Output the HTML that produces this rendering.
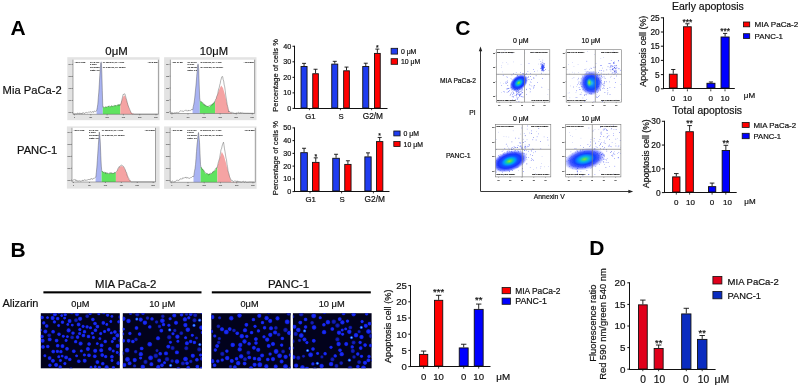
<!DOCTYPE html>
<html><head><meta charset="utf-8"><style>
html,body{margin:0;padding:0;background:#fff;width:799px;height:386px;overflow:hidden;}
svg{display:block;filter:blur(0.25px);}
text{font-family:"Liberation Sans",sans-serif;}
</style></head><body>
<svg width="799" height="386" viewBox="0 0 799 386" font-family="Liberation Sans, sans-serif">
<rect x="0.00" y="0.00" width="799.00" height="386.00" fill="#fff" stroke="none" stroke-width="0"/>
<text x="10.60" y="35.00" font-size="21" text-anchor="start" font-weight="bold" fill="#000" stroke="#000" stroke-width="0" >A</text>
<text x="2.60" y="94.00" font-size="11.2" text-anchor="start" font-weight="normal" fill="#111" stroke="#111" stroke-width="0.2" >Mia PaCa-2</text>
<text x="17.00" y="153.60" font-size="11.2" text-anchor="start" font-weight="normal" fill="#111" stroke="#111" stroke-width="0.2" >PANC-1</text>
<text x="105.30" y="55.00" font-size="11.4" text-anchor="start" font-weight="normal" fill="#111" stroke="#111" stroke-width="0.2" >0μM</text>
<text x="199.80" y="55.00" font-size="11.2" text-anchor="start" font-weight="normal" fill="#111" stroke="#111" stroke-width="0.2" >10μM</text>
<rect x="67.30" y="57.20" width="92.30" height="63.00" fill="#e3e3e3" stroke="none" stroke-width="0"/>
<rect x="73.00" y="59.70" width="85.40" height="54.60" fill="#ffffff" stroke="none" stroke-width="0"/>
<path d="M96.60,114.30 L96.60,110.25 L96.80,110.00 L97.80,104.00 L98.80,92.00 L99.80,75.00 L100.60,64.00 L101.00,61.10 L101.50,64.00 L102.00,78.00 L102.50,98.00 L102.80,107.30 L102.80,114.30 Z" fill="#a9b3f2" stroke="none"/>
<path d="M102.80,114.30 L102.80,107.30 L103.40,106.73 L104.00,107.67 L104.60,107.50 L105.20,106.73 L105.80,107.01 L106.40,106.87 L107.00,107.06 L107.60,107.16 L108.20,106.10 L108.80,105.92 L109.40,106.96 L110.00,106.31 L110.60,106.68 L111.20,105.52 L111.80,106.05 L112.40,106.35 L113.00,105.57 L113.60,106.48 L114.20,106.33 L114.80,105.02 L115.40,104.93 L116.00,105.56 L116.60,106.02 L117.20,105.15 L117.80,104.83 L118.40,105.01 L119.00,104.33 L119.60,104.48 L120.20,104.65 L120.40,104.70 L120.40,114.30 Z" fill="#5fe35f" stroke="none"/>
<path d="M120.40,114.30 L120.40,104.70 L121.50,101.50 L122.80,97.50 L124.10,95.30 L125.20,96.50 L126.50,100.00 L128.00,105.00 L129.50,109.50 L131.00,112.50 L132.50,113.60 L134.00,114.10 L134.00,114.30 Z" fill="#f5a3a3" stroke="none"/>
<path d="M73.30,113.28 L73.80,114.10 L74.30,114.10 L74.80,113.38 L75.30,113.70 L75.80,113.61 L76.30,113.87 L76.80,114.04 L77.30,113.05 L77.80,112.93 L78.30,114.04 L78.80,113.46 L79.30,113.90 L79.80,112.81 L80.30,113.40 L80.80,113.74 L81.30,113.01 L81.80,113.97 L82.30,113.87 L82.80,112.61 L83.30,112.56 L83.80,113.24 L84.30,113.76 L84.80,112.93 L85.30,112.66 L85.80,112.91 L86.30,112.29 L86.80,112.47 L87.30,112.69 L87.80,112.68 L88.30,112.22 L88.80,112.13 L89.30,112.03 L89.80,112.28 L90.30,111.95 L90.80,111.49 L91.30,112.55 L91.80,112.06 L92.30,112.10 L92.80,111.37 L93.30,112.41 L93.80,112.14 L94.30,110.98 L94.80,111.13 L95.30,111.52 L95.80,111.36 L96.30,111.24 L96.80,109.89 L97.30,107.46 L97.80,104.24 L98.30,97.72 L98.80,92.12 L99.30,84.04 L99.80,75.48 L100.30,68.13 L100.80,62.67 L101.30,62.19 L101.80,72.04 L102.30,90.42 L102.80,107.18 L103.30,106.80 L103.80,107.27 L104.30,107.44 L104.80,107.36 L105.30,106.89 L105.80,106.93 L106.30,106.97 L106.80,107.27 L107.30,106.83 L107.80,106.58 L108.30,106.64 L108.80,105.92 L109.30,105.87 L109.80,106.71 L110.30,107.03 L110.80,106.41 L111.30,106.06 L111.80,105.67 L112.30,106.06 L112.80,106.65 L113.30,106.28 L113.80,105.89 L114.30,106.26 L114.80,105.31 L115.30,105.62 L115.80,106.16 L116.30,105.56 L116.80,105.32 L117.30,104.98 L117.80,105.30 L118.30,105.78 L118.80,104.34 L119.30,105.33 L119.80,105.27 L120.30,105.26 L120.80,103.87 L121.30,102.51 L121.80,100.19 L122.30,98.02 L122.80,95.60 L123.30,94.23 L123.80,94.53 L124.30,93.82 L124.80,93.84 L125.30,95.11 L125.80,97.13 L126.30,98.98 L126.80,100.78 L127.30,102.72 L127.80,104.51 L128.30,106.06 L128.80,107.34 L129.30,108.24 L129.80,109.72 L130.30,110.65 L130.80,112.22 L131.30,113.23 L131.80,113.50 L132.30,113.87 L132.80,114.10 L133.30,113.87 L133.80,114.03 L134.30,114.10 L134.80,114.10 L135.30,114.10 L135.80,114.10 L136.30,114.10 L136.80,114.10 L137.30,114.10 L137.80,114.10 L138.30,114.10 L138.80,114.10 L139.30,114.10 L139.80,114.10 L140.30,114.10 L140.80,114.10 L141.30,114.10 L141.80,114.10 L142.30,114.10 L142.80,114.10 L143.30,114.10 L143.80,114.10 L144.30,114.10 L144.80,114.10 L145.30,114.10 L145.80,114.10 L146.30,114.10 L146.80,114.10 L147.30,114.10 L147.80,114.10 L148.30,114.10 L148.80,114.10 L149.30,114.10 L149.80,114.10 L150.30,114.10 L150.80,114.10 L151.30,114.10 L151.80,114.10 L152.30,114.10 L152.80,114.10 L153.30,114.10 L153.80,114.10 L154.30,114.10 L154.80,114.10 L155.30,114.10 L155.80,114.10 L156.30,114.10 L156.80,114.10 L157.30,114.10 L157.80,114.10" fill="none" stroke="#444" stroke-width="0.4"/>
<line x1="73.00" y1="59.70" x2="73.00" y2="114.30" stroke="#555" stroke-width="0.5"/>
<line x1="73.00" y1="114.30" x2="158.40" y2="114.30" stroke="#555" stroke-width="0.5"/>
<line x1="158.40" y1="59.70" x2="158.40" y2="114.30" stroke="#666" stroke-width="0.6"/>
<line x1="72.00" y1="112.50" x2="73.00" y2="112.50" stroke="#444" stroke-width="0.5"/>
<text x="68.60" y="113.30" font-size="2.2" textLength="3.0" lengthAdjust="spacingAndGlyphs" fill="#666" stroke="#666" stroke-width="0.12">100</text>
<line x1="72.00" y1="100.48" x2="73.00" y2="100.48" stroke="#444" stroke-width="0.5"/>
<text x="68.60" y="101.28" font-size="2.2" textLength="3.0" lengthAdjust="spacingAndGlyphs" fill="#666" stroke="#666" stroke-width="0.12">101</text>
<line x1="72.00" y1="88.46" x2="73.00" y2="88.46" stroke="#444" stroke-width="0.5"/>
<text x="68.60" y="89.26" font-size="2.2" textLength="3.0" lengthAdjust="spacingAndGlyphs" fill="#666" stroke="#666" stroke-width="0.12">102</text>
<line x1="72.00" y1="76.43" x2="73.00" y2="76.43" stroke="#444" stroke-width="0.5"/>
<text x="68.60" y="77.23" font-size="2.2" textLength="3.0" lengthAdjust="spacingAndGlyphs" fill="#666" stroke="#666" stroke-width="0.12">103</text>
<line x1="72.00" y1="64.41" x2="73.00" y2="64.41" stroke="#444" stroke-width="0.5"/>
<text x="68.60" y="65.21" font-size="2.2" textLength="3.0" lengthAdjust="spacingAndGlyphs" fill="#666" stroke="#666" stroke-width="0.12">104</text>
<line x1="74.50" y1="114.30" x2="74.50" y2="115.30" stroke="#444" stroke-width="0.5"/>
<text x="74.00" y="118.30" font-size="2.2" textLength="1.0" lengthAdjust="spacingAndGlyphs" fill="#666" stroke="#666" stroke-width="0.12">0</text>
<line x1="90.81" y1="114.30" x2="90.81" y2="115.30" stroke="#444" stroke-width="0.5"/>
<text x="89.51" y="118.30" font-size="2.2" textLength="2.6" lengthAdjust="spacingAndGlyphs" fill="#666" stroke="#666" stroke-width="0.12">500</text>
<line x1="107.11" y1="114.30" x2="107.11" y2="115.30" stroke="#444" stroke-width="0.5"/>
<text x="105.41" y="118.30" font-size="2.2" textLength="3.4" lengthAdjust="spacingAndGlyphs" fill="#666" stroke="#666" stroke-width="0.12">1000</text>
<line x1="123.42" y1="114.30" x2="123.42" y2="115.30" stroke="#444" stroke-width="0.5"/>
<text x="121.72" y="118.30" font-size="2.2" textLength="3.4" lengthAdjust="spacingAndGlyphs" fill="#666" stroke="#666" stroke-width="0.12">1500</text>
<line x1="139.72" y1="114.30" x2="139.72" y2="115.30" stroke="#444" stroke-width="0.5"/>
<text x="138.02" y="118.30" font-size="2.2" textLength="3.4" lengthAdjust="spacingAndGlyphs" fill="#666" stroke="#666" stroke-width="0.12">2000</text>
<line x1="156.03" y1="114.30" x2="156.03" y2="115.30" stroke="#444" stroke-width="0.5"/>
<text x="154.33" y="118.30" font-size="2.2" textLength="3.4" lengthAdjust="spacingAndGlyphs" fill="#666" stroke="#666" stroke-width="0.12">2500</text>
<text x="74.40" y="62.80" font-size="2.3" textLength="10.8" lengthAdjust="spacingAndGlyphs" fill="#2a2a2a" stroke="#2a2a2a" stroke-width="0.12">=Dn 14.85</text>
<text x="90.10" y="62.80" font-size="2.3" textLength="9.2" lengthAdjust="spacingAndGlyphs" fill="#2a2a2a" stroke="#2a2a2a" stroke-width="0.12">G1: 31.40%</text>
<text x="102.80" y="62.80" font-size="2.3" textLength="21.5" lengthAdjust="spacingAndGlyphs" fill="#2a2a2a" stroke="#2a2a2a" stroke-width="0.12">(p: 100.046, cv: 4.400)</text>
<text x="90.10" y="65.00" font-size="2.3" textLength="6.6" lengthAdjust="spacingAndGlyphs" fill="#2a2a2a" stroke="#2a2a2a" stroke-width="0.12">S: 37.2%</text>
<text x="90.10" y="67.80" font-size="2.3" textLength="9.5" lengthAdjust="spacingAndGlyphs" fill="#2a2a2a" stroke="#2a2a2a" stroke-width="0.12">G2: 28.13%</text>
<text x="102.80" y="67.80" font-size="2.3" textLength="23" lengthAdjust="spacingAndGlyphs" fill="#2a2a2a" stroke="#2a2a2a" stroke-width="0.12">(p: 1.97/.96, cv: 10.8%)</text>
<text x="90.10" y="70.50" font-size="2.3" textLength="9.5" lengthAdjust="spacingAndGlyphs" fill="#2a2a2a" stroke="#2a2a2a" stroke-width="0.12">Ratio: 1.9</text>
<text x="147.40" y="62.80" font-size="2.3" textLength="10.2" lengthAdjust="spacingAndGlyphs" fill="#2a2a2a" stroke="#2a2a2a" stroke-width="0.12">=Rn 2.300</text>
<rect x="164.10" y="57.20" width="92.40" height="63.00" fill="#e3e3e3" stroke="none" stroke-width="0"/>
<rect x="170.40" y="59.70" width="84.20" height="53.80" fill="#ffffff" stroke="none" stroke-width="0"/>
<path d="M192.60,113.50 L192.60,109.12 L192.90,109.00 L194.50,100.00 L196.00,85.00 L197.20,70.00 L198.00,62.00 L198.70,68.00 L199.20,85.00 L199.80,100.40 L199.80,113.50 Z" fill="#a9b3f2" stroke="none"/>
<path d="M199.80,113.50 L199.80,100.40 L200.40,101.61 L201.00,102.17 L201.60,101.50 L202.20,102.09 L202.80,103.64 L203.40,104.00 L204.00,104.40 L204.60,104.40 L205.20,105.26 L205.80,105.62 L206.40,105.93 L207.00,105.69 L207.60,106.26 L208.20,106.07 L208.80,106.39 L209.40,106.63 L210.00,106.43 L210.60,105.50 L211.20,105.00 L211.80,104.40 L212.40,103.71 L213.00,103.34 L213.60,103.27 L214.20,102.37 L214.80,101.77 L215.10,101.60 L215.10,113.50 Z" fill="#5fe35f" stroke="none"/>
<path d="M215.10,113.50 L215.10,101.60 L217.00,96.00 L219.00,90.00 L221.20,85.40 L223.00,88.00 L225.00,95.00 L227.00,104.00 L228.70,111.60 L230.50,112.80 L232.00,113.30 L232.00,113.50 Z" fill="#f5a3a3" stroke="none"/>
<path d="M170.70,113.30 L171.20,113.30 L171.70,112.33 L172.20,112.35 L172.70,113.30 L173.20,113.23 L173.70,113.12 L174.20,112.59 L174.70,112.99 L175.20,112.98 L175.70,112.92 L176.20,112.26 L176.70,112.48 L177.20,112.26 L177.70,112.56 L178.20,112.78 L178.70,112.55 L179.20,111.82 L179.70,111.52 L180.20,111.15 L180.70,110.76 L181.20,110.68 L181.70,111.22 L182.20,110.95 L182.70,110.97 L183.20,111.62 L183.70,111.04 L184.20,111.02 L184.70,110.50 L185.20,110.14 L185.70,110.50 L186.20,110.17 L186.70,110.63 L187.20,111.25 L187.70,110.73 L188.20,109.98 L188.70,110.91 L189.20,110.72 L189.70,110.57 L190.20,110.69 L190.70,110.28 L191.20,110.11 L191.70,109.29 L192.20,109.96 L192.70,109.73 L193.20,106.84 L193.70,104.86 L194.20,101.99 L194.70,97.95 L195.20,93.04 L195.70,87.99 L196.20,83.09 L196.70,76.25 L197.20,70.46 L197.70,64.80 L198.20,64.25 L198.70,68.56 L199.20,84.95 L199.70,97.93 L200.20,101.37 L200.70,101.57 L201.20,101.72 L201.70,101.82 L202.20,102.42 L202.70,103.36 L203.20,103.03 L203.70,104.49 L204.20,104.01 L204.70,105.33 L205.20,104.85 L205.70,106.05 L206.20,105.99 L206.70,106.00 L207.20,106.31 L207.70,106.54 L208.20,106.34 L208.70,105.84 L209.20,105.58 L209.70,105.89 L210.20,106.29 L210.70,105.55 L211.20,104.49 L211.70,105.23 L212.20,104.80 L212.70,104.75 L213.20,103.31 L213.70,103.44 L214.20,101.84 L214.70,102.03 L215.20,100.70 L215.70,99.24 L216.20,98.75 L216.70,96.28 L217.20,95.47 L217.70,94.22 L218.20,91.16 L218.70,88.91 L219.20,87.75 L219.70,85.14 L220.20,83.58 L220.70,80.63 L221.20,79.04 L221.70,77.00 L222.20,76.34 L222.70,76.70 L223.20,79.69 L223.70,81.04 L224.20,84.91 L224.70,86.80 L225.20,90.41 L225.70,95.06 L226.20,98.02 L226.70,101.18 L227.20,104.69 L227.70,106.55 L228.20,108.37 L228.70,111.99 L229.20,111.17 L229.70,111.37 L230.20,112.17 L230.70,112.78 L231.20,113.00 L231.70,112.17 L232.20,112.52 L232.70,112.14 L233.20,112.77 L233.70,113.26 L234.20,113.26 L234.70,113.30 L235.20,113.30 L235.70,113.30 L236.20,113.24 L236.70,112.89 L237.20,112.53 L237.70,113.12 L238.20,112.61 L238.70,112.29 L239.20,112.76 L239.70,113.30 L240.20,112.29 L240.70,112.97 L241.20,112.75 L241.70,112.96 L242.20,112.48 L242.70,113.02 L243.20,113.06 L243.70,113.10 L244.20,113.14 L244.70,113.18 L245.20,113.20 L245.70,113.21 L246.20,113.21 L246.70,113.22 L247.20,113.22 L247.70,113.23 L248.20,113.24 L248.70,113.24 L249.20,113.25 L249.70,113.25 L250.20,113.26 L250.70,113.26 L251.20,113.27 L251.70,113.27 L252.20,113.28 L252.70,113.29 L253.20,113.29 L253.70,113.30" fill="none" stroke="#444" stroke-width="0.4"/>
<line x1="170.40" y1="59.70" x2="170.40" y2="113.50" stroke="#555" stroke-width="0.5"/>
<line x1="170.40" y1="113.50" x2="254.60" y2="113.50" stroke="#555" stroke-width="0.5"/>
<line x1="254.60" y1="59.70" x2="254.60" y2="113.50" stroke="#666" stroke-width="0.6"/>
<line x1="169.40" y1="111.70" x2="170.40" y2="111.70" stroke="#444" stroke-width="0.5"/>
<text x="166.00" y="112.50" font-size="2.2" textLength="3.0" lengthAdjust="spacingAndGlyphs" fill="#666" stroke="#666" stroke-width="0.12">100</text>
<line x1="169.40" y1="99.85" x2="170.40" y2="99.85" stroke="#444" stroke-width="0.5"/>
<text x="166.00" y="100.65" font-size="2.2" textLength="3.0" lengthAdjust="spacingAndGlyphs" fill="#666" stroke="#666" stroke-width="0.12">101</text>
<line x1="169.40" y1="88.01" x2="170.40" y2="88.01" stroke="#444" stroke-width="0.5"/>
<text x="166.00" y="88.81" font-size="2.2" textLength="3.0" lengthAdjust="spacingAndGlyphs" fill="#666" stroke="#666" stroke-width="0.12">102</text>
<line x1="169.40" y1="76.16" x2="170.40" y2="76.16" stroke="#444" stroke-width="0.5"/>
<text x="166.00" y="76.96" font-size="2.2" textLength="3.0" lengthAdjust="spacingAndGlyphs" fill="#666" stroke="#666" stroke-width="0.12">103</text>
<line x1="169.40" y1="64.32" x2="170.40" y2="64.32" stroke="#444" stroke-width="0.5"/>
<text x="166.00" y="65.12" font-size="2.2" textLength="3.0" lengthAdjust="spacingAndGlyphs" fill="#666" stroke="#666" stroke-width="0.12">104</text>
<line x1="171.90" y1="113.50" x2="171.90" y2="114.50" stroke="#444" stroke-width="0.5"/>
<text x="171.40" y="117.50" font-size="2.2" textLength="1.0" lengthAdjust="spacingAndGlyphs" fill="#666" stroke="#666" stroke-width="0.12">0</text>
<line x1="187.98" y1="113.50" x2="187.98" y2="114.50" stroke="#444" stroke-width="0.5"/>
<text x="186.68" y="117.50" font-size="2.2" textLength="2.6" lengthAdjust="spacingAndGlyphs" fill="#666" stroke="#666" stroke-width="0.12">500</text>
<line x1="204.05" y1="113.50" x2="204.05" y2="114.50" stroke="#444" stroke-width="0.5"/>
<text x="202.35" y="117.50" font-size="2.2" textLength="3.4" lengthAdjust="spacingAndGlyphs" fill="#666" stroke="#666" stroke-width="0.12">1000</text>
<line x1="220.13" y1="113.50" x2="220.13" y2="114.50" stroke="#444" stroke-width="0.5"/>
<text x="218.43" y="117.50" font-size="2.2" textLength="3.4" lengthAdjust="spacingAndGlyphs" fill="#666" stroke="#666" stroke-width="0.12">1500</text>
<line x1="236.21" y1="113.50" x2="236.21" y2="114.50" stroke="#444" stroke-width="0.5"/>
<text x="234.51" y="117.50" font-size="2.2" textLength="3.4" lengthAdjust="spacingAndGlyphs" fill="#666" stroke="#666" stroke-width="0.12">2000</text>
<line x1="252.28" y1="113.50" x2="252.28" y2="114.50" stroke="#444" stroke-width="0.5"/>
<text x="250.58" y="117.50" font-size="2.2" textLength="3.4" lengthAdjust="spacingAndGlyphs" fill="#666" stroke="#666" stroke-width="0.12">2500</text>
<text x="171.80" y="62.80" font-size="2.3" textLength="10.8" lengthAdjust="spacingAndGlyphs" fill="#2a2a2a" stroke="#2a2a2a" stroke-width="0.12">=Dn 14.85</text>
<text x="187.50" y="62.80" font-size="2.3" textLength="9.2" lengthAdjust="spacingAndGlyphs" fill="#2a2a2a" stroke="#2a2a2a" stroke-width="0.12">G1: 31.40%</text>
<text x="200.20" y="62.80" font-size="2.3" textLength="21.5" lengthAdjust="spacingAndGlyphs" fill="#2a2a2a" stroke="#2a2a2a" stroke-width="0.12">(p: 100.046, cv: 4.400)</text>
<text x="187.50" y="65.00" font-size="2.3" textLength="6.6" lengthAdjust="spacingAndGlyphs" fill="#2a2a2a" stroke="#2a2a2a" stroke-width="0.12">S: 37.2%</text>
<text x="187.50" y="67.80" font-size="2.3" textLength="9.5" lengthAdjust="spacingAndGlyphs" fill="#2a2a2a" stroke="#2a2a2a" stroke-width="0.12">G2: 28.13%</text>
<text x="200.20" y="67.80" font-size="2.3" textLength="23" lengthAdjust="spacingAndGlyphs" fill="#2a2a2a" stroke="#2a2a2a" stroke-width="0.12">(p: 1.97/.96, cv: 10.8%)</text>
<text x="187.50" y="70.50" font-size="2.3" textLength="9.5" lengthAdjust="spacingAndGlyphs" fill="#2a2a2a" stroke="#2a2a2a" stroke-width="0.12">Ratio: 1.9</text>
<text x="243.60" y="62.80" font-size="2.3" textLength="10.2" lengthAdjust="spacingAndGlyphs" fill="#2a2a2a" stroke="#2a2a2a" stroke-width="0.12">=Rn 2.300</text>
<rect x="66.90" y="126.40" width="92.70" height="62.20" fill="#e3e3e3" stroke="none" stroke-width="0"/>
<rect x="72.00" y="127.80" width="83.50" height="54.20" fill="#ffffff" stroke="none" stroke-width="0"/>
<path d="M95.60,182.00 L95.60,177.33 L95.90,177.00 L97.00,165.00 L98.30,145.00 L99.30,131.70 L100.20,140.00 L101.00,160.00 L101.60,171.00 L101.60,182.00 Z" fill="#a9b3f2" stroke="none"/>
<path d="M101.60,182.00 L101.60,171.00 L102.20,171.01 L102.80,171.81 L103.40,171.94 L104.00,172.65 L104.60,172.83 L105.20,172.19 L105.80,172.27 L106.40,173.57 L107.00,172.91 L107.60,173.03 L108.20,174.17 L108.80,173.36 L109.40,173.80 L110.00,173.22 L110.60,173.37 L111.20,172.61 L111.80,173.21 L112.40,173.48 L113.00,172.96 L113.60,173.21 L114.20,173.07 L114.80,172.17 L115.40,173.10 L115.90,172.70 L115.90,182.00 Z" fill="#5fe35f" stroke="none"/>
<path d="M115.90,182.00 L115.90,172.70 L117.50,170.00 L119.50,167.00 L121.60,165.90 L123.00,166.50 L124.50,168.50 L126.50,173.00 L128.00,177.00 L129.20,180.00 L131.00,181.80 L131.00,182.00 Z" fill="#f5a3a3" stroke="none"/>
<path d="M72.30,180.80 L72.80,180.67 L73.30,179.86 L73.80,179.78 L74.30,180.01 L74.80,179.42 L75.30,179.54 L75.80,180.89 L76.30,180.20 L76.80,180.23 L77.30,181.36 L77.80,180.68 L78.30,181.26 L78.80,180.82 L79.30,181.11 L79.80,180.49 L80.30,181.14 L80.80,181.38 L81.30,180.82 L81.80,181.04 L82.30,180.86 L82.80,179.92 L83.30,180.80 L83.80,180.47 L84.30,179.96 L84.80,179.48 L85.30,180.55 L85.80,179.90 L86.30,180.15 L86.80,180.27 L87.30,179.94 L87.80,180.13 L88.30,179.32 L88.80,179.82 L89.30,179.26 L89.80,179.88 L90.30,179.74 L90.80,178.59 L91.30,178.58 L91.80,178.63 L92.30,179.55 L92.80,178.64 L93.30,178.74 L93.80,178.12 L94.30,178.24 L94.80,177.91 L95.30,177.46 L95.80,177.23 L96.30,172.75 L96.80,167.75 L97.30,160.64 L97.80,153.29 L98.30,145.50 L98.80,139.04 L99.30,131.94 L99.80,135.84 L100.30,143.00 L100.80,155.65 L101.30,166.07 L101.80,171.22 L102.30,171.74 L102.80,171.35 L103.30,172.53 L103.80,172.48 L104.30,172.27 L104.80,172.09 L105.30,173.32 L105.80,173.64 L106.30,172.50 L106.80,173.62 L107.30,173.20 L107.80,172.96 L108.30,173.17 L108.80,173.78 L109.30,173.86 L109.80,172.64 L110.30,173.37 L110.80,172.51 L111.30,173.39 L111.80,172.79 L112.30,173.51 L112.80,173.61 L113.30,172.91 L113.80,173.56 L114.30,172.56 L114.80,172.19 L115.30,172.89 L115.80,172.05 L116.30,171.60 L116.80,171.05 L117.30,170.49 L117.80,168.95 L118.30,167.84 L118.80,168.04 L119.30,166.32 L119.80,166.68 L120.30,166.34 L120.80,165.35 L121.30,165.20 L121.80,165.21 L122.30,165.60 L122.80,165.75 L123.30,166.18 L123.80,166.93 L124.30,168.05 L124.80,168.50 L125.30,169.72 L125.80,171.45 L126.30,172.10 L126.80,173.52 L127.30,175.80 L127.80,176.50 L128.30,177.82 L128.80,178.32 L129.30,179.98 L129.80,180.71 L130.30,180.43 L130.80,181.60 L131.30,181.80 L131.80,181.80 L132.30,181.80 L132.80,181.80 L133.30,181.80 L133.80,181.80 L134.30,181.80 L134.80,181.80 L135.30,181.80 L135.80,181.80 L136.30,181.80 L136.80,181.80 L137.30,181.80 L137.80,181.80 L138.30,181.80 L138.80,181.80 L139.30,181.80 L139.80,181.80 L140.30,181.80 L140.80,181.80 L141.30,181.80 L141.80,181.80 L142.30,181.80 L142.80,181.80 L143.30,181.80 L143.80,181.80 L144.30,181.80 L144.80,181.80 L145.30,181.80 L145.80,181.80 L146.30,181.80 L146.80,181.80 L147.30,181.80 L147.80,181.80 L148.30,181.80 L148.80,181.80 L149.30,181.80 L149.80,181.80 L150.30,181.80 L150.80,181.80 L151.30,181.80 L151.80,181.80 L152.30,181.80 L152.80,181.80 L153.30,181.80 L153.80,181.80 L154.30,181.80 L154.80,181.80" fill="none" stroke="#444" stroke-width="0.4"/>
<line x1="72.00" y1="127.80" x2="72.00" y2="182.00" stroke="#555" stroke-width="0.5"/>
<line x1="72.00" y1="182.00" x2="155.50" y2="182.00" stroke="#555" stroke-width="0.5"/>
<line x1="155.50" y1="127.80" x2="155.50" y2="182.00" stroke="#666" stroke-width="0.6"/>
<line x1="71.00" y1="180.20" x2="72.00" y2="180.20" stroke="#444" stroke-width="0.5"/>
<text x="67.60" y="181.00" font-size="2.2" textLength="3.0" lengthAdjust="spacingAndGlyphs" fill="#666" stroke="#666" stroke-width="0.12">100</text>
<line x1="71.00" y1="168.27" x2="72.00" y2="168.27" stroke="#444" stroke-width="0.5"/>
<text x="67.60" y="169.07" font-size="2.2" textLength="3.0" lengthAdjust="spacingAndGlyphs" fill="#666" stroke="#666" stroke-width="0.12">101</text>
<line x1="71.00" y1="156.33" x2="72.00" y2="156.33" stroke="#444" stroke-width="0.5"/>
<text x="67.60" y="157.13" font-size="2.2" textLength="3.0" lengthAdjust="spacingAndGlyphs" fill="#666" stroke="#666" stroke-width="0.12">102</text>
<line x1="71.00" y1="144.40" x2="72.00" y2="144.40" stroke="#444" stroke-width="0.5"/>
<text x="67.60" y="145.20" font-size="2.2" textLength="3.0" lengthAdjust="spacingAndGlyphs" fill="#666" stroke="#666" stroke-width="0.12">103</text>
<line x1="71.00" y1="132.46" x2="72.00" y2="132.46" stroke="#444" stroke-width="0.5"/>
<text x="67.60" y="133.26" font-size="2.2" textLength="3.0" lengthAdjust="spacingAndGlyphs" fill="#666" stroke="#666" stroke-width="0.12">104</text>
<line x1="73.50" y1="182.00" x2="73.50" y2="183.00" stroke="#444" stroke-width="0.5"/>
<text x="73.00" y="186.00" font-size="2.2" textLength="1.0" lengthAdjust="spacingAndGlyphs" fill="#666" stroke="#666" stroke-width="0.12">0</text>
<line x1="89.44" y1="182.00" x2="89.44" y2="183.00" stroke="#444" stroke-width="0.5"/>
<text x="88.14" y="186.00" font-size="2.2" textLength="2.6" lengthAdjust="spacingAndGlyphs" fill="#666" stroke="#666" stroke-width="0.12">500</text>
<line x1="105.39" y1="182.00" x2="105.39" y2="183.00" stroke="#444" stroke-width="0.5"/>
<text x="103.69" y="186.00" font-size="2.2" textLength="3.4" lengthAdjust="spacingAndGlyphs" fill="#666" stroke="#666" stroke-width="0.12">1000</text>
<line x1="121.33" y1="182.00" x2="121.33" y2="183.00" stroke="#444" stroke-width="0.5"/>
<text x="119.63" y="186.00" font-size="2.2" textLength="3.4" lengthAdjust="spacingAndGlyphs" fill="#666" stroke="#666" stroke-width="0.12">1500</text>
<line x1="137.27" y1="182.00" x2="137.27" y2="183.00" stroke="#444" stroke-width="0.5"/>
<text x="135.57" y="186.00" font-size="2.2" textLength="3.4" lengthAdjust="spacingAndGlyphs" fill="#666" stroke="#666" stroke-width="0.12">2000</text>
<line x1="153.21" y1="182.00" x2="153.21" y2="183.00" stroke="#444" stroke-width="0.5"/>
<text x="151.51" y="186.00" font-size="2.2" textLength="3.4" lengthAdjust="spacingAndGlyphs" fill="#666" stroke="#666" stroke-width="0.12">2500</text>
<text x="73.40" y="130.90" font-size="2.3" textLength="10.8" lengthAdjust="spacingAndGlyphs" fill="#2a2a2a" stroke="#2a2a2a" stroke-width="0.12">=Dn 14.85</text>
<text x="89.10" y="130.90" font-size="2.3" textLength="9.2" lengthAdjust="spacingAndGlyphs" fill="#2a2a2a" stroke="#2a2a2a" stroke-width="0.12">G1: 31.40%</text>
<text x="101.80" y="130.90" font-size="2.3" textLength="21.5" lengthAdjust="spacingAndGlyphs" fill="#2a2a2a" stroke="#2a2a2a" stroke-width="0.12">(p: 100.046, cv: 4.400)</text>
<text x="89.10" y="133.10" font-size="2.3" textLength="6.6" lengthAdjust="spacingAndGlyphs" fill="#2a2a2a" stroke="#2a2a2a" stroke-width="0.12">S: 37.2%</text>
<text x="89.10" y="135.90" font-size="2.3" textLength="9.5" lengthAdjust="spacingAndGlyphs" fill="#2a2a2a" stroke="#2a2a2a" stroke-width="0.12">G2: 28.13%</text>
<text x="101.80" y="135.90" font-size="2.3" textLength="23" lengthAdjust="spacingAndGlyphs" fill="#2a2a2a" stroke="#2a2a2a" stroke-width="0.12">(p: 1.97/.96, cv: 10.8%)</text>
<text x="89.10" y="138.60" font-size="2.3" textLength="9.5" lengthAdjust="spacingAndGlyphs" fill="#2a2a2a" stroke="#2a2a2a" stroke-width="0.12">Ratio: 1.9</text>
<text x="144.50" y="130.90" font-size="2.3" textLength="10.2" lengthAdjust="spacingAndGlyphs" fill="#2a2a2a" stroke="#2a2a2a" stroke-width="0.12">=Rn 2.300</text>
<rect x="164.10" y="126.40" width="92.50" height="62.40" fill="#e3e3e3" stroke="none" stroke-width="0"/>
<rect x="170.20" y="127.80" width="85.10" height="54.50" fill="#ffffff" stroke="none" stroke-width="0"/>
<path d="M193.50,182.30 L193.50,176.60 L193.80,176.50 L195.50,165.00 L197.00,145.00 L198.40,131.70 L199.50,142.00 L200.20,158.00 L200.60,166.70 L200.60,182.30 Z" fill="#a9b3f2" stroke="none"/>
<path d="M200.60,182.30 L200.60,166.70 L201.20,167.16 L201.80,167.79 L202.40,169.03 L203.00,169.52 L203.60,170.09 L204.20,171.26 L204.80,172.69 L205.40,173.22 L206.00,173.87 L206.60,173.35 L207.20,174.02 L207.80,173.89 L208.40,173.91 L209.00,173.62 L209.60,173.57 L210.20,174.37 L210.80,174.03 L211.40,173.60 L212.00,173.09 L212.60,171.74 L213.20,171.40 L213.80,171.34 L214.40,170.89 L215.00,170.41 L215.60,169.79 L216.20,168.02 L216.80,168.09 L217.40,167.26 L217.40,167.02 L217.40,182.30 Z" fill="#5fe35f" stroke="none"/>
<path d="M217.40,182.30 L217.40,167.02 L219.50,159.00 L221.80,151.80 L224.00,156.00 L226.00,163.00 L228.00,171.00 L230.00,178.00 L230.90,181.00 L232.00,182.10 L237.00,182.10 L237.00,182.30 Z" fill="#f5a3a3" stroke="none"/>
<path d="M170.50,181.38 L171.00,181.17 L171.50,181.55 L172.00,181.18 L172.50,181.03 L173.00,181.47 L173.50,182.10 L174.00,181.98 L174.50,181.90 L175.00,181.11 L175.50,181.33 L176.00,180.75 L176.50,180.38 L177.00,180.07 L177.50,180.00 L178.00,180.77 L178.50,180.42 L179.00,180.16 L179.50,179.94 L180.00,178.86 L180.50,178.81 L181.00,179.03 L181.50,178.96 L182.00,178.95 L182.50,178.87 L183.00,177.64 L183.50,178.24 L184.00,178.22 L184.50,177.87 L185.00,177.29 L185.50,177.58 L186.00,176.93 L186.50,178.15 L187.00,178.09 L187.50,177.68 L188.00,177.37 L188.50,178.26 L189.00,177.83 L189.50,178.30 L190.00,178.29 L190.50,177.64 L191.00,177.34 L191.50,177.43 L192.00,177.02 L192.50,176.47 L193.00,176.50 L193.50,177.04 L194.00,174.51 L194.50,171.13 L195.00,168.56 L195.50,164.69 L196.00,158.38 L196.50,151.63 L197.00,144.78 L197.50,140.95 L198.00,135.07 L198.50,132.51 L199.00,136.90 L199.50,142.19 L200.00,153.12 L200.50,164.32 L201.00,167.60 L201.50,167.69 L202.00,168.71 L202.50,169.88 L203.00,169.44 L203.50,169.97 L204.00,170.79 L204.50,172.12 L205.00,172.49 L205.50,172.55 L206.00,173.26 L206.50,173.24 L207.00,173.83 L207.50,173.45 L208.00,174.56 L208.50,174.89 L209.00,174.80 L209.50,174.33 L210.00,174.48 L210.50,172.99 L211.00,173.20 L211.50,173.74 L212.00,173.05 L212.50,172.12 L213.00,172.45 L213.50,171.59 L214.00,171.45 L214.50,170.10 L215.00,169.36 L215.50,169.10 L216.00,168.07 L216.50,167.80 L217.00,168.01 L217.50,165.99 L218.00,163.61 L218.50,161.73 L219.00,159.97 L219.50,158.90 L220.00,155.57 L220.50,152.74 L221.00,149.73 L221.50,148.91 L222.00,146.51 L222.50,144.59 L223.00,143.28 L223.50,142.18 L224.00,145.23 L224.50,148.94 L225.00,151.66 L225.50,154.97 L226.00,158.11 L226.50,159.65 L227.00,164.23 L227.50,166.54 L228.00,170.64 L228.50,172.73 L229.00,173.97 L229.50,176.53 L230.00,177.57 L230.50,178.74 L231.00,180.47 L231.50,180.10 L232.00,180.79 L232.50,180.70 L233.00,181.75 L233.50,181.81 L234.00,181.50 L234.50,180.84 L235.00,181.16 L235.50,181.14 L236.00,181.09 L236.50,181.12 L237.00,182.02 L237.50,181.00 L238.00,180.87 L238.50,182.10 L239.00,181.59 L239.50,182.10 L240.00,181.36 L240.50,182.08 L241.00,181.75 L241.50,181.96 L242.00,181.91 L242.50,181.58 L243.00,181.03 L243.50,181.21 L244.00,182.10 L244.50,182.10 L245.00,182.10 L245.50,181.45 L246.00,181.92 L246.50,182.10 L247.00,181.93 L247.50,182.10 L248.00,181.81 L248.50,182.00 L249.00,181.80 L249.50,181.82 L250.00,181.83 L250.50,181.85 L251.00,181.87 L251.50,181.88 L252.00,181.90 L252.50,181.92 L253.00,181.93 L253.50,181.95 L254.00,181.97 L254.50,181.98" fill="none" stroke="#444" stroke-width="0.4"/>
<line x1="170.20" y1="127.80" x2="170.20" y2="182.30" stroke="#555" stroke-width="0.5"/>
<line x1="170.20" y1="182.30" x2="255.30" y2="182.30" stroke="#555" stroke-width="0.5"/>
<line x1="255.30" y1="127.80" x2="255.30" y2="182.30" stroke="#666" stroke-width="0.6"/>
<line x1="169.20" y1="180.50" x2="170.20" y2="180.50" stroke="#444" stroke-width="0.5"/>
<text x="165.80" y="181.30" font-size="2.2" textLength="3.0" lengthAdjust="spacingAndGlyphs" fill="#666" stroke="#666" stroke-width="0.12">100</text>
<line x1="169.20" y1="168.50" x2="170.20" y2="168.50" stroke="#444" stroke-width="0.5"/>
<text x="165.80" y="169.30" font-size="2.2" textLength="3.0" lengthAdjust="spacingAndGlyphs" fill="#666" stroke="#666" stroke-width="0.12">101</text>
<line x1="169.20" y1="156.50" x2="170.20" y2="156.50" stroke="#444" stroke-width="0.5"/>
<text x="165.80" y="157.30" font-size="2.2" textLength="3.0" lengthAdjust="spacingAndGlyphs" fill="#666" stroke="#666" stroke-width="0.12">102</text>
<line x1="169.20" y1="144.50" x2="170.20" y2="144.50" stroke="#444" stroke-width="0.5"/>
<text x="165.80" y="145.30" font-size="2.2" textLength="3.0" lengthAdjust="spacingAndGlyphs" fill="#666" stroke="#666" stroke-width="0.12">103</text>
<line x1="169.20" y1="132.50" x2="170.20" y2="132.50" stroke="#444" stroke-width="0.5"/>
<text x="165.80" y="133.30" font-size="2.2" textLength="3.0" lengthAdjust="spacingAndGlyphs" fill="#666" stroke="#666" stroke-width="0.12">104</text>
<line x1="171.70" y1="182.30" x2="171.70" y2="183.30" stroke="#444" stroke-width="0.5"/>
<text x="171.20" y="186.30" font-size="2.2" textLength="1.0" lengthAdjust="spacingAndGlyphs" fill="#666" stroke="#666" stroke-width="0.12">0</text>
<line x1="187.95" y1="182.30" x2="187.95" y2="183.30" stroke="#444" stroke-width="0.5"/>
<text x="186.65" y="186.30" font-size="2.2" textLength="2.6" lengthAdjust="spacingAndGlyphs" fill="#666" stroke="#666" stroke-width="0.12">500</text>
<line x1="204.20" y1="182.30" x2="204.20" y2="183.30" stroke="#444" stroke-width="0.5"/>
<text x="202.50" y="186.30" font-size="2.2" textLength="3.4" lengthAdjust="spacingAndGlyphs" fill="#666" stroke="#666" stroke-width="0.12">1000</text>
<line x1="220.44" y1="182.30" x2="220.44" y2="183.30" stroke="#444" stroke-width="0.5"/>
<text x="218.74" y="186.30" font-size="2.2" textLength="3.4" lengthAdjust="spacingAndGlyphs" fill="#666" stroke="#666" stroke-width="0.12">1500</text>
<line x1="236.69" y1="182.30" x2="236.69" y2="183.30" stroke="#444" stroke-width="0.5"/>
<text x="234.99" y="186.30" font-size="2.2" textLength="3.4" lengthAdjust="spacingAndGlyphs" fill="#666" stroke="#666" stroke-width="0.12">2000</text>
<line x1="252.94" y1="182.30" x2="252.94" y2="183.30" stroke="#444" stroke-width="0.5"/>
<text x="251.24" y="186.30" font-size="2.2" textLength="3.4" lengthAdjust="spacingAndGlyphs" fill="#666" stroke="#666" stroke-width="0.12">2500</text>
<text x="171.60" y="130.90" font-size="2.3" textLength="10.8" lengthAdjust="spacingAndGlyphs" fill="#2a2a2a" stroke="#2a2a2a" stroke-width="0.12">=Dn 14.85</text>
<text x="187.30" y="130.90" font-size="2.3" textLength="9.2" lengthAdjust="spacingAndGlyphs" fill="#2a2a2a" stroke="#2a2a2a" stroke-width="0.12">G1: 31.40%</text>
<text x="200.00" y="130.90" font-size="2.3" textLength="21.5" lengthAdjust="spacingAndGlyphs" fill="#2a2a2a" stroke="#2a2a2a" stroke-width="0.12">(p: 100.046, cv: 4.400)</text>
<text x="187.30" y="133.10" font-size="2.3" textLength="6.6" lengthAdjust="spacingAndGlyphs" fill="#2a2a2a" stroke="#2a2a2a" stroke-width="0.12">S: 37.2%</text>
<text x="187.30" y="135.90" font-size="2.3" textLength="9.5" lengthAdjust="spacingAndGlyphs" fill="#2a2a2a" stroke="#2a2a2a" stroke-width="0.12">G2: 28.13%</text>
<text x="200.00" y="135.90" font-size="2.3" textLength="23" lengthAdjust="spacingAndGlyphs" fill="#2a2a2a" stroke="#2a2a2a" stroke-width="0.12">(p: 1.97/.96, cv: 10.8%)</text>
<text x="187.30" y="138.60" font-size="2.3" textLength="9.5" lengthAdjust="spacingAndGlyphs" fill="#2a2a2a" stroke="#2a2a2a" stroke-width="0.12">Ratio: 1.9</text>
<text x="244.30" y="130.90" font-size="2.3" textLength="10.2" lengthAdjust="spacingAndGlyphs" fill="#2a2a2a" stroke="#2a2a2a" stroke-width="0.12">=Rn 2.300</text>
<line x1="294.00" y1="108.50" x2="387.50" y2="108.50" stroke="#111" stroke-width="1.0"/>
<line x1="294.50" y1="109.00" x2="294.50" y2="45.78" stroke="#111" stroke-width="1.0"/>
<line x1="292.50" y1="108.40" x2="294.50" y2="108.40" stroke="#111" stroke-width="1.0"/>
<text x="291.30" y="110.92" font-size="7.2" text-anchor="end" font-weight="normal" fill="#111" stroke="#111" stroke-width="0.2" >0</text>
<line x1="292.50" y1="92.87" x2="294.50" y2="92.87" stroke="#111" stroke-width="1.0"/>
<text x="291.30" y="95.39" font-size="7.2" text-anchor="end" font-weight="normal" fill="#111" stroke="#111" stroke-width="0.2" >10</text>
<line x1="292.50" y1="77.34" x2="294.50" y2="77.34" stroke="#111" stroke-width="1.0"/>
<text x="291.30" y="79.86" font-size="7.2" text-anchor="end" font-weight="normal" fill="#111" stroke="#111" stroke-width="0.2" >20</text>
<line x1="292.50" y1="61.81" x2="294.50" y2="61.81" stroke="#111" stroke-width="1.0"/>
<text x="291.30" y="64.33" font-size="7.2" text-anchor="end" font-weight="normal" fill="#111" stroke="#111" stroke-width="0.2" >30</text>
<line x1="292.50" y1="46.28" x2="294.50" y2="46.28" stroke="#111" stroke-width="1.0"/>
<text x="291.30" y="48.80" font-size="7.2" text-anchor="end" font-weight="normal" fill="#111" stroke="#111" stroke-width="0.2" >40</text>
<line x1="304.05" y1="66.00" x2="304.05" y2="63.36" stroke="#111" stroke-width="0.9"/>
<line x1="302.05" y1="63.36" x2="306.05" y2="63.36" stroke="#111" stroke-width="0.9"/>
<rect x="301.05" y="66.45" width="6.00" height="41.55" fill="#1f3cf0" stroke="#111" stroke-width="0.9"/>
<line x1="315.55" y1="73.30" x2="315.55" y2="69.26" stroke="#111" stroke-width="0.9"/>
<line x1="313.55" y1="69.26" x2="317.55" y2="69.26" stroke="#111" stroke-width="0.9"/>
<rect x="312.75" y="73.75" width="5.60" height="34.25" fill="#ff0000" stroke="#111" stroke-width="0.9"/>
<line x1="334.75" y1="63.67" x2="334.75" y2="61.34" stroke="#111" stroke-width="0.9"/>
<line x1="332.75" y1="61.34" x2="336.75" y2="61.34" stroke="#111" stroke-width="0.9"/>
<rect x="331.75" y="64.12" width="6.00" height="43.88" fill="#1f3cf0" stroke="#111" stroke-width="0.9"/>
<line x1="346.50" y1="70.35" x2="346.50" y2="67.09" stroke="#111" stroke-width="0.9"/>
<line x1="344.50" y1="67.09" x2="348.50" y2="67.09" stroke="#111" stroke-width="0.9"/>
<rect x="343.65" y="70.80" width="5.70" height="37.20" fill="#ff0000" stroke="#111" stroke-width="0.9"/>
<line x1="365.75" y1="66.00" x2="365.75" y2="63.21" stroke="#111" stroke-width="0.9"/>
<line x1="363.75" y1="63.21" x2="367.75" y2="63.21" stroke="#111" stroke-width="0.9"/>
<rect x="362.75" y="66.45" width="6.00" height="41.55" fill="#1f3cf0" stroke="#111" stroke-width="0.9"/>
<line x1="377.35" y1="52.96" x2="377.35" y2="49.08" stroke="#111" stroke-width="0.9"/>
<line x1="375.35" y1="49.08" x2="379.35" y2="49.08" stroke="#111" stroke-width="0.9"/>
<rect x="374.45" y="53.41" width="5.80" height="54.59" fill="#ff0000" stroke="#111" stroke-width="0.9"/>
<text x="377.35" y="50.09" font-size="6.8" text-anchor="middle" font-weight="normal" fill="#111" stroke="#111" stroke-width="0.2" >*</text>
<line x1="309.40" y1="108.40" x2="309.40" y2="110.20" stroke="#111" stroke-width="0.8"/>
<line x1="340.40" y1="108.40" x2="340.40" y2="110.20" stroke="#111" stroke-width="0.8"/>
<line x1="371.60" y1="108.40" x2="371.60" y2="110.20" stroke="#111" stroke-width="0.8"/>
<text x="310.40" y="118.70" font-size="7.7" text-anchor="middle" font-weight="normal" fill="#111" stroke="#111" stroke-width="0.2" >G1</text>
<text x="341.00" y="118.70" font-size="7.7" text-anchor="middle" font-weight="normal" fill="#111" stroke="#111" stroke-width="0.2" >S</text>
<text x="372.90" y="118.70" font-size="8.3" text-anchor="middle" font-weight="normal" fill="#111" stroke="#111" stroke-width="0.2" >G2/M</text>
<text transform="translate(278.30,75.40) rotate(-90)" x="0" y="0" font-size="7.5" text-anchor="middle" fill="#111" stroke="#111" stroke-width="0.2">Percentage of cells %</text>
<rect x="391.10" y="48.30" width="6.50" height="5.80" fill="#1f3cf0" stroke="#111" stroke-width="0.8"/>
<rect x="391.10" y="58.70" width="6.50" height="5.60" fill="#ff0000" stroke="#111" stroke-width="0.8"/>
<text x="400.90" y="53.90" font-size="6.9" text-anchor="start" font-weight="normal" fill="#111" stroke="#111" stroke-width="0.2" >0 μM</text>
<text x="400.90" y="64.20" font-size="6.9" text-anchor="start" font-weight="normal" fill="#111" stroke="#111" stroke-width="0.2" >10 μM</text>
<line x1="294.00" y1="191.50" x2="389.50" y2="191.50" stroke="#111" stroke-width="1.0"/>
<line x1="294.50" y1="192.00" x2="294.50" y2="127.40" stroke="#111" stroke-width="1.0"/>
<line x1="292.50" y1="191.60" x2="294.50" y2="191.60" stroke="#111" stroke-width="1.0"/>
<text x="291.30" y="194.12" font-size="7.2" text-anchor="end" font-weight="normal" fill="#111" stroke="#111" stroke-width="0.2" >0</text>
<line x1="292.50" y1="178.86" x2="294.50" y2="178.86" stroke="#111" stroke-width="1.0"/>
<text x="291.30" y="181.38" font-size="7.2" text-anchor="end" font-weight="normal" fill="#111" stroke="#111" stroke-width="0.2" >10</text>
<line x1="292.50" y1="166.12" x2="294.50" y2="166.12" stroke="#111" stroke-width="1.0"/>
<text x="291.30" y="168.64" font-size="7.2" text-anchor="end" font-weight="normal" fill="#111" stroke="#111" stroke-width="0.2" >20</text>
<line x1="292.50" y1="153.38" x2="294.50" y2="153.38" stroke="#111" stroke-width="1.0"/>
<text x="291.30" y="155.90" font-size="7.2" text-anchor="end" font-weight="normal" fill="#111" stroke="#111" stroke-width="0.2" >30</text>
<line x1="292.50" y1="140.64" x2="294.50" y2="140.64" stroke="#111" stroke-width="1.0"/>
<text x="291.30" y="143.16" font-size="7.2" text-anchor="end" font-weight="normal" fill="#111" stroke="#111" stroke-width="0.2" >40</text>
<line x1="292.50" y1="127.90" x2="294.50" y2="127.90" stroke="#111" stroke-width="1.0"/>
<text x="291.30" y="130.42" font-size="7.2" text-anchor="end" font-weight="normal" fill="#111" stroke="#111" stroke-width="0.2" >50</text>
<line x1="304.05" y1="152.23" x2="304.05" y2="148.28" stroke="#111" stroke-width="0.9"/>
<line x1="302.05" y1="148.28" x2="306.05" y2="148.28" stroke="#111" stroke-width="0.9"/>
<rect x="300.75" y="152.68" width="6.60" height="38.32" fill="#1f3cf0" stroke="#111" stroke-width="0.9"/>
<line x1="315.75" y1="161.92" x2="315.75" y2="157.84" stroke="#111" stroke-width="0.9"/>
<line x1="313.75" y1="157.84" x2="317.75" y2="157.84" stroke="#111" stroke-width="0.9"/>
<rect x="312.45" y="162.37" width="6.60" height="28.63" fill="#ff0000" stroke="#111" stroke-width="0.9"/>
<text x="315.75" y="158.85" font-size="6.8" text-anchor="middle" font-weight="normal" fill="#111" stroke="#111" stroke-width="0.2" >*</text>
<line x1="336.05" y1="157.84" x2="336.05" y2="154.27" stroke="#111" stroke-width="0.9"/>
<line x1="334.05" y1="154.27" x2="338.05" y2="154.27" stroke="#111" stroke-width="0.9"/>
<rect x="332.75" y="158.29" width="6.60" height="32.71" fill="#1f3cf0" stroke="#111" stroke-width="0.9"/>
<line x1="347.90" y1="163.95" x2="347.90" y2="160.77" stroke="#111" stroke-width="0.9"/>
<line x1="345.90" y1="160.77" x2="349.90" y2="160.77" stroke="#111" stroke-width="0.9"/>
<rect x="344.75" y="164.40" width="6.30" height="26.60" fill="#ff0000" stroke="#111" stroke-width="0.9"/>
<line x1="368.00" y1="156.44" x2="368.00" y2="152.87" stroke="#111" stroke-width="0.9"/>
<line x1="366.00" y1="152.87" x2="370.00" y2="152.87" stroke="#111" stroke-width="0.9"/>
<rect x="364.85" y="156.89" width="6.30" height="34.11" fill="#1f3cf0" stroke="#111" stroke-width="0.9"/>
<line x1="379.70" y1="141.15" x2="379.70" y2="137.45" stroke="#111" stroke-width="0.9"/>
<line x1="377.70" y1="137.45" x2="381.70" y2="137.45" stroke="#111" stroke-width="0.9"/>
<rect x="376.55" y="141.60" width="6.30" height="49.40" fill="#ff0000" stroke="#111" stroke-width="0.9"/>
<text x="379.70" y="138.47" font-size="6.8" text-anchor="middle" font-weight="normal" fill="#111" stroke="#111" stroke-width="0.2" >*</text>
<line x1="310.00" y1="191.60" x2="310.00" y2="193.40" stroke="#111" stroke-width="0.8"/>
<line x1="341.60" y1="191.60" x2="341.60" y2="193.40" stroke="#111" stroke-width="0.8"/>
<line x1="373.40" y1="191.60" x2="373.40" y2="193.40" stroke="#111" stroke-width="0.8"/>
<text x="310.60" y="202.00" font-size="7.8" text-anchor="middle" font-weight="normal" fill="#111" stroke="#111" stroke-width="0.2" >G1</text>
<text x="342.00" y="202.00" font-size="7.8" text-anchor="middle" font-weight="normal" fill="#111" stroke="#111" stroke-width="0.2" >S</text>
<text x="374.75" y="202.00" font-size="8.3" text-anchor="middle" font-weight="normal" fill="#111" stroke="#111" stroke-width="0.2" >G2/M</text>
<text transform="translate(278.40,158.00) rotate(-90)" x="0" y="0" font-size="7.7" text-anchor="middle" fill="#111" stroke="#111" stroke-width="0.2">Percentage of cells %</text>
<rect x="393.80" y="131.00" width="6.30" height="4.90" fill="#1f3cf0" stroke="#111" stroke-width="0.8"/>
<rect x="393.80" y="141.50" width="6.30" height="5.00" fill="#ff0000" stroke="#111" stroke-width="0.8"/>
<text x="403.60" y="136.00" font-size="6.9" text-anchor="start" font-weight="normal" fill="#111" stroke="#111" stroke-width="0.2" >0 μM</text>
<text x="403.60" y="146.60" font-size="6.9" text-anchor="start" font-weight="normal" fill="#111" stroke="#111" stroke-width="0.2" >10 μM</text>
<text x="455.20" y="35.00" font-size="21" text-anchor="start" font-weight="bold" fill="#000" stroke="#000" stroke-width="0" >C</text>
<line x1="480.50" y1="191.30" x2="480.50" y2="50.00" stroke="#222" stroke-width="0.9"/>
<path d="M478.8,51.2 L480.5,46.4 L482.2,51.2 Z" fill="#222"/>
<line x1="480.50" y1="191.50" x2="629.00" y2="191.50" stroke="#222" stroke-width="0.9"/>
<path d="M628.4,189.8 L633.2,191.5 L628.4,193.2 Z" fill="#222"/>
<text x="549.30" y="198.90" font-size="6.8" text-anchor="middle" font-weight="normal" fill="#111" stroke="#111" stroke-width="0.2" >Annexin V</text>
<text x="469.30" y="115.00" font-size="6.7" text-anchor="start" font-weight="normal" fill="#111" stroke="#111" stroke-width="0.2" >PI</text>
<text x="440.00" y="83.00" font-size="6.7" text-anchor="start" font-weight="normal" fill="#111" stroke="#111" stroke-width="0.2" >MIA PaCa-2</text>
<text x="445.90" y="158.30" font-size="6.9" text-anchor="start" font-weight="normal" fill="#111" stroke="#111" stroke-width="0.2" >PANC-1</text>
<text x="513.00" y="43.00" font-size="7.0" text-anchor="start" font-weight="normal" fill="#111" stroke="#111" stroke-width="0.2" >0 μM</text>
<text x="581.60" y="43.00" font-size="6.7" text-anchor="start" font-weight="normal" fill="#111" stroke="#111" stroke-width="0.2" >10 μM</text>
<text x="513.00" y="120.50" font-size="7.0" text-anchor="start" font-weight="normal" fill="#111" stroke="#111" stroke-width="0.2" >0 μM</text>
<text x="581.60" y="120.50" font-size="6.7" text-anchor="start" font-weight="normal" fill="#111" stroke="#111" stroke-width="0.2" >10 μM</text>
<clipPath id="clip11"><rect x="496.3" y="49.7" width="53.49999999999994" height="52.39999999999999"/></clipPath>
<rect x="496.30" y="49.70" width="53.50" height="52.40" fill="#fff" stroke="none" stroke-width="0"/>
<g clip-path="url(#clip11)">
<rect x="520.5" y="79.0" width="0.5" height="0.5" fill="#7080e8"/>
<rect x="545.7" y="74.1" width="0.5" height="0.5" fill="#7080e8"/>
<rect x="523.5" y="80.5" width="0.5" height="0.5" fill="#7080e8"/>
<rect x="506.2" y="76.5" width="0.5" height="0.5" fill="#7080e8"/>
<rect x="530.0" y="91.3" width="0.5" height="0.5" fill="#7080e8"/>
<rect x="501.3" y="65.6" width="0.5" height="0.5" fill="#7080e8"/>
<rect x="501.2" y="92.1" width="0.5" height="0.5" fill="#7080e8"/>
<rect x="533.4" y="51.9" width="0.5" height="0.5" fill="#7080e8"/>
<rect x="548.8" y="100.3" width="0.5" height="0.5" fill="#7080e8"/>
<rect x="531.3" y="82.0" width="0.5" height="0.5" fill="#7080e8"/>
<rect x="504.7" y="50.5" width="0.5" height="0.5" fill="#7080e8"/>
<rect x="524.6" y="52.8" width="0.5" height="0.5" fill="#7080e8"/>
<rect x="506.5" y="62.4" width="0.5" height="0.5" fill="#7080e8"/>
<rect x="497.9" y="74.0" width="0.5" height="0.5" fill="#7080e8"/>
<rect x="519.9" y="93.8" width="0.5" height="0.5" fill="#7080e8"/>
<rect x="524.1" y="83.3" width="0.5" height="0.5" fill="#7080e8"/>
<rect x="523.0" y="84.4" width="0.5" height="0.5" fill="#7080e8"/>
<rect x="520.8" y="64.3" width="0.5" height="0.5" fill="#7080e8"/>
<rect x="549.7" y="101.9" width="0.5" height="0.5" fill="#7080e8"/>
<rect x="541.3" y="86.8" width="0.5" height="0.5" fill="#7080e8"/>
<rect x="513.2" y="61.7" width="0.5" height="0.5" fill="#7080e8"/>
<rect x="511.8" y="53.4" width="0.5" height="0.5" fill="#7080e8"/>
<rect x="537.3" y="70.7" width="0.5" height="0.5" fill="#7080e8"/>
<rect x="541.6" y="70.0" width="0.5" height="0.5" fill="#7080e8"/>
<rect x="547.6" y="94.1" width="0.5" height="0.5" fill="#7080e8"/>
<rect x="496.3" y="60.7" width="0.5" height="0.5" fill="#7080e8"/>
<rect x="545.0" y="74.3" width="0.5" height="0.5" fill="#7080e8"/>
<rect x="548.7" y="70.5" width="0.5" height="0.5" fill="#7080e8"/>
<rect x="500.2" y="82.7" width="0.5" height="0.5" fill="#7080e8"/>
<rect x="538.0" y="63.8" width="0.5" height="0.5" fill="#7080e8"/>
<rect x="501.0" y="67.1" width="0.5" height="0.5" fill="#7080e8"/>
<rect x="547.9" y="89.4" width="0.5" height="0.5" fill="#7080e8"/>
<rect x="502.6" y="62.6" width="0.5" height="0.5" fill="#7080e8"/>
<rect x="501.7" y="52.8" width="0.5" height="0.5" fill="#7080e8"/>
<rect x="538.9" y="59.0" width="0.5" height="0.5" fill="#7080e8"/>
<rect x="526.2" y="73.1" width="0.5" height="0.5" fill="#7080e8"/>
<rect x="506.5" y="88.1" width="0.5" height="0.5" fill="#7080e8"/>
<rect x="503.3" y="83.4" width="0.5" height="0.5" fill="#7080e8"/>
<rect x="502.5" y="71.7" width="0.5" height="0.5" fill="#7080e8"/>
<rect x="507.7" y="63.8" width="0.5" height="0.5" fill="#7080e8"/>
<rect x="522.2" y="89.1" width="0.6" height="0.6" fill="#6070f0"/>
<rect x="517.8" y="90.7" width="0.6" height="0.6" fill="#3a48f0"/>
<rect x="512.9" y="96.8" width="0.6" height="0.6" fill="#2030ff"/>
<rect x="518.7" y="91.4" width="0.6" height="0.6" fill="#1020d0"/>
<rect x="516.9" y="99.3" width="0.6" height="0.6" fill="#6070f0"/>
<rect x="518.5" y="86.4" width="0.6" height="0.6" fill="#2030ff"/>
<rect x="520.3" y="94.2" width="0.6" height="0.6" fill="#3a48f0"/>
<rect x="519.9" y="91.2" width="0.6" height="0.6" fill="#1020d0"/>
<rect x="519.8" y="95.5" width="0.6" height="0.6" fill="#3a48f0"/>
<rect x="518.4" y="88.3" width="0.6" height="0.6" fill="#3a48f0"/>
<rect x="516.4" y="94.0" width="0.6" height="0.6" fill="#3a48f0"/>
<rect x="516.9" y="87.8" width="0.6" height="0.6" fill="#3a48f0"/>
<rect x="516.1" y="86.1" width="0.6" height="0.6" fill="#1020d0"/>
<rect x="514.9" y="87.5" width="0.6" height="0.6" fill="#2030ff"/>
<rect x="519.8" y="94.5" width="0.6" height="0.6" fill="#6070f0"/>
<rect x="517.5" y="98.5" width="0.6" height="0.6" fill="#6070f0"/>
<rect x="511.9" y="95.9" width="0.6" height="0.6" fill="#1020d0"/>
<rect x="516.7" y="93.7" width="0.6" height="0.6" fill="#2030ff"/>
<rect x="519.4" y="94.8" width="0.6" height="0.6" fill="#2030ff"/>
<rect x="516.0" y="101.7" width="0.6" height="0.6" fill="#3a48f0"/>
<rect x="517.2" y="88.8" width="0.6" height="0.6" fill="#1020d0"/>
<rect x="516.3" y="91.3" width="0.6" height="0.6" fill="#3a48f0"/>
<rect x="516.5" y="96.7" width="0.6" height="0.6" fill="#3a48f0"/>
<rect x="518.5" y="92.2" width="0.6" height="0.6" fill="#1020d0"/>
<rect x="521.3" y="89.8" width="0.6" height="0.6" fill="#3a48f0"/>
<rect x="511.8" y="84.6" width="0.6" height="0.6" fill="#1020d0"/>
<rect x="520.9" y="86.5" width="0.6" height="0.6" fill="#2030ff"/>
<rect x="521.1" y="91.6" width="0.6" height="0.6" fill="#1020d0"/>
<rect x="519.4" y="92.5" width="0.6" height="0.6" fill="#3a48f0"/>
<rect x="518.3" y="90.7" width="0.6" height="0.6" fill="#6070f0"/>
<rect x="516.7" y="80.0" width="0.6" height="0.6" fill="#3a48f0"/>
<rect x="518.9" y="80.0" width="0.6" height="0.6" fill="#6070f0"/>
<rect x="519.9" y="93.6" width="0.6" height="0.6" fill="#2030ff"/>
<rect x="519.2" y="86.9" width="0.6" height="0.6" fill="#2030ff"/>
<rect x="519.6" y="85.8" width="0.6" height="0.6" fill="#1020d0"/>
<rect x="516.9" y="91.2" width="0.6" height="0.6" fill="#2030ff"/>
<rect x="520.7" y="94.1" width="0.6" height="0.6" fill="#6070f0"/>
<rect x="520.5" y="85.2" width="0.6" height="0.6" fill="#1020d0"/>
<rect x="521.1" y="87.6" width="0.6" height="0.6" fill="#1020d0"/>
<rect x="512.2" y="94.2" width="0.6" height="0.6" fill="#2030ff"/>
<rect x="513.9" y="90.0" width="0.6" height="0.6" fill="#6070f0"/>
<rect x="514.6" y="87.3" width="0.6" height="0.6" fill="#3a48f0"/>
<rect x="518.5" y="90.1" width="0.6" height="0.6" fill="#1020d0"/>
<rect x="517.2" y="91.5" width="0.6" height="0.6" fill="#6070f0"/>
<rect x="519.6" y="96.1" width="0.6" height="0.6" fill="#3a48f0"/>
<rect x="517.3" y="86.1" width="0.6" height="0.6" fill="#1020d0"/>
<rect x="515.1" y="90.7" width="0.6" height="0.6" fill="#1020d0"/>
<rect x="516.3" y="87.8" width="0.6" height="0.6" fill="#1020d0"/>
<rect x="518.8" y="82.8" width="0.6" height="0.6" fill="#3a48f0"/>
<rect x="519.2" y="87.3" width="0.6" height="0.6" fill="#6070f0"/>
<rect x="517.6" y="93.3" width="0.6" height="0.6" fill="#6070f0"/>
<rect x="520.0" y="82.4" width="0.6" height="0.6" fill="#2030ff"/>
<rect x="519.3" y="89.5" width="0.6" height="0.6" fill="#3a48f0"/>
<rect x="519.6" y="94.4" width="0.6" height="0.6" fill="#3a48f0"/>
<rect x="518.5" y="86.4" width="0.6" height="0.6" fill="#1020d0"/>
<rect x="515.1" y="83.7" width="0.6" height="0.6" fill="#1020d0"/>
<rect x="515.0" y="99.2" width="0.6" height="0.6" fill="#6070f0"/>
<rect x="517.8" y="89.7" width="0.6" height="0.6" fill="#6070f0"/>
<rect x="515.0" y="88.9" width="0.6" height="0.6" fill="#2030ff"/>
<rect x="515.4" y="86.8" width="0.6" height="0.6" fill="#3a48f0"/>
<rect x="522.4" y="92.2" width="0.6" height="0.6" fill="#3a48f0"/>
<rect x="518.1" y="81.9" width="0.6" height="0.6" fill="#2030ff"/>
<rect x="513.5" y="93.0" width="0.6" height="0.6" fill="#6070f0"/>
<rect x="521.3" y="88.7" width="0.6" height="0.6" fill="#3a48f0"/>
<rect x="518.2" y="87.3" width="0.6" height="0.6" fill="#2030ff"/>
<rect x="517.3" y="84.5" width="0.6" height="0.6" fill="#2030ff"/>
<rect x="518.2" y="94.3" width="0.6" height="0.6" fill="#6070f0"/>
<rect x="510.6" y="87.7" width="0.6" height="0.6" fill="#3a48f0"/>
<rect x="513.3" y="96.2" width="0.6" height="0.6" fill="#3a48f0"/>
<rect x="522.8" y="96.7" width="0.6" height="0.6" fill="#1020d0"/>
<rect x="519.3" y="94.7" width="0.6" height="0.6" fill="#2030ff"/>
<rect x="514.6" y="95.2" width="0.6" height="0.6" fill="#6070f0"/>
<rect x="513.2" y="92.3" width="0.6" height="0.6" fill="#3a48f0"/>
<rect x="521.8" y="96.5" width="0.6" height="0.6" fill="#2030ff"/>
<rect x="518.6" y="101.1" width="0.6" height="0.6" fill="#2030ff"/>
<rect x="520.6" y="89.8" width="0.6" height="0.6" fill="#6070f0"/>
<rect x="516.9" y="98.6" width="0.6" height="0.6" fill="#2030ff"/>
<rect x="516.5" y="92.4" width="0.6" height="0.6" fill="#1020d0"/>
<rect x="515.6" y="95.1" width="0.6" height="0.6" fill="#6070f0"/>
<rect x="516.5" y="90.8" width="0.6" height="0.6" fill="#2030ff"/>
<rect x="516.5" y="91.3" width="0.6" height="0.6" fill="#6070f0"/>
<rect x="514.8" y="80.4" width="0.6" height="0.6" fill="#1020d0"/>
<rect x="519.2" y="95.5" width="0.6" height="0.6" fill="#1020d0"/>
<rect x="520.3" y="88.8" width="0.6" height="0.6" fill="#2030ff"/>
<rect x="517.3" y="85.3" width="0.6" height="0.6" fill="#6070f0"/>
<rect x="519.0" y="85.1" width="0.6" height="0.6" fill="#3a48f0"/>
<rect x="511.9" y="89.3" width="0.6" height="0.6" fill="#6070f0"/>
<rect x="516.2" y="95.2" width="0.6" height="0.6" fill="#3a48f0"/>
<rect x="516.7" y="93.3" width="0.6" height="0.6" fill="#6070f0"/>
<rect x="515.5" y="89.2" width="0.6" height="0.6" fill="#2030ff"/>
<rect x="509.2" y="90.1" width="0.6" height="0.6" fill="#2030ff"/>
<rect x="516.4" y="83.7" width="0.6" height="0.6" fill="#1020d0"/>
<rect x="495.5" y="95.3" width="0.6" height="0.6" fill="#2030ff"/>
<rect x="508.5" y="91.5" width="0.6" height="0.6" fill="#2030ff"/>
<rect x="523.8" y="74.3" width="0.6" height="0.6" fill="#1020d0"/>
<rect x="522.1" y="88.3" width="0.6" height="0.6" fill="#3a48f0"/>
<rect x="517.8" y="97.3" width="0.6" height="0.6" fill="#1020d0"/>
<rect x="515.1" y="84.7" width="0.6" height="0.6" fill="#1020d0"/>
<rect x="501.2" y="85.0" width="0.6" height="0.6" fill="#3a48f0"/>
<rect x="502.9" y="74.9" width="0.6" height="0.6" fill="#2030ff"/>
<rect x="523.0" y="84.0" width="0.6" height="0.6" fill="#6070f0"/>
<rect x="519.1" y="88.5" width="0.6" height="0.6" fill="#1020d0"/>
<rect x="531.4" y="79.4" width="0.6" height="0.6" fill="#2030ff"/>
<rect x="520.1" y="72.3" width="0.6" height="0.6" fill="#3a48f0"/>
<rect x="506.9" y="76.9" width="0.6" height="0.6" fill="#2030ff"/>
<rect x="516.4" y="89.9" width="0.6" height="0.6" fill="#3a48f0"/>
<rect x="503.5" y="91.3" width="0.6" height="0.6" fill="#3a48f0"/>
<rect x="504.1" y="91.7" width="0.6" height="0.6" fill="#3a48f0"/>
<rect x="526.2" y="88.8" width="0.6" height="0.6" fill="#6070f0"/>
<rect x="521.7" y="75.9" width="0.6" height="0.6" fill="#6070f0"/>
<rect x="520.6" y="77.4" width="0.6" height="0.6" fill="#3a48f0"/>
<rect x="520.2" y="78.3" width="0.6" height="0.6" fill="#3a48f0"/>
<rect x="521.9" y="82.1" width="0.6" height="0.6" fill="#1020d0"/>
<rect x="533.6" y="78.3" width="0.6" height="0.6" fill="#1020d0"/>
<rect x="506.7" y="89.1" width="0.6" height="0.6" fill="#3a48f0"/>
<rect x="513.5" y="93.5" width="0.6" height="0.6" fill="#2030ff"/>
<rect x="528.9" y="79.5" width="0.6" height="0.6" fill="#6070f0"/>
<rect x="528.7" y="63.0" width="0.6" height="0.6" fill="#2030ff"/>
<rect x="510.7" y="78.3" width="0.6" height="0.6" fill="#6070f0"/>
<rect x="508.1" y="91.0" width="0.6" height="0.6" fill="#3a48f0"/>
<rect x="517.1" y="75.2" width="0.6" height="0.6" fill="#2030ff"/>
<rect x="528.3" y="76.5" width="0.6" height="0.6" fill="#1020d0"/>
<rect x="523.3" y="82.4" width="0.6" height="0.6" fill="#3a48f0"/>
<rect x="522.6" y="83.1" width="0.6" height="0.6" fill="#6070f0"/>
<rect x="520.7" y="79.1" width="0.6" height="0.6" fill="#2030ff"/>
<rect x="530.0" y="81.7" width="0.6" height="0.6" fill="#2030ff"/>
<rect x="515.8" y="77.8" width="0.6" height="0.6" fill="#1020d0"/>
<rect x="514.5" y="89.1" width="0.6" height="0.6" fill="#3a48f0"/>
<rect x="517.4" y="82.6" width="0.6" height="0.6" fill="#2030ff"/>
<rect x="519.1" y="77.8" width="0.6" height="0.6" fill="#1020d0"/>
<rect x="517.4" y="89.2" width="0.6" height="0.6" fill="#3a48f0"/>
<rect x="515.2" y="83.1" width="0.6" height="0.6" fill="#2030ff"/>
<rect x="518.9" y="85.1" width="0.6" height="0.6" fill="#1020d0"/>
<rect x="513.6" y="84.4" width="0.6" height="0.6" fill="#6070f0"/>
<rect x="517.7" y="77.4" width="0.6" height="0.6" fill="#2030ff"/>
<rect x="511.6" y="74.7" width="0.6" height="0.6" fill="#1020d0"/>
<rect x="525.4" y="81.9" width="0.6" height="0.6" fill="#6070f0"/>
<rect x="513.4" y="73.5" width="0.6" height="0.6" fill="#1020d0"/>
<rect x="522.3" y="84.1" width="0.6" height="0.6" fill="#6070f0"/>
<rect x="519.4" y="85.2" width="0.6" height="0.6" fill="#6070f0"/>
<rect x="533.1" y="69.2" width="0.6" height="0.6" fill="#2030ff"/>
<rect x="529.8" y="91.7" width="0.6" height="0.6" fill="#6070f0"/>
<rect x="518.2" y="92.5" width="0.6" height="0.6" fill="#3a48f0"/>
<rect x="511.2" y="87.0" width="0.6" height="0.6" fill="#1020d0"/>
<rect x="507.3" y="82.4" width="0.6" height="0.6" fill="#1020d0"/>
<rect x="520.1" y="80.9" width="0.6" height="0.6" fill="#2030ff"/>
<rect x="515.4" y="79.1" width="0.6" height="0.6" fill="#1020d0"/>
<rect x="506.8" y="91.9" width="0.6" height="0.6" fill="#1020d0"/>
<rect x="524.2" y="78.1" width="0.6" height="0.6" fill="#6070f0"/>
<rect x="523.2" y="73.0" width="0.6" height="0.6" fill="#1020d0"/>
<rect x="526.4" y="73.7" width="0.6" height="0.6" fill="#2030ff"/>
<rect x="505.2" y="82.7" width="0.6" height="0.6" fill="#2030ff"/>
<rect x="507.2" y="88.4" width="0.6" height="0.6" fill="#2030ff"/>
<rect x="512.4" y="99.7" width="0.6" height="0.6" fill="#1020d0"/>
<rect x="515.0" y="86.3" width="0.6" height="0.6" fill="#1020d0"/>
<rect x="508.4" y="88.2" width="0.6" height="0.6" fill="#1020d0"/>
<rect x="524.1" y="75.0" width="0.6" height="0.6" fill="#1020d0"/>
<rect x="511.2" y="84.3" width="0.6" height="0.6" fill="#6070f0"/>
<rect x="513.6" y="87.2" width="0.6" height="0.6" fill="#6070f0"/>
<rect x="507.3" y="80.7" width="0.6" height="0.6" fill="#2030ff"/>
<rect x="524.1" y="78.3" width="0.6" height="0.6" fill="#2030ff"/>
<rect x="511.0" y="82.8" width="0.6" height="0.6" fill="#1020d0"/>
<rect x="525.5" y="78.8" width="0.6" height="0.6" fill="#1020d0"/>
<rect x="541.9" y="70.1" width="0.6" height="0.6" fill="#6070f0"/>
<rect x="535.8" y="75.5" width="0.6" height="0.6" fill="#1020d0"/>
<rect x="514.8" y="79.7" width="0.6" height="0.6" fill="#3a48f0"/>
<rect x="522.2" y="80.4" width="0.6" height="0.6" fill="#1020d0"/>
<rect x="537.2" y="82.4" width="0.6" height="0.6" fill="#3a48f0"/>
<rect x="514.8" y="83.2" width="0.6" height="0.6" fill="#1020d0"/>
<rect x="514.9" y="86.9" width="0.6" height="0.6" fill="#2030ff"/>
<rect x="518.0" y="86.5" width="0.6" height="0.6" fill="#6070f0"/>
<rect x="511.1" y="92.7" width="0.6" height="0.6" fill="#1020d0"/>
<rect x="507.5" y="85.1" width="0.6" height="0.6" fill="#1020d0"/>
<rect x="516.0" y="94.3" width="0.6" height="0.6" fill="#3a48f0"/>
<rect x="527.6" y="71.1" width="0.6" height="0.6" fill="#3a48f0"/>
<rect x="511.1" y="89.7" width="0.6" height="0.6" fill="#6070f0"/>
<rect x="515.5" y="74.3" width="0.6" height="0.6" fill="#6070f0"/>
<rect x="522.5" y="89.8" width="0.6" height="0.6" fill="#3a48f0"/>
<rect x="506.2" y="83.1" width="0.6" height="0.6" fill="#3a48f0"/>
<rect x="525.1" y="74.2" width="0.6" height="0.6" fill="#3a48f0"/>
<rect x="519.4" y="80.2" width="0.6" height="0.6" fill="#2030ff"/>
<rect x="524.2" y="78.0" width="0.6" height="0.6" fill="#2030ff"/>
<rect x="515.2" y="82.7" width="0.6" height="0.6" fill="#6070f0"/>
<rect x="522.1" y="81.0" width="0.6" height="0.6" fill="#3a48f0"/>
<rect x="507.7" y="88.0" width="0.6" height="0.6" fill="#6070f0"/>
<rect x="512.6" y="88.1" width="0.6" height="0.6" fill="#6070f0"/>
<rect x="517.7" y="93.9" width="0.6" height="0.6" fill="#2030ff"/>
<rect x="517.1" y="75.5" width="0.6" height="0.6" fill="#3a48f0"/>
<rect x="510.1" y="93.9" width="0.6" height="0.6" fill="#1020d0"/>
<rect x="517.7" y="76.2" width="0.6" height="0.6" fill="#6070f0"/>
<rect x="522.0" y="92.3" width="0.6" height="0.6" fill="#3a48f0"/>
<rect x="514.4" y="89.2" width="0.6" height="0.6" fill="#2030ff"/>
<rect x="513.6" y="88.2" width="0.6" height="0.6" fill="#2030ff"/>
<rect x="512.6" y="91.6" width="0.6" height="0.6" fill="#1020d0"/>
<rect x="521.5" y="92.9" width="0.6" height="0.6" fill="#2030ff"/>
<rect x="521.0" y="96.4" width="0.6" height="0.6" fill="#2030ff"/>
<rect x="511.7" y="79.5" width="0.6" height="0.6" fill="#6070f0"/>
<rect x="520.0" y="85.5" width="0.6" height="0.6" fill="#6070f0"/>
<rect x="512.5" y="81.7" width="0.6" height="0.6" fill="#2030ff"/>
<rect x="519.2" y="89.5" width="0.6" height="0.6" fill="#6070f0"/>
<rect x="509.8" y="95.1" width="0.6" height="0.6" fill="#6070f0"/>
<rect x="514.7" y="87.1" width="0.6" height="0.6" fill="#3a48f0"/>
<rect x="533.5" y="77.3" width="0.6" height="0.6" fill="#2030ff"/>
<rect x="517.1" y="89.6" width="0.6" height="0.6" fill="#1020d0"/>
<rect x="515.9" y="72.4" width="0.6" height="0.6" fill="#6070f0"/>
<rect x="516.6" y="74.7" width="0.6" height="0.6" fill="#3a48f0"/>
<rect x="529.7" y="84.9" width="0.6" height="0.6" fill="#6070f0"/>
<rect x="518.0" y="77.7" width="0.6" height="0.6" fill="#2030ff"/>
<rect x="508.7" y="87.9" width="0.6" height="0.6" fill="#2030ff"/>
<rect x="505.8" y="81.6" width="0.6" height="0.6" fill="#2030ff"/>
<rect x="541.7" y="66.3" width="0.6" height="0.6" fill="#2030ff"/>
<rect x="542.0" y="69.2" width="0.6" height="0.6" fill="#2030ff"/>
<rect x="542.7" y="66.8" width="0.6" height="0.6" fill="#3a48f0"/>
<rect x="543.9" y="70.2" width="0.6" height="0.6" fill="#1020d0"/>
<rect x="542.4" y="69.2" width="0.6" height="0.6" fill="#6070f0"/>
<rect x="542.5" y="64.8" width="0.6" height="0.6" fill="#6070f0"/>
<rect x="542.7" y="65.2" width="0.6" height="0.6" fill="#3a48f0"/>
<rect x="541.2" y="67.5" width="0.6" height="0.6" fill="#2030ff"/>
<rect x="541.8" y="61.8" width="0.6" height="0.6" fill="#1020d0"/>
<rect x="542.5" y="59.8" width="0.6" height="0.6" fill="#6070f0"/>
<rect x="543.5" y="63.7" width="0.6" height="0.6" fill="#2030ff"/>
<rect x="544.3" y="63.2" width="0.6" height="0.6" fill="#2030ff"/>
<rect x="540.8" y="66.8" width="0.6" height="0.6" fill="#2030ff"/>
<rect x="541.5" y="68.7" width="0.6" height="0.6" fill="#3a48f0"/>
<rect x="542.4" y="68.9" width="0.6" height="0.6" fill="#1020d0"/>
<rect x="542.0" y="65.3" width="0.6" height="0.6" fill="#1020d0"/>
<rect x="541.7" y="68.4" width="0.6" height="0.6" fill="#2030ff"/>
<rect x="540.8" y="68.2" width="0.6" height="0.6" fill="#6070f0"/>
<rect x="541.4" y="63.8" width="0.6" height="0.6" fill="#3a48f0"/>
<rect x="543.8" y="65.1" width="0.6" height="0.6" fill="#2030ff"/>
<rect x="540.5" y="64.5" width="0.6" height="0.6" fill="#2030ff"/>
<rect x="542.1" y="69.0" width="0.6" height="0.6" fill="#6070f0"/>
<rect x="542.5" y="69.3" width="0.6" height="0.6" fill="#1020d0"/>
<rect x="541.8" y="66.4" width="0.6" height="0.6" fill="#3a48f0"/>
<rect x="543.2" y="65.8" width="0.6" height="0.6" fill="#6070f0"/>
<rect x="540.7" y="63.0" width="0.6" height="0.6" fill="#1020d0"/>
<rect x="543.1" y="65.0" width="0.6" height="0.6" fill="#1020d0"/>
<rect x="543.2" y="66.2" width="0.6" height="0.6" fill="#2030ff"/>
<rect x="541.7" y="67.6" width="0.6" height="0.6" fill="#2030ff"/>
<rect x="542.5" y="68.8" width="0.6" height="0.6" fill="#1020d0"/>
<rect x="544.2" y="66.7" width="0.6" height="0.6" fill="#6070f0"/>
<rect x="542.5" y="66.5" width="0.6" height="0.6" fill="#3a48f0"/>
<rect x="544.0" y="64.1" width="0.6" height="0.6" fill="#6070f0"/>
<rect x="541.7" y="68.0" width="0.6" height="0.6" fill="#1020d0"/>
<rect x="541.9" y="66.5" width="0.6" height="0.6" fill="#3a48f0"/>
<rect x="542.5" y="66.0" width="0.6" height="0.6" fill="#3a48f0"/>
<rect x="540.3" y="61.2" width="0.6" height="0.6" fill="#6070f0"/>
<rect x="542.1" y="67.3" width="0.6" height="0.6" fill="#3a48f0"/>
<rect x="544.3" y="67.4" width="0.6" height="0.6" fill="#3a48f0"/>
<rect x="542.6" y="66.4" width="0.6" height="0.6" fill="#6070f0"/>
<rect x="541.5" y="65.3" width="0.6" height="0.6" fill="#1020d0"/>
<rect x="542.3" y="66.4" width="0.6" height="0.6" fill="#6070f0"/>
<rect x="543.0" y="67.6" width="0.6" height="0.6" fill="#3a48f0"/>
<rect x="542.8" y="66.8" width="0.6" height="0.6" fill="#1020d0"/>
<rect x="542.7" y="70.5" width="0.6" height="0.6" fill="#1020d0"/>
<rect x="543.4" y="71.5" width="0.6" height="0.6" fill="#6070f0"/>
<rect x="542.0" y="69.8" width="0.6" height="0.6" fill="#6070f0"/>
<rect x="543.9" y="67.3" width="0.6" height="0.6" fill="#2030ff"/>
<rect x="541.4" y="70.5" width="0.6" height="0.6" fill="#2030ff"/>
<rect x="541.7" y="64.0" width="0.6" height="0.6" fill="#2030ff"/>
<rect x="542.3" y="67.1" width="0.6" height="0.6" fill="#1020d0"/>
<rect x="542.1" y="64.5" width="0.6" height="0.6" fill="#6070f0"/>
<rect x="541.4" y="66.3" width="0.6" height="0.6" fill="#2030ff"/>
<rect x="543.6" y="63.5" width="0.6" height="0.6" fill="#3a48f0"/>
<rect x="542.9" y="66.5" width="0.6" height="0.6" fill="#1020d0"/>
<rect x="543.9" y="65.7" width="0.6" height="0.6" fill="#6070f0"/>
<rect x="542.4" y="64.1" width="0.6" height="0.6" fill="#2030ff"/>
<rect x="542.4" y="69.1" width="0.6" height="0.6" fill="#2030ff"/>
<rect x="541.2" y="72.9" width="0.6" height="0.6" fill="#1020d0"/>
<rect x="542.3" y="65.1" width="0.6" height="0.6" fill="#1020d0"/>
<rect x="542.9" y="68.2" width="0.6" height="0.6" fill="#2030ff"/>
<rect x="543.4" y="70.1" width="0.6" height="0.6" fill="#3a48f0"/>
<rect x="542.8" y="69.8" width="0.6" height="0.6" fill="#1020d0"/>
<rect x="542.0" y="66.8" width="0.6" height="0.6" fill="#3a48f0"/>
<rect x="545.3" y="69.0" width="0.6" height="0.6" fill="#1020d0"/>
<rect x="542.1" y="68.0" width="0.6" height="0.6" fill="#1020d0"/>
<rect x="542.9" y="66.8" width="0.6" height="0.6" fill="#3a48f0"/>
<rect x="542.6" y="62.6" width="0.6" height="0.6" fill="#1020d0"/>
<rect x="540.2" y="68.0" width="0.6" height="0.6" fill="#2030ff"/>
<rect x="542.2" y="63.9" width="0.6" height="0.6" fill="#6070f0"/>
<rect x="542.0" y="78.3" width="0.6" height="0.6" fill="#2030ff"/>
<rect x="529.4" y="84.2" width="0.6" height="0.6" fill="#6070f0"/>
<rect x="527.8" y="77.0" width="0.6" height="0.6" fill="#1020d0"/>
<rect x="531.5" y="85.7" width="0.6" height="0.6" fill="#6070f0"/>
<rect x="534.1" y="71.1" width="0.6" height="0.6" fill="#3a48f0"/>
<rect x="529.5" y="88.4" width="0.6" height="0.6" fill="#6070f0"/>
<rect x="523.5" y="77.8" width="0.6" height="0.6" fill="#3a48f0"/>
<rect x="525.5" y="77.6" width="0.6" height="0.6" fill="#3a48f0"/>
<rect x="528.2" y="79.0" width="0.6" height="0.6" fill="#3a48f0"/>
<rect x="530.3" y="76.0" width="0.6" height="0.6" fill="#1020d0"/>
<rect x="520.1" y="74.7" width="0.6" height="0.6" fill="#6070f0"/>
<rect x="541.6" y="87.4" width="0.6" height="0.6" fill="#6070f0"/>
<rect x="526.2" y="80.5" width="0.6" height="0.6" fill="#3a48f0"/>
<rect x="530.3" y="88.8" width="0.6" height="0.6" fill="#2030ff"/>
<rect x="524.6" y="77.7" width="0.6" height="0.6" fill="#6070f0"/>
<rect x="526.8" y="77.6" width="0.6" height="0.6" fill="#2030ff"/>
<rect x="526.1" y="94.2" width="0.6" height="0.6" fill="#3a48f0"/>
<rect x="530.0" y="73.1" width="0.6" height="0.6" fill="#3a48f0"/>
<rect x="533.2" y="87.8" width="0.6" height="0.6" fill="#2030ff"/>
<rect x="522.9" y="81.7" width="0.6" height="0.6" fill="#3a48f0"/>
<rect x="526.0" y="89.5" width="0.6" height="0.6" fill="#1020d0"/>
<rect x="522.2" y="73.1" width="0.6" height="0.6" fill="#2030ff"/>
<rect x="533.6" y="85.8" width="0.6" height="0.6" fill="#2030ff"/>
<rect x="534.0" y="85.1" width="0.6" height="0.6" fill="#1020d0"/>
<rect x="533.6" y="87.2" width="0.6" height="0.6" fill="#6070f0"/>
<radialGradient id="sg1"><stop offset="0" stop-color="#a8e820" stop-opacity="1"/><stop offset="0.08" stop-color="#60dc50" stop-opacity="1"/><stop offset="0.2" stop-color="#10c8b0" stop-opacity="1"/><stop offset="0.32" stop-color="#0098ff" stop-opacity="1"/><stop offset="0.46" stop-color="#1050ff" stop-opacity="1"/><stop offset="0.64" stop-color="#1a32ff" stop-opacity="1"/><stop offset="0.8" stop-color="#2a40ff" stop-opacity="0.7"/><stop offset="0.92" stop-color="#4a5aff" stop-opacity="0.3"/><stop offset="1" stop-color="#6070ff" stop-opacity="0"/></radialGradient>
<ellipse cx="518.8" cy="82.8" rx="10.5" ry="7.2" transform="rotate(-40 518.8 82.8)" fill="url(#sg1)"/>
<radialGradient id="sg2"><stop offset="0" stop-color="#2038ff" stop-opacity="0.9"/><stop offset="0.5" stop-color="#3048ff" stop-opacity="0.6"/><stop offset="1" stop-color="#6070ff" stop-opacity="0"/></radialGradient>
<ellipse cx="542.7" cy="67.7" rx="2.0" ry="4.2" transform="rotate(0 542.7 67.7)" fill="url(#sg2)"/>
</g>
<line x1="524.50" y1="49.70" x2="524.50" y2="102.10" stroke="#808080" stroke-width="0.7"/>
<line x1="496.30" y1="74.30" x2="549.80" y2="74.30" stroke="#808080" stroke-width="0.7"/>
<rect x="496.30" y="49.70" width="53.50" height="52.40" fill="none" stroke="#777" stroke-width="0.6"/>
<text x="497.00" y="52.60" font-size="2.3" textLength="17.4" lengthAdjust="spacingAndGlyphs" fill="#222" stroke="#222" stroke-width="0.2">Q1-UL(0.30%)</text>
<text x="530.30" y="52.60" font-size="2.3" textLength="17.4" lengthAdjust="spacingAndGlyphs" fill="#222" stroke="#222" stroke-width="0.2">Q1-UR(5.60%)</text>
<text x="497.00" y="100.50" font-size="2.3" textLength="18.849999999999998" lengthAdjust="spacingAndGlyphs" fill="#222" stroke="#222" stroke-width="0.2">Q1-LL(88.10%)</text>
<text x="531.60" y="100.50" font-size="2.3" textLength="17.4" lengthAdjust="spacingAndGlyphs" fill="#222" stroke="#222" stroke-width="0.2">Q1-LR(5.95%)</text>
<line x1="495.30" y1="52.70" x2="496.30" y2="52.70" stroke="#555" stroke-width="0.4"/>
<text x="492.90" y="53.50" font-size="2.2" textLength="2.0" lengthAdjust="spacingAndGlyphs" fill="#333" stroke="#333" stroke-width="0.18">10</text>
<line x1="495.30" y1="67.20" x2="496.30" y2="67.20" stroke="#555" stroke-width="0.4"/>
<text x="492.90" y="68.00" font-size="2.2" textLength="2.0" lengthAdjust="spacingAndGlyphs" fill="#333" stroke="#333" stroke-width="0.18">10</text>
<line x1="495.30" y1="81.70" x2="496.30" y2="81.70" stroke="#555" stroke-width="0.4"/>
<text x="492.90" y="82.50" font-size="2.2" textLength="2.0" lengthAdjust="spacingAndGlyphs" fill="#333" stroke="#333" stroke-width="0.18">10</text>
<line x1="495.30" y1="96.20" x2="496.30" y2="96.20" stroke="#555" stroke-width="0.4"/>
<text x="492.90" y="97.00" font-size="2.2" textLength="2.0" lengthAdjust="spacingAndGlyphs" fill="#333" stroke="#333" stroke-width="0.18">10</text>
<line x1="499.30" y1="102.10" x2="499.30" y2="103.10" stroke="#555" stroke-width="0.4"/>
<text x="498.30" y="105.70" font-size="2.2" textLength="2.0" lengthAdjust="spacingAndGlyphs" fill="#333" stroke="#333" stroke-width="0.18">10</text>
<line x1="510.61" y1="102.10" x2="510.61" y2="103.10" stroke="#555" stroke-width="0.4"/>
<text x="509.61" y="105.70" font-size="2.2" textLength="2.0" lengthAdjust="spacingAndGlyphs" fill="#333" stroke="#333" stroke-width="0.18">10</text>
<line x1="521.92" y1="102.10" x2="521.92" y2="103.10" stroke="#555" stroke-width="0.4"/>
<text x="520.92" y="105.70" font-size="2.2" textLength="2.0" lengthAdjust="spacingAndGlyphs" fill="#333" stroke="#333" stroke-width="0.18">10</text>
<line x1="533.23" y1="102.10" x2="533.23" y2="103.10" stroke="#555" stroke-width="0.4"/>
<text x="532.23" y="105.70" font-size="2.2" textLength="2.0" lengthAdjust="spacingAndGlyphs" fill="#333" stroke="#333" stroke-width="0.18">10</text>
<line x1="544.54" y1="102.10" x2="544.54" y2="103.10" stroke="#555" stroke-width="0.4"/>
<text x="543.54" y="105.70" font-size="2.2" textLength="2.0" lengthAdjust="spacingAndGlyphs" fill="#333" stroke="#333" stroke-width="0.18">10</text>
<clipPath id="clip12"><rect x="566.2" y="49.7" width="55.39999999999998" height="52.39999999999999"/></clipPath>
<rect x="566.20" y="49.70" width="55.40" height="52.40" fill="#fff" stroke="none" stroke-width="0"/>
<g clip-path="url(#clip12)">
<rect x="592.5" y="84.2" width="0.5" height="0.5" fill="#7080e8"/>
<rect x="603.1" y="57.2" width="0.5" height="0.5" fill="#7080e8"/>
<rect x="566.8" y="69.3" width="0.5" height="0.5" fill="#7080e8"/>
<rect x="581.4" y="92.2" width="0.5" height="0.5" fill="#7080e8"/>
<rect x="604.5" y="81.2" width="0.5" height="0.5" fill="#7080e8"/>
<rect x="597.1" y="84.4" width="0.5" height="0.5" fill="#7080e8"/>
<rect x="574.2" y="72.8" width="0.5" height="0.5" fill="#7080e8"/>
<rect x="575.2" y="97.2" width="0.5" height="0.5" fill="#7080e8"/>
<rect x="569.5" y="92.6" width="0.5" height="0.5" fill="#7080e8"/>
<rect x="570.3" y="85.7" width="0.5" height="0.5" fill="#7080e8"/>
<rect x="584.9" y="70.9" width="0.5" height="0.5" fill="#7080e8"/>
<rect x="612.9" y="50.7" width="0.5" height="0.5" fill="#7080e8"/>
<rect x="569.6" y="97.6" width="0.5" height="0.5" fill="#7080e8"/>
<rect x="594.4" y="54.5" width="0.5" height="0.5" fill="#7080e8"/>
<rect x="620.9" y="99.3" width="0.5" height="0.5" fill="#7080e8"/>
<rect x="572.4" y="71.9" width="0.5" height="0.5" fill="#7080e8"/>
<rect x="573.7" y="66.1" width="0.5" height="0.5" fill="#7080e8"/>
<rect x="600.6" y="58.3" width="0.5" height="0.5" fill="#7080e8"/>
<rect x="604.8" y="52.4" width="0.5" height="0.5" fill="#7080e8"/>
<rect x="575.7" y="92.4" width="0.5" height="0.5" fill="#7080e8"/>
<rect x="588.4" y="71.6" width="0.5" height="0.5" fill="#7080e8"/>
<rect x="599.2" y="74.7" width="0.5" height="0.5" fill="#7080e8"/>
<rect x="587.5" y="51.3" width="0.5" height="0.5" fill="#7080e8"/>
<rect x="606.4" y="100.4" width="0.5" height="0.5" fill="#7080e8"/>
<rect x="620.3" y="84.5" width="0.5" height="0.5" fill="#7080e8"/>
<rect x="585.9" y="68.7" width="0.5" height="0.5" fill="#7080e8"/>
<rect x="604.4" y="85.0" width="0.5" height="0.5" fill="#7080e8"/>
<rect x="572.5" y="62.0" width="0.5" height="0.5" fill="#7080e8"/>
<rect x="586.3" y="76.5" width="0.5" height="0.5" fill="#7080e8"/>
<rect x="611.1" y="75.9" width="0.5" height="0.5" fill="#7080e8"/>
<rect x="567.8" y="92.8" width="0.5" height="0.5" fill="#7080e8"/>
<rect x="590.0" y="76.9" width="0.5" height="0.5" fill="#7080e8"/>
<rect x="578.5" y="72.1" width="0.5" height="0.5" fill="#7080e8"/>
<rect x="587.7" y="90.1" width="0.5" height="0.5" fill="#7080e8"/>
<rect x="571.9" y="78.5" width="0.5" height="0.5" fill="#7080e8"/>
<rect x="576.1" y="86.2" width="0.5" height="0.5" fill="#7080e8"/>
<rect x="568.2" y="64.2" width="0.5" height="0.5" fill="#7080e8"/>
<rect x="585.3" y="83.1" width="0.5" height="0.5" fill="#7080e8"/>
<rect x="569.1" y="73.8" width="0.5" height="0.5" fill="#7080e8"/>
<rect x="577.8" y="64.5" width="0.5" height="0.5" fill="#7080e8"/>
<rect x="573.2" y="86.7" width="0.6" height="0.6" fill="#1020d0"/>
<rect x="592.0" y="107.6" width="0.6" height="0.6" fill="#1020d0"/>
<rect x="596.6" y="80.2" width="0.6" height="0.6" fill="#3a48f0"/>
<rect x="591.2" y="78.1" width="0.6" height="0.6" fill="#2030ff"/>
<rect x="605.4" y="78.0" width="0.6" height="0.6" fill="#6070f0"/>
<rect x="596.0" y="96.6" width="0.6" height="0.6" fill="#2030ff"/>
<rect x="590.8" y="87.7" width="0.6" height="0.6" fill="#6070f0"/>
<rect x="599.0" y="83.6" width="0.6" height="0.6" fill="#2030ff"/>
<rect x="603.7" y="76.4" width="0.6" height="0.6" fill="#6070f0"/>
<rect x="587.5" y="79.3" width="0.6" height="0.6" fill="#1020d0"/>
<rect x="584.2" y="84.2" width="0.6" height="0.6" fill="#1020d0"/>
<rect x="594.0" y="80.8" width="0.6" height="0.6" fill="#6070f0"/>
<rect x="589.1" y="82.1" width="0.6" height="0.6" fill="#6070f0"/>
<rect x="598.6" y="80.4" width="0.6" height="0.6" fill="#1020d0"/>
<rect x="589.3" y="78.4" width="0.6" height="0.6" fill="#6070f0"/>
<rect x="589.0" y="83.4" width="0.6" height="0.6" fill="#2030ff"/>
<rect x="589.4" y="79.7" width="0.6" height="0.6" fill="#6070f0"/>
<rect x="586.1" y="86.6" width="0.6" height="0.6" fill="#1020d0"/>
<rect x="588.3" y="84.2" width="0.6" height="0.6" fill="#6070f0"/>
<rect x="591.2" y="75.4" width="0.6" height="0.6" fill="#2030ff"/>
<rect x="600.7" y="75.5" width="0.6" height="0.6" fill="#6070f0"/>
<rect x="600.6" y="82.3" width="0.6" height="0.6" fill="#1020d0"/>
<rect x="589.5" y="83.1" width="0.6" height="0.6" fill="#3a48f0"/>
<rect x="601.0" y="75.6" width="0.6" height="0.6" fill="#2030ff"/>
<rect x="598.0" y="78.4" width="0.6" height="0.6" fill="#1020d0"/>
<rect x="593.6" y="71.6" width="0.6" height="0.6" fill="#3a48f0"/>
<rect x="584.5" y="101.0" width="0.6" height="0.6" fill="#1020d0"/>
<rect x="588.1" y="80.8" width="0.6" height="0.6" fill="#1020d0"/>
<rect x="588.3" y="82.2" width="0.6" height="0.6" fill="#6070f0"/>
<rect x="586.0" y="94.6" width="0.6" height="0.6" fill="#3a48f0"/>
<rect x="586.4" y="71.9" width="0.6" height="0.6" fill="#6070f0"/>
<rect x="586.8" y="71.0" width="0.6" height="0.6" fill="#1020d0"/>
<rect x="589.6" y="85.2" width="0.6" height="0.6" fill="#1020d0"/>
<rect x="584.9" y="77.3" width="0.6" height="0.6" fill="#2030ff"/>
<rect x="587.5" y="77.4" width="0.6" height="0.6" fill="#3a48f0"/>
<rect x="593.1" y="81.3" width="0.6" height="0.6" fill="#3a48f0"/>
<rect x="597.3" y="84.1" width="0.6" height="0.6" fill="#6070f0"/>
<rect x="596.9" y="73.8" width="0.6" height="0.6" fill="#6070f0"/>
<rect x="593.6" y="101.3" width="0.6" height="0.6" fill="#6070f0"/>
<rect x="594.8" y="91.3" width="0.6" height="0.6" fill="#3a48f0"/>
<rect x="578.8" y="87.2" width="0.6" height="0.6" fill="#2030ff"/>
<rect x="593.2" y="78.7" width="0.6" height="0.6" fill="#1020d0"/>
<rect x="583.2" y="82.5" width="0.6" height="0.6" fill="#2030ff"/>
<rect x="599.5" y="81.9" width="0.6" height="0.6" fill="#6070f0"/>
<rect x="584.0" y="94.2" width="0.6" height="0.6" fill="#6070f0"/>
<rect x="593.0" y="66.9" width="0.6" height="0.6" fill="#6070f0"/>
<rect x="594.5" y="91.7" width="0.6" height="0.6" fill="#3a48f0"/>
<rect x="590.7" y="86.2" width="0.6" height="0.6" fill="#6070f0"/>
<rect x="587.1" y="102.0" width="0.6" height="0.6" fill="#6070f0"/>
<rect x="579.8" y="94.1" width="0.6" height="0.6" fill="#6070f0"/>
<rect x="593.9" y="88.7" width="0.6" height="0.6" fill="#2030ff"/>
<rect x="596.0" y="74.5" width="0.6" height="0.6" fill="#1020d0"/>
<rect x="582.4" y="89.5" width="0.6" height="0.6" fill="#6070f0"/>
<rect x="584.3" y="95.3" width="0.6" height="0.6" fill="#1020d0"/>
<rect x="585.4" y="89.1" width="0.6" height="0.6" fill="#3a48f0"/>
<rect x="593.0" y="88.4" width="0.6" height="0.6" fill="#6070f0"/>
<rect x="595.0" y="87.7" width="0.6" height="0.6" fill="#2030ff"/>
<rect x="597.6" y="75.1" width="0.6" height="0.6" fill="#6070f0"/>
<rect x="606.1" y="81.5" width="0.6" height="0.6" fill="#3a48f0"/>
<rect x="594.5" y="78.4" width="0.6" height="0.6" fill="#3a48f0"/>
<rect x="590.6" y="67.8" width="0.6" height="0.6" fill="#6070f0"/>
<rect x="603.0" y="87.6" width="0.6" height="0.6" fill="#3a48f0"/>
<rect x="596.5" y="94.6" width="0.6" height="0.6" fill="#6070f0"/>
<rect x="608.4" y="73.7" width="0.6" height="0.6" fill="#6070f0"/>
<rect x="589.3" y="83.2" width="0.6" height="0.6" fill="#2030ff"/>
<rect x="585.3" y="90.8" width="0.6" height="0.6" fill="#3a48f0"/>
<rect x="582.6" y="86.8" width="0.6" height="0.6" fill="#3a48f0"/>
<rect x="593.3" y="74.7" width="0.6" height="0.6" fill="#6070f0"/>
<rect x="581.0" y="86.0" width="0.6" height="0.6" fill="#1020d0"/>
<rect x="599.6" y="70.2" width="0.6" height="0.6" fill="#2030ff"/>
<rect x="589.5" y="77.4" width="0.6" height="0.6" fill="#3a48f0"/>
<rect x="577.0" y="84.5" width="0.6" height="0.6" fill="#2030ff"/>
<rect x="600.9" y="80.4" width="0.6" height="0.6" fill="#1020d0"/>
<rect x="573.6" y="77.5" width="0.6" height="0.6" fill="#6070f0"/>
<rect x="591.0" y="68.4" width="0.6" height="0.6" fill="#3a48f0"/>
<rect x="587.8" y="88.4" width="0.6" height="0.6" fill="#1020d0"/>
<rect x="592.8" y="85.1" width="0.6" height="0.6" fill="#2030ff"/>
<rect x="592.3" y="82.9" width="0.6" height="0.6" fill="#2030ff"/>
<rect x="582.9" y="77.8" width="0.6" height="0.6" fill="#1020d0"/>
<rect x="585.3" y="77.2" width="0.6" height="0.6" fill="#6070f0"/>
<rect x="582.9" y="88.3" width="0.6" height="0.6" fill="#6070f0"/>
<rect x="592.9" y="76.1" width="0.6" height="0.6" fill="#6070f0"/>
<rect x="610.4" y="76.8" width="0.6" height="0.6" fill="#6070f0"/>
<rect x="592.9" y="86.9" width="0.6" height="0.6" fill="#1020d0"/>
<rect x="582.3" y="76.7" width="0.6" height="0.6" fill="#2030ff"/>
<rect x="591.9" y="87.6" width="0.6" height="0.6" fill="#1020d0"/>
<rect x="589.1" y="68.9" width="0.6" height="0.6" fill="#6070f0"/>
<rect x="587.0" y="90.3" width="0.6" height="0.6" fill="#1020d0"/>
<rect x="582.6" y="97.7" width="0.6" height="0.6" fill="#6070f0"/>
<rect x="596.6" y="86.6" width="0.6" height="0.6" fill="#6070f0"/>
<rect x="587.9" y="81.0" width="0.6" height="0.6" fill="#1020d0"/>
<rect x="590.5" y="77.6" width="0.6" height="0.6" fill="#1020d0"/>
<rect x="594.2" y="83.5" width="0.6" height="0.6" fill="#1020d0"/>
<rect x="594.8" y="92.6" width="0.6" height="0.6" fill="#6070f0"/>
<rect x="586.3" y="88.5" width="0.6" height="0.6" fill="#6070f0"/>
<rect x="603.7" y="73.9" width="0.6" height="0.6" fill="#1020d0"/>
<rect x="599.5" y="88.5" width="0.6" height="0.6" fill="#3a48f0"/>
<rect x="599.8" y="79.6" width="0.6" height="0.6" fill="#6070f0"/>
<rect x="593.1" y="80.3" width="0.6" height="0.6" fill="#6070f0"/>
<rect x="585.6" y="93.9" width="0.6" height="0.6" fill="#1020d0"/>
<rect x="596.7" y="85.6" width="0.6" height="0.6" fill="#2030ff"/>
<rect x="595.0" y="75.3" width="0.6" height="0.6" fill="#6070f0"/>
<rect x="594.9" y="91.6" width="0.6" height="0.6" fill="#2030ff"/>
<rect x="588.7" y="79.3" width="0.6" height="0.6" fill="#1020d0"/>
<rect x="591.1" y="86.7" width="0.6" height="0.6" fill="#3a48f0"/>
<rect x="592.8" y="89.6" width="0.6" height="0.6" fill="#2030ff"/>
<rect x="584.6" y="75.6" width="0.6" height="0.6" fill="#1020d0"/>
<rect x="590.5" y="76.8" width="0.6" height="0.6" fill="#3a48f0"/>
<rect x="597.1" y="80.6" width="0.6" height="0.6" fill="#1020d0"/>
<rect x="586.4" y="87.8" width="0.6" height="0.6" fill="#3a48f0"/>
<rect x="591.3" y="93.5" width="0.6" height="0.6" fill="#1020d0"/>
<rect x="580.4" y="83.6" width="0.6" height="0.6" fill="#6070f0"/>
<rect x="587.0" y="89.1" width="0.6" height="0.6" fill="#2030ff"/>
<rect x="600.0" y="89.1" width="0.6" height="0.6" fill="#6070f0"/>
<rect x="576.6" y="97.0" width="0.6" height="0.6" fill="#1020d0"/>
<rect x="598.4" y="96.1" width="0.6" height="0.6" fill="#1020d0"/>
<rect x="586.8" y="81.4" width="0.6" height="0.6" fill="#1020d0"/>
<rect x="588.7" y="85.0" width="0.6" height="0.6" fill="#2030ff"/>
<rect x="582.5" y="86.6" width="0.6" height="0.6" fill="#3a48f0"/>
<rect x="592.6" y="87.1" width="0.6" height="0.6" fill="#1020d0"/>
<rect x="584.7" y="83.2" width="0.6" height="0.6" fill="#2030ff"/>
<rect x="594.3" y="81.9" width="0.6" height="0.6" fill="#3a48f0"/>
<rect x="584.4" y="90.4" width="0.6" height="0.6" fill="#6070f0"/>
<rect x="598.5" y="79.6" width="0.6" height="0.6" fill="#6070f0"/>
<rect x="591.5" y="79.7" width="0.6" height="0.6" fill="#3a48f0"/>
<rect x="591.6" y="73.6" width="0.6" height="0.6" fill="#3a48f0"/>
<rect x="590.1" y="93.6" width="0.6" height="0.6" fill="#1020d0"/>
<rect x="598.2" y="90.7" width="0.6" height="0.6" fill="#3a48f0"/>
<rect x="599.5" y="81.4" width="0.6" height="0.6" fill="#2030ff"/>
<rect x="589.4" y="84.4" width="0.6" height="0.6" fill="#1020d0"/>
<rect x="580.7" y="93.9" width="0.6" height="0.6" fill="#2030ff"/>
<rect x="604.6" y="92.1" width="0.6" height="0.6" fill="#1020d0"/>
<rect x="578.2" y="77.9" width="0.6" height="0.6" fill="#1020d0"/>
<rect x="577.6" y="79.5" width="0.6" height="0.6" fill="#6070f0"/>
<rect x="587.4" y="85.9" width="0.6" height="0.6" fill="#6070f0"/>
<rect x="593.2" y="74.3" width="0.6" height="0.6" fill="#6070f0"/>
<rect x="595.6" y="83.4" width="0.6" height="0.6" fill="#1020d0"/>
<rect x="589.1" y="93.2" width="0.6" height="0.6" fill="#1020d0"/>
<rect x="578.7" y="81.6" width="0.6" height="0.6" fill="#2030ff"/>
<rect x="597.6" y="75.2" width="0.6" height="0.6" fill="#6070f0"/>
<rect x="588.4" y="76.8" width="0.6" height="0.6" fill="#2030ff"/>
<rect x="592.3" y="80.2" width="0.6" height="0.6" fill="#3a48f0"/>
<rect x="594.4" y="85.5" width="0.6" height="0.6" fill="#3a48f0"/>
<rect x="596.5" y="97.1" width="0.6" height="0.6" fill="#6070f0"/>
<rect x="595.6" y="82.9" width="0.6" height="0.6" fill="#1020d0"/>
<rect x="594.6" y="84.2" width="0.6" height="0.6" fill="#1020d0"/>
<rect x="580.8" y="78.5" width="0.6" height="0.6" fill="#3a48f0"/>
<rect x="595.9" y="71.8" width="0.6" height="0.6" fill="#6070f0"/>
<rect x="579.9" y="89.3" width="0.6" height="0.6" fill="#3a48f0"/>
<rect x="591.4" y="85.1" width="0.6" height="0.6" fill="#6070f0"/>
<rect x="588.7" y="86.5" width="0.6" height="0.6" fill="#1020d0"/>
<rect x="586.2" y="89.1" width="0.6" height="0.6" fill="#2030ff"/>
<rect x="582.7" y="79.7" width="0.6" height="0.6" fill="#2030ff"/>
<rect x="586.4" y="99.2" width="0.6" height="0.6" fill="#6070f0"/>
<rect x="599.3" y="95.4" width="0.6" height="0.6" fill="#6070f0"/>
<rect x="591.3" y="93.7" width="0.6" height="0.6" fill="#3a48f0"/>
<rect x="592.9" y="81.4" width="0.6" height="0.6" fill="#2030ff"/>
<rect x="581.8" y="75.3" width="0.6" height="0.6" fill="#6070f0"/>
<rect x="602.9" y="83.6" width="0.6" height="0.6" fill="#1020d0"/>
<rect x="592.0" y="91.3" width="0.6" height="0.6" fill="#6070f0"/>
<rect x="607.5" y="90.1" width="0.6" height="0.6" fill="#6070f0"/>
<rect x="586.4" y="76.0" width="0.6" height="0.6" fill="#3a48f0"/>
<rect x="596.9" y="75.1" width="0.6" height="0.6" fill="#2030ff"/>
<rect x="586.7" y="75.6" width="0.6" height="0.6" fill="#3a48f0"/>
<rect x="580.3" y="82.6" width="0.6" height="0.6" fill="#1020d0"/>
<rect x="583.9" y="82.0" width="0.6" height="0.6" fill="#6070f0"/>
<rect x="604.2" y="82.2" width="0.6" height="0.6" fill="#3a48f0"/>
<rect x="587.1" y="81.1" width="0.6" height="0.6" fill="#1020d0"/>
<rect x="586.5" y="60.9" width="0.6" height="0.6" fill="#2030ff"/>
<rect x="592.9" y="91.6" width="0.6" height="0.6" fill="#3a48f0"/>
<rect x="590.6" y="86.8" width="0.6" height="0.6" fill="#1020d0"/>
<rect x="601.3" y="82.8" width="0.6" height="0.6" fill="#2030ff"/>
<rect x="584.3" y="86.9" width="0.6" height="0.6" fill="#3a48f0"/>
<rect x="597.3" y="97.2" width="0.6" height="0.6" fill="#3a48f0"/>
<rect x="588.4" y="80.1" width="0.6" height="0.6" fill="#3a48f0"/>
<rect x="589.1" y="72.6" width="0.6" height="0.6" fill="#3a48f0"/>
<rect x="598.3" y="86.1" width="0.6" height="0.6" fill="#1020d0"/>
<rect x="590.5" y="79.3" width="0.6" height="0.6" fill="#2030ff"/>
<rect x="595.6" y="76.8" width="0.6" height="0.6" fill="#3a48f0"/>
<rect x="602.2" y="101.4" width="0.6" height="0.6" fill="#1020d0"/>
<rect x="595.7" y="63.2" width="0.6" height="0.6" fill="#6070f0"/>
<rect x="581.3" y="82.6" width="0.6" height="0.6" fill="#6070f0"/>
<rect x="590.7" y="91.7" width="0.6" height="0.6" fill="#6070f0"/>
<rect x="598.3" y="78.6" width="0.6" height="0.6" fill="#2030ff"/>
<rect x="588.9" y="84.7" width="0.6" height="0.6" fill="#3a48f0"/>
<rect x="600.3" y="81.2" width="0.6" height="0.6" fill="#3a48f0"/>
<rect x="585.8" y="73.1" width="0.6" height="0.6" fill="#2030ff"/>
<rect x="602.1" y="84.4" width="0.6" height="0.6" fill="#3a48f0"/>
<rect x="583.4" y="89.5" width="0.6" height="0.6" fill="#2030ff"/>
<rect x="576.1" y="90.5" width="0.6" height="0.6" fill="#2030ff"/>
<rect x="578.3" y="82.8" width="0.6" height="0.6" fill="#2030ff"/>
<rect x="595.0" y="66.6" width="0.6" height="0.6" fill="#2030ff"/>
<rect x="601.3" y="65.2" width="0.6" height="0.6" fill="#2030ff"/>
<rect x="592.4" y="86.4" width="0.6" height="0.6" fill="#6070f0"/>
<rect x="591.1" y="76.0" width="0.6" height="0.6" fill="#6070f0"/>
<rect x="590.1" y="79.7" width="0.6" height="0.6" fill="#3a48f0"/>
<rect x="579.1" y="89.1" width="0.6" height="0.6" fill="#2030ff"/>
<rect x="596.1" y="77.8" width="0.6" height="0.6" fill="#1020d0"/>
<rect x="586.8" y="88.4" width="0.6" height="0.6" fill="#6070f0"/>
<rect x="594.0" y="83.7" width="0.6" height="0.6" fill="#6070f0"/>
<rect x="591.5" y="90.7" width="0.6" height="0.6" fill="#6070f0"/>
<rect x="592.1" y="74.7" width="0.6" height="0.6" fill="#6070f0"/>
<rect x="593.7" y="83.8" width="0.6" height="0.6" fill="#2030ff"/>
<rect x="594.8" y="90.9" width="0.6" height="0.6" fill="#1020d0"/>
<rect x="584.7" y="69.3" width="0.6" height="0.6" fill="#1020d0"/>
<rect x="599.7" y="74.7" width="0.6" height="0.6" fill="#1020d0"/>
<rect x="589.6" y="80.4" width="0.6" height="0.6" fill="#3a48f0"/>
<rect x="587.4" y="80.7" width="0.6" height="0.6" fill="#1020d0"/>
<rect x="588.5" y="89.9" width="0.6" height="0.6" fill="#3a48f0"/>
<rect x="604.3" y="88.4" width="0.6" height="0.6" fill="#6070f0"/>
<rect x="581.7" y="84.1" width="0.6" height="0.6" fill="#3a48f0"/>
<rect x="601.8" y="76.9" width="0.6" height="0.6" fill="#1020d0"/>
<rect x="597.4" y="91.9" width="0.6" height="0.6" fill="#1020d0"/>
<rect x="598.5" y="84.0" width="0.6" height="0.6" fill="#6070f0"/>
<rect x="596.4" y="87.0" width="0.6" height="0.6" fill="#2030ff"/>
<rect x="596.4" y="89.0" width="0.6" height="0.6" fill="#6070f0"/>
<rect x="593.2" y="91.5" width="0.6" height="0.6" fill="#3a48f0"/>
<rect x="600.7" y="78.1" width="0.6" height="0.6" fill="#2030ff"/>
<rect x="590.3" y="78.0" width="0.6" height="0.6" fill="#2030ff"/>
<rect x="602.5" y="88.2" width="0.6" height="0.6" fill="#3a48f0"/>
<rect x="615.6" y="67.9" width="0.6" height="0.6" fill="#2030ff"/>
<rect x="612.2" y="69.0" width="0.6" height="0.6" fill="#1020d0"/>
<rect x="612.4" y="66.3" width="0.6" height="0.6" fill="#2030ff"/>
<rect x="616.0" y="65.3" width="0.6" height="0.6" fill="#1020d0"/>
<rect x="614.6" y="71.9" width="0.6" height="0.6" fill="#1020d0"/>
<rect x="612.6" y="68.8" width="0.6" height="0.6" fill="#3a48f0"/>
<rect x="611.8" y="72.9" width="0.6" height="0.6" fill="#2030ff"/>
<rect x="614.0" y="67.6" width="0.6" height="0.6" fill="#3a48f0"/>
<rect x="613.6" y="62.0" width="0.6" height="0.6" fill="#6070f0"/>
<rect x="614.5" y="70.6" width="0.6" height="0.6" fill="#1020d0"/>
<rect x="614.7" y="65.0" width="0.6" height="0.6" fill="#2030ff"/>
<rect x="620.1" y="69.9" width="0.6" height="0.6" fill="#2030ff"/>
<rect x="614.1" y="67.3" width="0.6" height="0.6" fill="#1020d0"/>
<rect x="613.8" y="62.9" width="0.6" height="0.6" fill="#1020d0"/>
<rect x="610.6" y="67.4" width="0.6" height="0.6" fill="#3a48f0"/>
<rect x="610.8" y="66.4" width="0.6" height="0.6" fill="#3a48f0"/>
<rect x="608.1" y="63.1" width="0.6" height="0.6" fill="#6070f0"/>
<rect x="616.4" y="75.7" width="0.6" height="0.6" fill="#1020d0"/>
<rect x="612.6" y="72.0" width="0.6" height="0.6" fill="#2030ff"/>
<rect x="614.4" y="73.7" width="0.6" height="0.6" fill="#2030ff"/>
<rect x="614.7" y="71.3" width="0.6" height="0.6" fill="#1020d0"/>
<rect x="618.3" y="60.0" width="0.6" height="0.6" fill="#1020d0"/>
<rect x="612.4" y="65.6" width="0.6" height="0.6" fill="#6070f0"/>
<rect x="615.8" y="64.9" width="0.6" height="0.6" fill="#6070f0"/>
<rect x="610.9" y="60.2" width="0.6" height="0.6" fill="#3a48f0"/>
<rect x="618.9" y="68.5" width="0.6" height="0.6" fill="#2030ff"/>
<rect x="614.5" y="65.5" width="0.6" height="0.6" fill="#6070f0"/>
<rect x="615.7" y="66.5" width="0.6" height="0.6" fill="#6070f0"/>
<rect x="609.8" y="68.9" width="0.6" height="0.6" fill="#1020d0"/>
<rect x="612.4" y="67.9" width="0.6" height="0.6" fill="#2030ff"/>
<rect x="615.9" y="71.0" width="0.6" height="0.6" fill="#2030ff"/>
<rect x="610.2" y="66.4" width="0.6" height="0.6" fill="#3a48f0"/>
<rect x="613.5" y="63.1" width="0.6" height="0.6" fill="#2030ff"/>
<rect x="617.9" y="68.5" width="0.6" height="0.6" fill="#1020d0"/>
<rect x="610.6" y="70.7" width="0.6" height="0.6" fill="#2030ff"/>
<rect x="609.5" y="63.0" width="0.6" height="0.6" fill="#1020d0"/>
<rect x="615.4" y="68.3" width="0.6" height="0.6" fill="#3a48f0"/>
<rect x="614.3" y="66.9" width="0.6" height="0.6" fill="#6070f0"/>
<rect x="612.0" y="69.0" width="0.6" height="0.6" fill="#1020d0"/>
<rect x="613.7" y="69.9" width="0.6" height="0.6" fill="#3a48f0"/>
<rect x="614.0" y="71.3" width="0.6" height="0.6" fill="#1020d0"/>
<rect x="618.0" y="60.7" width="0.6" height="0.6" fill="#3a48f0"/>
<rect x="613.5" y="62.5" width="0.6" height="0.6" fill="#2030ff"/>
<rect x="615.9" y="69.9" width="0.6" height="0.6" fill="#1020d0"/>
<rect x="614.3" y="61.6" width="0.6" height="0.6" fill="#6070f0"/>
<rect x="615.0" y="69.8" width="0.6" height="0.6" fill="#1020d0"/>
<rect x="611.1" y="65.0" width="0.6" height="0.6" fill="#3a48f0"/>
<rect x="616.0" y="72.4" width="0.6" height="0.6" fill="#1020d0"/>
<rect x="617.6" y="73.1" width="0.6" height="0.6" fill="#6070f0"/>
<rect x="612.8" y="69.7" width="0.6" height="0.6" fill="#1020d0"/>
<rect x="609.8" y="63.1" width="0.6" height="0.6" fill="#2030ff"/>
<rect x="615.7" y="68.2" width="0.6" height="0.6" fill="#2030ff"/>
<rect x="609.6" y="66.9" width="0.6" height="0.6" fill="#6070f0"/>
<rect x="613.3" y="68.4" width="0.6" height="0.6" fill="#1020d0"/>
<rect x="613.3" y="62.6" width="0.6" height="0.6" fill="#2030ff"/>
<rect x="612.8" y="65.9" width="0.6" height="0.6" fill="#2030ff"/>
<rect x="614.7" y="71.6" width="0.6" height="0.6" fill="#1020d0"/>
<rect x="615.2" y="73.2" width="0.6" height="0.6" fill="#6070f0"/>
<rect x="616.6" y="67.2" width="0.6" height="0.6" fill="#2030ff"/>
<rect x="614.4" y="67.2" width="0.6" height="0.6" fill="#1020d0"/>
<rect x="596.9" y="86.8" width="0.6" height="0.6" fill="#1020d0"/>
<rect x="607.4" y="93.7" width="0.6" height="0.6" fill="#1020d0"/>
<rect x="611.7" y="69.3" width="0.6" height="0.6" fill="#6070f0"/>
<rect x="609.1" y="81.6" width="0.6" height="0.6" fill="#3a48f0"/>
<rect x="615.6" y="72.5" width="0.6" height="0.6" fill="#6070f0"/>
<rect x="594.7" y="67.3" width="0.6" height="0.6" fill="#3a48f0"/>
<rect x="615.4" y="82.3" width="0.6" height="0.6" fill="#2030ff"/>
<rect x="607.7" y="66.5" width="0.6" height="0.6" fill="#1020d0"/>
<rect x="614.5" y="87.2" width="0.6" height="0.6" fill="#2030ff"/>
<rect x="600.2" y="65.2" width="0.6" height="0.6" fill="#2030ff"/>
<rect x="603.8" y="85.7" width="0.6" height="0.6" fill="#3a48f0"/>
<rect x="600.9" y="72.8" width="0.6" height="0.6" fill="#1020d0"/>
<rect x="609.7" y="94.1" width="0.6" height="0.6" fill="#1020d0"/>
<rect x="609.6" y="87.1" width="0.6" height="0.6" fill="#3a48f0"/>
<rect x="604.2" y="83.5" width="0.6" height="0.6" fill="#1020d0"/>
<rect x="604.5" y="81.3" width="0.6" height="0.6" fill="#3a48f0"/>
<rect x="614.5" y="67.7" width="0.6" height="0.6" fill="#3a48f0"/>
<rect x="599.7" y="77.1" width="0.6" height="0.6" fill="#6070f0"/>
<rect x="613.9" y="78.3" width="0.6" height="0.6" fill="#2030ff"/>
<rect x="579.6" y="84.2" width="0.6" height="0.6" fill="#3a48f0"/>
<rect x="596.6" y="86.0" width="0.6" height="0.6" fill="#2030ff"/>
<rect x="600.3" y="89.9" width="0.6" height="0.6" fill="#1020d0"/>
<rect x="603.5" y="70.7" width="0.6" height="0.6" fill="#1020d0"/>
<rect x="599.2" y="74.8" width="0.6" height="0.6" fill="#1020d0"/>
<rect x="602.1" y="67.8" width="0.6" height="0.6" fill="#6070f0"/>
<rect x="598.3" y="72.1" width="0.6" height="0.6" fill="#1020d0"/>
<rect x="613.2" y="74.4" width="0.6" height="0.6" fill="#6070f0"/>
<rect x="598.6" y="79.8" width="0.6" height="0.6" fill="#3a48f0"/>
<rect x="597.1" y="82.0" width="0.6" height="0.6" fill="#6070f0"/>
<rect x="606.0" y="74.0" width="0.6" height="0.6" fill="#6070f0"/>
<rect x="606.5" y="69.6" width="0.6" height="0.6" fill="#1020d0"/>
<rect x="607.6" y="92.4" width="0.6" height="0.6" fill="#6070f0"/>
<rect x="603.9" y="77.7" width="0.6" height="0.6" fill="#3a48f0"/>
<rect x="610.5" y="64.9" width="0.6" height="0.6" fill="#1020d0"/>
<rect x="601.2" y="70.3" width="0.6" height="0.6" fill="#2030ff"/>
<rect x="607.2" y="88.1" width="0.6" height="0.6" fill="#1020d0"/>
<rect x="603.3" y="85.2" width="0.6" height="0.6" fill="#3a48f0"/>
<rect x="595.4" y="76.7" width="0.6" height="0.6" fill="#6070f0"/>
<rect x="600.9" y="76.2" width="0.6" height="0.6" fill="#2030ff"/>
<rect x="596.8" y="81.4" width="0.6" height="0.6" fill="#3a48f0"/>
<radialGradient id="sg3"><stop offset="0" stop-color="#30c0e0" stop-opacity="1"/><stop offset="0.12" stop-color="#20a8f0" stop-opacity="1"/><stop offset="0.24" stop-color="#0880ff" stop-opacity="1"/><stop offset="0.38" stop-color="#0c60ff" stop-opacity="1"/><stop offset="0.52" stop-color="#1444ff" stop-opacity="1"/><stop offset="0.7" stop-color="#2238ff" stop-opacity="0.8"/><stop offset="0.88" stop-color="#4a5aff" stop-opacity="0.35"/><stop offset="1" stop-color="#6070ff" stop-opacity="0"/></radialGradient>
<ellipse cx="591.2" cy="83.0" rx="11.5" ry="12.5" transform="rotate(0 591.2 83.0)" fill="url(#sg3)"/>
<radialGradient id="sg4"><stop offset="0" stop-color="#b0e830" stop-opacity="1"/><stop offset="0.45" stop-color="#50d870" stop-opacity="0.9"/><stop offset="1" stop-color="#20c0d0" stop-opacity="0"/></radialGradient>
<ellipse cx="589.3" cy="82.6" rx="2.6" ry="4.4" transform="rotate(0 589.3 82.6)" fill="url(#sg4)"/>
</g>
<line x1="595.30" y1="49.70" x2="595.30" y2="102.10" stroke="#808080" stroke-width="0.7"/>
<line x1="566.20" y1="74.30" x2="621.60" y2="74.30" stroke="#808080" stroke-width="0.7"/>
<rect x="566.20" y="49.70" width="55.40" height="52.40" fill="none" stroke="#777" stroke-width="0.6"/>
<text x="567.00" y="52.60" font-size="2.3" textLength="17.4" lengthAdjust="spacingAndGlyphs" fill="#222" stroke="#222" stroke-width="0.2">Q1-UL(1.31%)</text>
<text x="601.00" y="52.60" font-size="2.3" textLength="17.4" lengthAdjust="spacingAndGlyphs" fill="#222" stroke="#222" stroke-width="0.2">Q1-UR(4.85%)</text>
<text x="567.00" y="100.50" font-size="2.3" textLength="18.849999999999998" lengthAdjust="spacingAndGlyphs" fill="#222" stroke="#222" stroke-width="0.2">Q1-LL(72.80%)</text>
<text x="601.00" y="100.50" font-size="2.3" textLength="18.849999999999998" lengthAdjust="spacingAndGlyphs" fill="#222" stroke="#222" stroke-width="0.2">Q1-LR(21.04%)</text>
<line x1="565.20" y1="52.70" x2="566.20" y2="52.70" stroke="#555" stroke-width="0.4"/>
<text x="562.80" y="53.50" font-size="2.2" textLength="2.0" lengthAdjust="spacingAndGlyphs" fill="#333" stroke="#333" stroke-width="0.18">10</text>
<line x1="565.20" y1="67.20" x2="566.20" y2="67.20" stroke="#555" stroke-width="0.4"/>
<text x="562.80" y="68.00" font-size="2.2" textLength="2.0" lengthAdjust="spacingAndGlyphs" fill="#333" stroke="#333" stroke-width="0.18">10</text>
<line x1="565.20" y1="81.70" x2="566.20" y2="81.70" stroke="#555" stroke-width="0.4"/>
<text x="562.80" y="82.50" font-size="2.2" textLength="2.0" lengthAdjust="spacingAndGlyphs" fill="#333" stroke="#333" stroke-width="0.18">10</text>
<line x1="565.20" y1="96.20" x2="566.20" y2="96.20" stroke="#555" stroke-width="0.4"/>
<text x="562.80" y="97.00" font-size="2.2" textLength="2.0" lengthAdjust="spacingAndGlyphs" fill="#333" stroke="#333" stroke-width="0.18">10</text>
<line x1="569.20" y1="102.10" x2="569.20" y2="103.10" stroke="#555" stroke-width="0.4"/>
<text x="568.20" y="105.70" font-size="2.2" textLength="2.0" lengthAdjust="spacingAndGlyphs" fill="#333" stroke="#333" stroke-width="0.18">10</text>
<line x1="580.96" y1="102.10" x2="580.96" y2="103.10" stroke="#555" stroke-width="0.4"/>
<text x="579.96" y="105.70" font-size="2.2" textLength="2.0" lengthAdjust="spacingAndGlyphs" fill="#333" stroke="#333" stroke-width="0.18">10</text>
<line x1="592.72" y1="102.10" x2="592.72" y2="103.10" stroke="#555" stroke-width="0.4"/>
<text x="591.72" y="105.70" font-size="2.2" textLength="2.0" lengthAdjust="spacingAndGlyphs" fill="#333" stroke="#333" stroke-width="0.18">10</text>
<line x1="604.49" y1="102.10" x2="604.49" y2="103.10" stroke="#555" stroke-width="0.4"/>
<text x="603.49" y="105.70" font-size="2.2" textLength="2.0" lengthAdjust="spacingAndGlyphs" fill="#333" stroke="#333" stroke-width="0.18">10</text>
<line x1="616.25" y1="102.10" x2="616.25" y2="103.10" stroke="#555" stroke-width="0.4"/>
<text x="615.25" y="105.70" font-size="2.2" textLength="2.0" lengthAdjust="spacingAndGlyphs" fill="#333" stroke="#333" stroke-width="0.18">10</text>
<clipPath id="clip13"><rect x="495.6" y="124.5" width="55.19999999999993" height="52.400000000000006"/></clipPath>
<rect x="495.60" y="124.50" width="55.20" height="52.40" fill="#fff" stroke="none" stroke-width="0"/>
<g clip-path="url(#clip13)">
<rect x="509.9" y="160.4" width="0.5" height="0.5" fill="#7080e8"/>
<rect x="533.4" y="169.0" width="0.5" height="0.5" fill="#7080e8"/>
<rect x="505.9" y="136.6" width="0.5" height="0.5" fill="#7080e8"/>
<rect x="503.7" y="136.3" width="0.5" height="0.5" fill="#7080e8"/>
<rect x="536.1" y="131.3" width="0.5" height="0.5" fill="#7080e8"/>
<rect x="524.9" y="135.7" width="0.5" height="0.5" fill="#7080e8"/>
<rect x="511.9" y="147.1" width="0.5" height="0.5" fill="#7080e8"/>
<rect x="541.8" y="156.4" width="0.5" height="0.5" fill="#7080e8"/>
<rect x="496.4" y="139.0" width="0.5" height="0.5" fill="#7080e8"/>
<rect x="503.7" y="170.2" width="0.5" height="0.5" fill="#7080e8"/>
<rect x="540.3" y="166.7" width="0.5" height="0.5" fill="#7080e8"/>
<rect x="541.2" y="163.5" width="0.5" height="0.5" fill="#7080e8"/>
<rect x="548.0" y="166.1" width="0.5" height="0.5" fill="#7080e8"/>
<rect x="509.8" y="169.0" width="0.5" height="0.5" fill="#7080e8"/>
<rect x="522.5" y="164.1" width="0.5" height="0.5" fill="#7080e8"/>
<rect x="526.7" y="147.0" width="0.5" height="0.5" fill="#7080e8"/>
<rect x="515.7" y="147.0" width="0.5" height="0.5" fill="#7080e8"/>
<rect x="512.9" y="130.6" width="0.5" height="0.5" fill="#7080e8"/>
<rect x="540.8" y="166.3" width="0.5" height="0.5" fill="#7080e8"/>
<rect x="550.0" y="160.7" width="0.5" height="0.5" fill="#7080e8"/>
<rect x="526.2" y="163.7" width="0.5" height="0.5" fill="#7080e8"/>
<rect x="503.0" y="160.0" width="0.5" height="0.5" fill="#7080e8"/>
<rect x="520.1" y="133.8" width="0.5" height="0.5" fill="#7080e8"/>
<rect x="506.8" y="151.9" width="0.5" height="0.5" fill="#7080e8"/>
<rect x="509.6" y="148.6" width="0.5" height="0.5" fill="#7080e8"/>
<rect x="529.0" y="145.2" width="0.5" height="0.5" fill="#7080e8"/>
<rect x="502.8" y="150.2" width="0.5" height="0.5" fill="#7080e8"/>
<rect x="508.6" y="136.8" width="0.5" height="0.5" fill="#7080e8"/>
<rect x="506.3" y="143.7" width="0.5" height="0.5" fill="#7080e8"/>
<rect x="499.6" y="158.6" width="0.5" height="0.5" fill="#7080e8"/>
<rect x="548.2" y="144.9" width="0.5" height="0.5" fill="#7080e8"/>
<rect x="535.3" y="173.4" width="0.5" height="0.5" fill="#7080e8"/>
<rect x="498.0" y="131.9" width="0.5" height="0.5" fill="#7080e8"/>
<rect x="540.1" y="168.4" width="0.5" height="0.5" fill="#7080e8"/>
<rect x="530.9" y="132.9" width="0.5" height="0.5" fill="#7080e8"/>
<rect x="518.4" y="170.0" width="0.5" height="0.5" fill="#7080e8"/>
<rect x="544.5" y="166.6" width="0.5" height="0.5" fill="#7080e8"/>
<rect x="506.8" y="169.2" width="0.5" height="0.5" fill="#7080e8"/>
<rect x="516.3" y="162.0" width="0.5" height="0.5" fill="#7080e8"/>
<rect x="503.2" y="175.4" width="0.5" height="0.5" fill="#7080e8"/>
<rect x="494.5" y="159.0" width="0.6" height="0.6" fill="#3a48f0"/>
<rect x="511.2" y="157.7" width="0.6" height="0.6" fill="#2030ff"/>
<rect x="501.7" y="170.6" width="0.6" height="0.6" fill="#6070f0"/>
<rect x="513.7" y="162.0" width="0.6" height="0.6" fill="#2030ff"/>
<rect x="514.0" y="155.9" width="0.6" height="0.6" fill="#1020d0"/>
<rect x="499.5" y="157.0" width="0.6" height="0.6" fill="#2030ff"/>
<rect x="528.0" y="150.9" width="0.6" height="0.6" fill="#2030ff"/>
<rect x="504.2" y="161.1" width="0.6" height="0.6" fill="#6070f0"/>
<rect x="517.2" y="160.7" width="0.6" height="0.6" fill="#6070f0"/>
<rect x="493.7" y="161.6" width="0.6" height="0.6" fill="#1020d0"/>
<rect x="489.1" y="165.5" width="0.6" height="0.6" fill="#2030ff"/>
<rect x="519.1" y="156.5" width="0.6" height="0.6" fill="#1020d0"/>
<rect x="496.9" y="161.5" width="0.6" height="0.6" fill="#1020d0"/>
<rect x="512.3" y="163.1" width="0.6" height="0.6" fill="#2030ff"/>
<rect x="500.3" y="170.2" width="0.6" height="0.6" fill="#3a48f0"/>
<rect x="507.5" y="155.6" width="0.6" height="0.6" fill="#3a48f0"/>
<rect x="511.7" y="167.5" width="0.6" height="0.6" fill="#6070f0"/>
<rect x="509.0" y="151.5" width="0.6" height="0.6" fill="#1020d0"/>
<rect x="514.3" y="163.7" width="0.6" height="0.6" fill="#2030ff"/>
<rect x="507.1" y="167.1" width="0.6" height="0.6" fill="#2030ff"/>
<rect x="507.6" y="151.8" width="0.6" height="0.6" fill="#2030ff"/>
<rect x="503.2" y="157.6" width="0.6" height="0.6" fill="#1020d0"/>
<rect x="497.0" y="165.3" width="0.6" height="0.6" fill="#6070f0"/>
<rect x="522.4" y="158.0" width="0.6" height="0.6" fill="#3a48f0"/>
<rect x="512.3" y="160.5" width="0.6" height="0.6" fill="#6070f0"/>
<rect x="511.6" y="155.0" width="0.6" height="0.6" fill="#6070f0"/>
<rect x="501.8" y="159.4" width="0.6" height="0.6" fill="#6070f0"/>
<rect x="517.9" y="161.1" width="0.6" height="0.6" fill="#1020d0"/>
<rect x="496.6" y="160.2" width="0.6" height="0.6" fill="#1020d0"/>
<rect x="522.7" y="157.1" width="0.6" height="0.6" fill="#3a48f0"/>
<rect x="512.8" y="158.2" width="0.6" height="0.6" fill="#3a48f0"/>
<rect x="518.2" y="151.6" width="0.6" height="0.6" fill="#3a48f0"/>
<rect x="525.1" y="146.3" width="0.6" height="0.6" fill="#3a48f0"/>
<rect x="532.5" y="159.3" width="0.6" height="0.6" fill="#2030ff"/>
<rect x="502.3" y="171.9" width="0.6" height="0.6" fill="#3a48f0"/>
<rect x="517.4" y="158.3" width="0.6" height="0.6" fill="#3a48f0"/>
<rect x="486.0" y="166.5" width="0.6" height="0.6" fill="#1020d0"/>
<rect x="515.1" y="163.7" width="0.6" height="0.6" fill="#2030ff"/>
<rect x="517.8" y="145.2" width="0.6" height="0.6" fill="#2030ff"/>
<rect x="487.8" y="157.7" width="0.6" height="0.6" fill="#6070f0"/>
<rect x="500.8" y="161.8" width="0.6" height="0.6" fill="#6070f0"/>
<rect x="511.0" y="165.4" width="0.6" height="0.6" fill="#2030ff"/>
<rect x="510.9" y="160.2" width="0.6" height="0.6" fill="#6070f0"/>
<rect x="531.1" y="133.0" width="0.6" height="0.6" fill="#1020d0"/>
<rect x="529.9" y="167.4" width="0.6" height="0.6" fill="#6070f0"/>
<rect x="512.0" y="158.0" width="0.6" height="0.6" fill="#2030ff"/>
<rect x="503.7" y="181.7" width="0.6" height="0.6" fill="#1020d0"/>
<rect x="505.9" y="163.4" width="0.6" height="0.6" fill="#3a48f0"/>
<rect x="508.9" y="160.2" width="0.6" height="0.6" fill="#2030ff"/>
<rect x="501.2" y="161.8" width="0.6" height="0.6" fill="#3a48f0"/>
<rect x="516.3" y="155.4" width="0.6" height="0.6" fill="#6070f0"/>
<rect x="484.7" y="178.9" width="0.6" height="0.6" fill="#1020d0"/>
<rect x="505.3" y="163.3" width="0.6" height="0.6" fill="#1020d0"/>
<rect x="515.0" y="163.6" width="0.6" height="0.6" fill="#1020d0"/>
<rect x="510.5" y="158.1" width="0.6" height="0.6" fill="#2030ff"/>
<rect x="497.9" y="164.9" width="0.6" height="0.6" fill="#3a48f0"/>
<rect x="522.3" y="160.2" width="0.6" height="0.6" fill="#6070f0"/>
<rect x="531.4" y="158.5" width="0.6" height="0.6" fill="#2030ff"/>
<rect x="516.8" y="167.4" width="0.6" height="0.6" fill="#1020d0"/>
<rect x="522.7" y="156.3" width="0.6" height="0.6" fill="#3a48f0"/>
<rect x="508.1" y="168.7" width="0.6" height="0.6" fill="#2030ff"/>
<rect x="506.3" y="154.2" width="0.6" height="0.6" fill="#6070f0"/>
<rect x="510.5" y="160.7" width="0.6" height="0.6" fill="#2030ff"/>
<rect x="512.7" y="166.4" width="0.6" height="0.6" fill="#2030ff"/>
<rect x="488.2" y="161.7" width="0.6" height="0.6" fill="#6070f0"/>
<rect x="499.3" y="156.3" width="0.6" height="0.6" fill="#1020d0"/>
<rect x="513.3" y="166.0" width="0.6" height="0.6" fill="#2030ff"/>
<rect x="530.9" y="160.3" width="0.6" height="0.6" fill="#1020d0"/>
<rect x="514.1" y="147.1" width="0.6" height="0.6" fill="#6070f0"/>
<rect x="503.9" y="152.5" width="0.6" height="0.6" fill="#2030ff"/>
<rect x="510.5" y="162.8" width="0.6" height="0.6" fill="#3a48f0"/>
<rect x="506.4" y="159.7" width="0.6" height="0.6" fill="#3a48f0"/>
<rect x="498.6" y="158.9" width="0.6" height="0.6" fill="#1020d0"/>
<rect x="515.5" y="153.2" width="0.6" height="0.6" fill="#1020d0"/>
<rect x="511.6" y="151.8" width="0.6" height="0.6" fill="#2030ff"/>
<rect x="519.0" y="153.5" width="0.6" height="0.6" fill="#6070f0"/>
<rect x="504.2" y="169.8" width="0.6" height="0.6" fill="#3a48f0"/>
<rect x="503.8" y="156.2" width="0.6" height="0.6" fill="#2030ff"/>
<rect x="507.3" y="145.8" width="0.6" height="0.6" fill="#6070f0"/>
<rect x="513.5" y="148.0" width="0.6" height="0.6" fill="#1020d0"/>
<rect x="502.1" y="167.1" width="0.6" height="0.6" fill="#2030ff"/>
<rect x="516.7" y="159.3" width="0.6" height="0.6" fill="#3a48f0"/>
<rect x="477.6" y="167.4" width="0.6" height="0.6" fill="#3a48f0"/>
<rect x="498.7" y="167.1" width="0.6" height="0.6" fill="#2030ff"/>
<rect x="523.0" y="171.4" width="0.6" height="0.6" fill="#2030ff"/>
<rect x="506.7" y="151.5" width="0.6" height="0.6" fill="#2030ff"/>
<rect x="495.0" y="162.0" width="0.6" height="0.6" fill="#6070f0"/>
<rect x="511.0" y="160.2" width="0.6" height="0.6" fill="#3a48f0"/>
<rect x="517.3" y="158.3" width="0.6" height="0.6" fill="#3a48f0"/>
<rect x="498.2" y="155.4" width="0.6" height="0.6" fill="#2030ff"/>
<rect x="511.8" y="147.0" width="0.6" height="0.6" fill="#3a48f0"/>
<rect x="518.2" y="160.4" width="0.6" height="0.6" fill="#2030ff"/>
<rect x="497.0" y="163.4" width="0.6" height="0.6" fill="#3a48f0"/>
<rect x="526.6" y="159.5" width="0.6" height="0.6" fill="#6070f0"/>
<rect x="503.6" y="164.2" width="0.6" height="0.6" fill="#6070f0"/>
<rect x="512.3" y="149.3" width="0.6" height="0.6" fill="#1020d0"/>
<rect x="515.8" y="154.6" width="0.6" height="0.6" fill="#3a48f0"/>
<rect x="523.7" y="159.9" width="0.6" height="0.6" fill="#3a48f0"/>
<rect x="515.0" y="158.7" width="0.6" height="0.6" fill="#6070f0"/>
<rect x="536.0" y="167.6" width="0.6" height="0.6" fill="#6070f0"/>
<rect x="520.8" y="160.0" width="0.6" height="0.6" fill="#2030ff"/>
<rect x="532.0" y="155.4" width="0.6" height="0.6" fill="#1020d0"/>
<rect x="519.2" y="161.8" width="0.6" height="0.6" fill="#1020d0"/>
<rect x="506.6" y="166.1" width="0.6" height="0.6" fill="#2030ff"/>
<rect x="504.6" y="154.4" width="0.6" height="0.6" fill="#2030ff"/>
<rect x="508.2" y="147.8" width="0.6" height="0.6" fill="#6070f0"/>
<rect x="500.2" y="165.3" width="0.6" height="0.6" fill="#3a48f0"/>
<rect x="502.9" y="153.5" width="0.6" height="0.6" fill="#3a48f0"/>
<rect x="511.1" y="162.8" width="0.6" height="0.6" fill="#1020d0"/>
<rect x="519.7" y="156.8" width="0.6" height="0.6" fill="#6070f0"/>
<rect x="508.6" y="157.1" width="0.6" height="0.6" fill="#3a48f0"/>
<rect x="495.1" y="161.5" width="0.6" height="0.6" fill="#2030ff"/>
<rect x="511.3" y="150.9" width="0.6" height="0.6" fill="#2030ff"/>
<rect x="496.8" y="164.8" width="0.6" height="0.6" fill="#3a48f0"/>
<rect x="501.0" y="158.6" width="0.6" height="0.6" fill="#2030ff"/>
<rect x="502.6" y="166.1" width="0.6" height="0.6" fill="#1020d0"/>
<rect x="506.8" y="162.3" width="0.6" height="0.6" fill="#3a48f0"/>
<rect x="496.1" y="171.7" width="0.6" height="0.6" fill="#2030ff"/>
<rect x="509.8" y="152.9" width="0.6" height="0.6" fill="#1020d0"/>
<rect x="504.5" y="148.2" width="0.6" height="0.6" fill="#2030ff"/>
<rect x="503.0" y="160.7" width="0.6" height="0.6" fill="#3a48f0"/>
<rect x="512.7" y="158.3" width="0.6" height="0.6" fill="#6070f0"/>
<rect x="511.8" y="157.8" width="0.6" height="0.6" fill="#6070f0"/>
<rect x="522.1" y="168.2" width="0.6" height="0.6" fill="#1020d0"/>
<rect x="512.2" y="155.7" width="0.6" height="0.6" fill="#3a48f0"/>
<rect x="498.7" y="167.2" width="0.6" height="0.6" fill="#2030ff"/>
<rect x="505.0" y="164.3" width="0.6" height="0.6" fill="#3a48f0"/>
<rect x="498.9" y="161.0" width="0.6" height="0.6" fill="#2030ff"/>
<rect x="511.6" y="159.3" width="0.6" height="0.6" fill="#1020d0"/>
<rect x="494.9" y="172.6" width="0.6" height="0.6" fill="#3a48f0"/>
<rect x="515.6" y="152.3" width="0.6" height="0.6" fill="#1020d0"/>
<rect x="522.7" y="153.3" width="0.6" height="0.6" fill="#1020d0"/>
<rect x="522.1" y="159.1" width="0.6" height="0.6" fill="#2030ff"/>
<rect x="528.2" y="157.2" width="0.6" height="0.6" fill="#3a48f0"/>
<rect x="511.0" y="162.3" width="0.6" height="0.6" fill="#1020d0"/>
<rect x="503.2" y="154.2" width="0.6" height="0.6" fill="#3a48f0"/>
<rect x="507.1" y="161.0" width="0.6" height="0.6" fill="#2030ff"/>
<rect x="517.8" y="166.6" width="0.6" height="0.6" fill="#1020d0"/>
<rect x="503.7" y="161.3" width="0.6" height="0.6" fill="#3a48f0"/>
<rect x="511.0" y="149.4" width="0.6" height="0.6" fill="#2030ff"/>
<rect x="512.1" y="161.0" width="0.6" height="0.6" fill="#3a48f0"/>
<rect x="495.9" y="149.4" width="0.6" height="0.6" fill="#1020d0"/>
<rect x="526.2" y="153.8" width="0.6" height="0.6" fill="#2030ff"/>
<rect x="504.9" y="162.1" width="0.6" height="0.6" fill="#2030ff"/>
<rect x="499.6" y="169.8" width="0.6" height="0.6" fill="#3a48f0"/>
<rect x="506.2" y="160.1" width="0.6" height="0.6" fill="#2030ff"/>
<rect x="505.5" y="164.2" width="0.6" height="0.6" fill="#1020d0"/>
<rect x="488.6" y="148.5" width="0.6" height="0.6" fill="#3a48f0"/>
<rect x="497.3" y="167.0" width="0.6" height="0.6" fill="#3a48f0"/>
<rect x="521.7" y="147.1" width="0.6" height="0.6" fill="#2030ff"/>
<rect x="498.7" y="163.5" width="0.6" height="0.6" fill="#3a48f0"/>
<rect x="502.3" y="166.3" width="0.6" height="0.6" fill="#6070f0"/>
<rect x="509.1" y="170.6" width="0.6" height="0.6" fill="#2030ff"/>
<rect x="519.8" y="160.3" width="0.6" height="0.6" fill="#3a48f0"/>
<rect x="501.8" y="151.3" width="0.6" height="0.6" fill="#3a48f0"/>
<rect x="511.5" y="169.2" width="0.6" height="0.6" fill="#1020d0"/>
<rect x="521.8" y="153.2" width="0.6" height="0.6" fill="#2030ff"/>
<rect x="493.6" y="153.3" width="0.6" height="0.6" fill="#3a48f0"/>
<rect x="503.6" y="164.1" width="0.6" height="0.6" fill="#1020d0"/>
<rect x="520.3" y="156.6" width="0.6" height="0.6" fill="#2030ff"/>
<rect x="526.6" y="163.6" width="0.6" height="0.6" fill="#1020d0"/>
<rect x="530.1" y="154.5" width="0.6" height="0.6" fill="#2030ff"/>
<rect x="518.6" y="160.3" width="0.6" height="0.6" fill="#3a48f0"/>
<rect x="507.1" y="153.3" width="0.6" height="0.6" fill="#1020d0"/>
<rect x="509.3" y="159.7" width="0.6" height="0.6" fill="#2030ff"/>
<rect x="518.3" y="155.0" width="0.6" height="0.6" fill="#6070f0"/>
<rect x="520.0" y="159.1" width="0.6" height="0.6" fill="#1020d0"/>
<rect x="519.6" y="146.0" width="0.6" height="0.6" fill="#3a48f0"/>
<rect x="515.1" y="156.6" width="0.6" height="0.6" fill="#3a48f0"/>
<rect x="523.1" y="158.6" width="0.6" height="0.6" fill="#1020d0"/>
<rect x="509.2" y="171.3" width="0.6" height="0.6" fill="#1020d0"/>
<rect x="512.4" y="151.9" width="0.6" height="0.6" fill="#2030ff"/>
<rect x="499.8" y="160.4" width="0.6" height="0.6" fill="#2030ff"/>
<rect x="520.8" y="159.0" width="0.6" height="0.6" fill="#3a48f0"/>
<rect x="494.8" y="166.8" width="0.6" height="0.6" fill="#1020d0"/>
<rect x="497.8" y="163.1" width="0.6" height="0.6" fill="#6070f0"/>
<rect x="512.0" y="162.0" width="0.6" height="0.6" fill="#6070f0"/>
<rect x="535.0" y="151.5" width="0.6" height="0.6" fill="#2030ff"/>
<rect x="500.2" y="156.9" width="0.6" height="0.6" fill="#2030ff"/>
<rect x="511.5" y="149.0" width="0.6" height="0.6" fill="#1020d0"/>
<rect x="520.6" y="155.8" width="0.6" height="0.6" fill="#1020d0"/>
<rect x="515.7" y="158.6" width="0.6" height="0.6" fill="#6070f0"/>
<rect x="508.6" y="150.6" width="0.6" height="0.6" fill="#3a48f0"/>
<rect x="507.8" y="170.1" width="0.6" height="0.6" fill="#1020d0"/>
<rect x="511.9" y="161.7" width="0.6" height="0.6" fill="#3a48f0"/>
<rect x="517.0" y="158.6" width="0.6" height="0.6" fill="#6070f0"/>
<rect x="510.8" y="151.0" width="0.6" height="0.6" fill="#1020d0"/>
<rect x="515.2" y="150.1" width="0.6" height="0.6" fill="#2030ff"/>
<rect x="533.0" y="152.5" width="0.6" height="0.6" fill="#6070f0"/>
<rect x="513.3" y="157.9" width="0.6" height="0.6" fill="#3a48f0"/>
<rect x="518.3" y="161.6" width="0.6" height="0.6" fill="#1020d0"/>
<rect x="502.2" y="164.3" width="0.6" height="0.6" fill="#6070f0"/>
<rect x="520.5" y="158.4" width="0.6" height="0.6" fill="#3a48f0"/>
<rect x="512.4" y="156.3" width="0.6" height="0.6" fill="#3a48f0"/>
<rect x="516.1" y="160.0" width="0.6" height="0.6" fill="#6070f0"/>
<rect x="515.8" y="166.9" width="0.6" height="0.6" fill="#6070f0"/>
<rect x="505.1" y="163.8" width="0.6" height="0.6" fill="#6070f0"/>
<rect x="523.0" y="161.6" width="0.6" height="0.6" fill="#1020d0"/>
<rect x="499.6" y="164.8" width="0.6" height="0.6" fill="#1020d0"/>
<rect x="522.8" y="158.7" width="0.6" height="0.6" fill="#3a48f0"/>
<rect x="512.0" y="170.0" width="0.6" height="0.6" fill="#1020d0"/>
<rect x="506.0" y="161.4" width="0.6" height="0.6" fill="#3a48f0"/>
<rect x="512.5" y="157.4" width="0.6" height="0.6" fill="#2030ff"/>
<rect x="501.5" y="158.4" width="0.6" height="0.6" fill="#1020d0"/>
<rect x="507.4" y="154.2" width="0.6" height="0.6" fill="#3a48f0"/>
<rect x="516.2" y="160.1" width="0.6" height="0.6" fill="#1020d0"/>
<rect x="513.8" y="146.5" width="0.6" height="0.6" fill="#2030ff"/>
<rect x="503.3" y="159.3" width="0.6" height="0.6" fill="#1020d0"/>
<rect x="498.3" y="169.0" width="0.6" height="0.6" fill="#3a48f0"/>
<rect x="506.9" y="162.1" width="0.6" height="0.6" fill="#6070f0"/>
<rect x="499.9" y="165.5" width="0.6" height="0.6" fill="#6070f0"/>
<rect x="515.1" y="147.1" width="0.6" height="0.6" fill="#1020d0"/>
<rect x="519.2" y="142.2" width="0.6" height="0.6" fill="#6070f0"/>
<rect x="499.8" y="154.0" width="0.6" height="0.6" fill="#6070f0"/>
<rect x="510.5" y="157.7" width="0.6" height="0.6" fill="#2030ff"/>
<rect x="505.9" y="144.4" width="0.6" height="0.6" fill="#6070f0"/>
<rect x="524.7" y="147.3" width="0.6" height="0.6" fill="#6070f0"/>
<rect x="514.3" y="158.6" width="0.6" height="0.6" fill="#1020d0"/>
<rect x="500.7" y="164.3" width="0.6" height="0.6" fill="#1020d0"/>
<rect x="533.1" y="160.2" width="0.6" height="0.6" fill="#3a48f0"/>
<rect x="528.5" y="146.4" width="0.6" height="0.6" fill="#2030ff"/>
<rect x="524.8" y="148.2" width="0.6" height="0.6" fill="#3a48f0"/>
<rect x="525.2" y="147.6" width="0.6" height="0.6" fill="#3a48f0"/>
<rect x="524.1" y="146.7" width="0.6" height="0.6" fill="#1020d0"/>
<rect x="517.2" y="147.3" width="0.6" height="0.6" fill="#1020d0"/>
<rect x="520.5" y="146.2" width="0.6" height="0.6" fill="#6070f0"/>
<rect x="526.2" y="150.4" width="0.6" height="0.6" fill="#6070f0"/>
<rect x="519.3" y="158.5" width="0.6" height="0.6" fill="#1020d0"/>
<rect x="521.6" y="147.5" width="0.6" height="0.6" fill="#2030ff"/>
<rect x="524.8" y="141.4" width="0.6" height="0.6" fill="#1020d0"/>
<rect x="522.5" y="152.8" width="0.6" height="0.6" fill="#3a48f0"/>
<rect x="511.6" y="141.6" width="0.6" height="0.6" fill="#1020d0"/>
<rect x="518.6" y="137.9" width="0.6" height="0.6" fill="#1020d0"/>
<rect x="526.2" y="157.0" width="0.6" height="0.6" fill="#2030ff"/>
<rect x="522.7" y="149.4" width="0.6" height="0.6" fill="#1020d0"/>
<rect x="522.3" y="142.1" width="0.6" height="0.6" fill="#6070f0"/>
<rect x="515.8" y="153.4" width="0.6" height="0.6" fill="#3a48f0"/>
<rect x="514.2" y="152.4" width="0.6" height="0.6" fill="#2030ff"/>
<rect x="520.1" y="142.6" width="0.6" height="0.6" fill="#2030ff"/>
<rect x="519.8" y="143.2" width="0.6" height="0.6" fill="#6070f0"/>
<rect x="524.4" y="150.1" width="0.6" height="0.6" fill="#2030ff"/>
<rect x="518.4" y="151.2" width="0.6" height="0.6" fill="#3a48f0"/>
<rect x="524.5" y="150.1" width="0.6" height="0.6" fill="#3a48f0"/>
<rect x="507.2" y="150.8" width="0.6" height="0.6" fill="#2030ff"/>
<rect x="532.5" y="148.7" width="0.6" height="0.6" fill="#3a48f0"/>
<rect x="524.8" y="144.7" width="0.6" height="0.6" fill="#6070f0"/>
<rect x="520.6" y="146.6" width="0.6" height="0.6" fill="#1020d0"/>
<rect x="524.9" y="146.3" width="0.6" height="0.6" fill="#6070f0"/>
<rect x="511.8" y="154.3" width="0.6" height="0.6" fill="#2030ff"/>
<rect x="511.0" y="148.5" width="0.6" height="0.6" fill="#1020d0"/>
<rect x="516.9" y="147.3" width="0.6" height="0.6" fill="#2030ff"/>
<rect x="530.9" y="149.9" width="0.6" height="0.6" fill="#2030ff"/>
<rect x="531.4" y="150.9" width="0.6" height="0.6" fill="#6070f0"/>
<rect x="516.7" y="154.1" width="0.6" height="0.6" fill="#1020d0"/>
<rect x="517.6" y="150.4" width="0.6" height="0.6" fill="#3a48f0"/>
<rect x="518.8" y="149.5" width="0.6" height="0.6" fill="#3a48f0"/>
<rect x="521.5" y="145.7" width="0.6" height="0.6" fill="#3a48f0"/>
<rect x="526.9" y="145.9" width="0.6" height="0.6" fill="#1020d0"/>
<rect x="525.1" y="146.2" width="0.6" height="0.6" fill="#6070f0"/>
<rect x="521.3" y="148.2" width="0.6" height="0.6" fill="#2030ff"/>
<rect x="515.0" y="137.8" width="0.6" height="0.6" fill="#2030ff"/>
<rect x="509.1" y="149.6" width="0.6" height="0.6" fill="#6070f0"/>
<rect x="519.7" y="159.3" width="0.6" height="0.6" fill="#2030ff"/>
<rect x="520.2" y="145.1" width="0.6" height="0.6" fill="#6070f0"/>
<rect x="522.0" y="152.1" width="0.6" height="0.6" fill="#6070f0"/>
<rect x="514.3" y="150.7" width="0.6" height="0.6" fill="#3a48f0"/>
<rect x="520.3" y="150.7" width="0.6" height="0.6" fill="#1020d0"/>
<rect x="520.1" y="153.7" width="0.6" height="0.6" fill="#1020d0"/>
<rect x="523.9" y="153.4" width="0.6" height="0.6" fill="#3a48f0"/>
<rect x="522.4" y="148.5" width="0.6" height="0.6" fill="#6070f0"/>
<rect x="538.5" y="128.0" width="0.6" height="0.6" fill="#1020d0"/>
<rect x="543.8" y="136.6" width="0.6" height="0.6" fill="#6070f0"/>
<rect x="535.8" y="139.7" width="0.6" height="0.6" fill="#1020d0"/>
<rect x="526.7" y="139.5" width="0.6" height="0.6" fill="#6070f0"/>
<rect x="532.5" y="139.5" width="0.6" height="0.6" fill="#2030ff"/>
<rect x="523.9" y="133.3" width="0.6" height="0.6" fill="#6070f0"/>
<rect x="536.8" y="136.5" width="0.6" height="0.6" fill="#2030ff"/>
<rect x="521.5" y="127.7" width="0.6" height="0.6" fill="#3a48f0"/>
<rect x="527.3" y="125.7" width="0.6" height="0.6" fill="#1020d0"/>
<rect x="540.5" y="148.5" width="0.6" height="0.6" fill="#3a48f0"/>
<rect x="531.1" y="130.6" width="0.6" height="0.6" fill="#2030ff"/>
<rect x="540.1" y="141.3" width="0.6" height="0.6" fill="#1020d0"/>
<rect x="547.6" y="139.7" width="0.6" height="0.6" fill="#1020d0"/>
<rect x="532.9" y="149.3" width="0.6" height="0.6" fill="#3a48f0"/>
<rect x="533.3" y="137.2" width="0.6" height="0.6" fill="#1020d0"/>
<rect x="547.1" y="137.2" width="0.6" height="0.6" fill="#6070f0"/>
<rect x="522.9" y="138.9" width="0.6" height="0.6" fill="#6070f0"/>
<rect x="529.4" y="132.7" width="0.6" height="0.6" fill="#6070f0"/>
<rect x="538.4" y="133.6" width="0.6" height="0.6" fill="#3a48f0"/>
<rect x="526.9" y="128.8" width="0.6" height="0.6" fill="#6070f0"/>
<rect x="529.3" y="144.6" width="0.6" height="0.6" fill="#6070f0"/>
<rect x="523.4" y="142.0" width="0.6" height="0.6" fill="#1020d0"/>
<rect x="528.7" y="144.5" width="0.6" height="0.6" fill="#1020d0"/>
<rect x="524.9" y="135.4" width="0.6" height="0.6" fill="#1020d0"/>
<rect x="555.4" y="145.7" width="0.6" height="0.6" fill="#2030ff"/>
<radialGradient id="sg5"><stop offset="0" stop-color="#a8e820" stop-opacity="1"/><stop offset="0.08" stop-color="#60dc50" stop-opacity="1"/><stop offset="0.2" stop-color="#10c8b0" stop-opacity="1"/><stop offset="0.32" stop-color="#0098ff" stop-opacity="1"/><stop offset="0.46" stop-color="#1050ff" stop-opacity="1"/><stop offset="0.64" stop-color="#1a32ff" stop-opacity="1"/><stop offset="0.8" stop-color="#2a40ff" stop-opacity="0.7"/><stop offset="0.92" stop-color="#4a5aff" stop-opacity="0.3"/><stop offset="1" stop-color="#6070ff" stop-opacity="0"/></radialGradient>
<ellipse cx="509.5" cy="161.2" rx="18.5" ry="10.2" transform="rotate(-18 509.5 161.2)" fill="url(#sg5)"/>
</g>
<line x1="522.30" y1="124.50" x2="522.30" y2="176.90" stroke="#808080" stroke-width="0.7"/>
<line x1="495.60" y1="149.30" x2="550.80" y2="149.30" stroke="#808080" stroke-width="0.7"/>
<rect x="495.60" y="124.50" width="55.20" height="52.40" fill="none" stroke="#777" stroke-width="0.6"/>
<text x="496.40" y="127.40" font-size="2.3" textLength="17.4" lengthAdjust="spacingAndGlyphs" fill="#222" stroke="#222" stroke-width="0.2">Q1-UL(0.63%)</text>
<text x="531.00" y="127.40" font-size="2.3" textLength="17.4" lengthAdjust="spacingAndGlyphs" fill="#222" stroke="#222" stroke-width="0.2">Q1-UR(0.93%)</text>
<text x="496.40" y="175.30" font-size="2.3" textLength="18.849999999999998" lengthAdjust="spacingAndGlyphs" fill="#222" stroke="#222" stroke-width="0.2">Q1-LL(97.73%)</text>
<text x="532.00" y="175.30" font-size="2.3" textLength="17.4" lengthAdjust="spacingAndGlyphs" fill="#222" stroke="#222" stroke-width="0.2">Q1-LR(0.67%)</text>
<line x1="494.60" y1="127.50" x2="495.60" y2="127.50" stroke="#555" stroke-width="0.4"/>
<text x="492.20" y="128.30" font-size="2.2" textLength="2.0" lengthAdjust="spacingAndGlyphs" fill="#333" stroke="#333" stroke-width="0.18">10</text>
<line x1="494.60" y1="142.00" x2="495.60" y2="142.00" stroke="#555" stroke-width="0.4"/>
<text x="492.20" y="142.80" font-size="2.2" textLength="2.0" lengthAdjust="spacingAndGlyphs" fill="#333" stroke="#333" stroke-width="0.18">10</text>
<line x1="494.60" y1="156.50" x2="495.60" y2="156.50" stroke="#555" stroke-width="0.4"/>
<text x="492.20" y="157.30" font-size="2.2" textLength="2.0" lengthAdjust="spacingAndGlyphs" fill="#333" stroke="#333" stroke-width="0.18">10</text>
<line x1="494.60" y1="171.00" x2="495.60" y2="171.00" stroke="#555" stroke-width="0.4"/>
<text x="492.20" y="171.80" font-size="2.2" textLength="2.0" lengthAdjust="spacingAndGlyphs" fill="#333" stroke="#333" stroke-width="0.18">10</text>
<line x1="498.60" y1="176.90" x2="498.60" y2="177.90" stroke="#555" stroke-width="0.4"/>
<text x="497.60" y="180.50" font-size="2.2" textLength="2.0" lengthAdjust="spacingAndGlyphs" fill="#333" stroke="#333" stroke-width="0.18">10</text>
<line x1="510.31" y1="176.90" x2="510.31" y2="177.90" stroke="#555" stroke-width="0.4"/>
<text x="509.31" y="180.50" font-size="2.2" textLength="2.0" lengthAdjust="spacingAndGlyphs" fill="#333" stroke="#333" stroke-width="0.18">10</text>
<line x1="522.03" y1="176.90" x2="522.03" y2="177.90" stroke="#555" stroke-width="0.4"/>
<text x="521.03" y="180.50" font-size="2.2" textLength="2.0" lengthAdjust="spacingAndGlyphs" fill="#333" stroke="#333" stroke-width="0.18">10</text>
<line x1="533.74" y1="176.90" x2="533.74" y2="177.90" stroke="#555" stroke-width="0.4"/>
<text x="532.74" y="180.50" font-size="2.2" textLength="2.0" lengthAdjust="spacingAndGlyphs" fill="#333" stroke="#333" stroke-width="0.18">10</text>
<line x1="545.46" y1="176.90" x2="545.46" y2="177.90" stroke="#555" stroke-width="0.4"/>
<text x="544.46" y="180.50" font-size="2.2" textLength="2.0" lengthAdjust="spacingAndGlyphs" fill="#333" stroke="#333" stroke-width="0.18">10</text>
<clipPath id="clip14"><rect x="565.7" y="124.5" width="55.19999999999993" height="52.400000000000006"/></clipPath>
<rect x="565.70" y="124.50" width="55.20" height="52.40" fill="#fff" stroke="none" stroke-width="0"/>
<g clip-path="url(#clip14)">
<rect x="571.6" y="161.3" width="0.5" height="0.5" fill="#7080e8"/>
<rect x="601.7" y="173.8" width="0.5" height="0.5" fill="#7080e8"/>
<rect x="580.7" y="137.9" width="0.5" height="0.5" fill="#7080e8"/>
<rect x="606.2" y="159.0" width="0.5" height="0.5" fill="#7080e8"/>
<rect x="582.4" y="160.4" width="0.5" height="0.5" fill="#7080e8"/>
<rect x="587.6" y="165.2" width="0.5" height="0.5" fill="#7080e8"/>
<rect x="572.2" y="136.2" width="0.5" height="0.5" fill="#7080e8"/>
<rect x="615.5" y="143.3" width="0.5" height="0.5" fill="#7080e8"/>
<rect x="580.1" y="166.6" width="0.5" height="0.5" fill="#7080e8"/>
<rect x="600.6" y="132.3" width="0.5" height="0.5" fill="#7080e8"/>
<rect x="596.1" y="159.3" width="0.5" height="0.5" fill="#7080e8"/>
<rect x="574.8" y="158.6" width="0.5" height="0.5" fill="#7080e8"/>
<rect x="572.5" y="142.2" width="0.5" height="0.5" fill="#7080e8"/>
<rect x="570.3" y="135.2" width="0.5" height="0.5" fill="#7080e8"/>
<rect x="619.7" y="145.7" width="0.5" height="0.5" fill="#7080e8"/>
<rect x="620.4" y="147.5" width="0.5" height="0.5" fill="#7080e8"/>
<rect x="599.2" y="170.2" width="0.5" height="0.5" fill="#7080e8"/>
<rect x="603.6" y="130.3" width="0.5" height="0.5" fill="#7080e8"/>
<rect x="598.2" y="157.7" width="0.5" height="0.5" fill="#7080e8"/>
<rect x="575.7" y="129.5" width="0.5" height="0.5" fill="#7080e8"/>
<rect x="614.0" y="151.4" width="0.5" height="0.5" fill="#7080e8"/>
<rect x="576.4" y="148.2" width="0.5" height="0.5" fill="#7080e8"/>
<rect x="577.7" y="166.3" width="0.5" height="0.5" fill="#7080e8"/>
<rect x="593.3" y="129.9" width="0.5" height="0.5" fill="#7080e8"/>
<rect x="610.9" y="129.2" width="0.5" height="0.5" fill="#7080e8"/>
<rect x="581.2" y="126.0" width="0.5" height="0.5" fill="#7080e8"/>
<rect x="606.6" y="130.5" width="0.5" height="0.5" fill="#7080e8"/>
<rect x="594.7" y="129.4" width="0.5" height="0.5" fill="#7080e8"/>
<rect x="592.2" y="160.4" width="0.5" height="0.5" fill="#7080e8"/>
<rect x="595.2" y="148.4" width="0.5" height="0.5" fill="#7080e8"/>
<rect x="592.5" y="147.4" width="0.5" height="0.5" fill="#7080e8"/>
<rect x="598.6" y="129.5" width="0.5" height="0.5" fill="#7080e8"/>
<rect x="591.9" y="136.9" width="0.5" height="0.5" fill="#7080e8"/>
<rect x="613.5" y="173.7" width="0.5" height="0.5" fill="#7080e8"/>
<rect x="569.4" y="132.0" width="0.5" height="0.5" fill="#7080e8"/>
<rect x="604.5" y="154.4" width="0.5" height="0.5" fill="#7080e8"/>
<rect x="566.8" y="161.4" width="0.5" height="0.5" fill="#7080e8"/>
<rect x="617.8" y="146.7" width="0.5" height="0.5" fill="#7080e8"/>
<rect x="584.9" y="154.3" width="0.5" height="0.5" fill="#7080e8"/>
<rect x="617.5" y="138.3" width="0.5" height="0.5" fill="#7080e8"/>
<rect x="581.9" y="163.6" width="0.6" height="0.6" fill="#1020d0"/>
<rect x="584.8" y="155.3" width="0.6" height="0.6" fill="#2030ff"/>
<rect x="595.5" y="157.1" width="0.6" height="0.6" fill="#2030ff"/>
<rect x="573.5" y="158.2" width="0.6" height="0.6" fill="#6070f0"/>
<rect x="590.3" y="156.8" width="0.6" height="0.6" fill="#3a48f0"/>
<rect x="583.7" y="158.3" width="0.6" height="0.6" fill="#6070f0"/>
<rect x="590.2" y="153.0" width="0.6" height="0.6" fill="#3a48f0"/>
<rect x="591.5" y="167.3" width="0.6" height="0.6" fill="#6070f0"/>
<rect x="580.6" y="171.3" width="0.6" height="0.6" fill="#6070f0"/>
<rect x="614.5" y="154.2" width="0.6" height="0.6" fill="#3a48f0"/>
<rect x="557.5" y="164.5" width="0.6" height="0.6" fill="#6070f0"/>
<rect x="573.6" y="161.5" width="0.6" height="0.6" fill="#1020d0"/>
<rect x="560.4" y="161.0" width="0.6" height="0.6" fill="#6070f0"/>
<rect x="550.6" y="168.3" width="0.6" height="0.6" fill="#2030ff"/>
<rect x="588.2" y="174.4" width="0.6" height="0.6" fill="#1020d0"/>
<rect x="583.8" y="155.6" width="0.6" height="0.6" fill="#2030ff"/>
<rect x="587.2" y="159.6" width="0.6" height="0.6" fill="#3a48f0"/>
<rect x="589.4" y="165.4" width="0.6" height="0.6" fill="#3a48f0"/>
<rect x="570.5" y="160.0" width="0.6" height="0.6" fill="#2030ff"/>
<rect x="584.8" y="165.3" width="0.6" height="0.6" fill="#1020d0"/>
<rect x="571.7" y="165.5" width="0.6" height="0.6" fill="#2030ff"/>
<rect x="599.1" y="164.1" width="0.6" height="0.6" fill="#3a48f0"/>
<rect x="613.6" y="152.9" width="0.6" height="0.6" fill="#6070f0"/>
<rect x="601.9" y="153.8" width="0.6" height="0.6" fill="#2030ff"/>
<rect x="569.3" y="158.5" width="0.6" height="0.6" fill="#1020d0"/>
<rect x="581.9" y="161.7" width="0.6" height="0.6" fill="#6070f0"/>
<rect x="603.6" y="157.9" width="0.6" height="0.6" fill="#2030ff"/>
<rect x="587.9" y="156.4" width="0.6" height="0.6" fill="#2030ff"/>
<rect x="599.4" y="145.2" width="0.6" height="0.6" fill="#3a48f0"/>
<rect x="606.9" y="158.2" width="0.6" height="0.6" fill="#6070f0"/>
<rect x="622.6" y="154.8" width="0.6" height="0.6" fill="#3a48f0"/>
<rect x="598.6" y="155.2" width="0.6" height="0.6" fill="#1020d0"/>
<rect x="582.8" y="157.5" width="0.6" height="0.6" fill="#2030ff"/>
<rect x="593.6" y="155.3" width="0.6" height="0.6" fill="#2030ff"/>
<rect x="559.7" y="160.8" width="0.6" height="0.6" fill="#2030ff"/>
<rect x="608.4" y="145.8" width="0.6" height="0.6" fill="#2030ff"/>
<rect x="573.0" y="166.1" width="0.6" height="0.6" fill="#6070f0"/>
<rect x="580.2" y="153.1" width="0.6" height="0.6" fill="#6070f0"/>
<rect x="609.1" y="166.1" width="0.6" height="0.6" fill="#6070f0"/>
<rect x="599.5" y="153.0" width="0.6" height="0.6" fill="#1020d0"/>
<rect x="603.4" y="155.4" width="0.6" height="0.6" fill="#1020d0"/>
<rect x="577.9" y="166.1" width="0.6" height="0.6" fill="#1020d0"/>
<rect x="586.6" y="170.2" width="0.6" height="0.6" fill="#1020d0"/>
<rect x="606.5" y="150.8" width="0.6" height="0.6" fill="#1020d0"/>
<rect x="592.2" y="150.3" width="0.6" height="0.6" fill="#1020d0"/>
<rect x="593.9" y="138.2" width="0.6" height="0.6" fill="#3a48f0"/>
<rect x="586.9" y="153.7" width="0.6" height="0.6" fill="#2030ff"/>
<rect x="584.6" y="161.6" width="0.6" height="0.6" fill="#2030ff"/>
<rect x="604.2" y="155.5" width="0.6" height="0.6" fill="#6070f0"/>
<rect x="584.1" y="151.1" width="0.6" height="0.6" fill="#3a48f0"/>
<rect x="587.4" y="156.2" width="0.6" height="0.6" fill="#2030ff"/>
<rect x="580.2" y="155.2" width="0.6" height="0.6" fill="#6070f0"/>
<rect x="575.1" y="162.0" width="0.6" height="0.6" fill="#2030ff"/>
<rect x="570.3" y="157.2" width="0.6" height="0.6" fill="#6070f0"/>
<rect x="577.1" y="168.1" width="0.6" height="0.6" fill="#6070f0"/>
<rect x="602.1" y="157.1" width="0.6" height="0.6" fill="#1020d0"/>
<rect x="604.1" y="164.2" width="0.6" height="0.6" fill="#6070f0"/>
<rect x="572.5" y="162.4" width="0.6" height="0.6" fill="#2030ff"/>
<rect x="594.7" y="163.2" width="0.6" height="0.6" fill="#6070f0"/>
<rect x="564.7" y="164.3" width="0.6" height="0.6" fill="#6070f0"/>
<rect x="570.6" y="151.6" width="0.6" height="0.6" fill="#3a48f0"/>
<rect x="584.2" y="157.1" width="0.6" height="0.6" fill="#2030ff"/>
<rect x="611.4" y="151.5" width="0.6" height="0.6" fill="#3a48f0"/>
<rect x="592.5" y="153.0" width="0.6" height="0.6" fill="#1020d0"/>
<rect x="560.7" y="157.2" width="0.6" height="0.6" fill="#6070f0"/>
<rect x="589.3" y="162.2" width="0.6" height="0.6" fill="#6070f0"/>
<rect x="577.0" y="167.9" width="0.6" height="0.6" fill="#1020d0"/>
<rect x="587.0" y="159.2" width="0.6" height="0.6" fill="#6070f0"/>
<rect x="589.0" y="161.6" width="0.6" height="0.6" fill="#3a48f0"/>
<rect x="605.8" y="162.4" width="0.6" height="0.6" fill="#3a48f0"/>
<rect x="593.2" y="153.9" width="0.6" height="0.6" fill="#1020d0"/>
<rect x="603.5" y="161.8" width="0.6" height="0.6" fill="#1020d0"/>
<rect x="602.0" y="153.5" width="0.6" height="0.6" fill="#2030ff"/>
<rect x="576.9" y="151.7" width="0.6" height="0.6" fill="#3a48f0"/>
<rect x="600.3" y="157.8" width="0.6" height="0.6" fill="#1020d0"/>
<rect x="586.2" y="160.8" width="0.6" height="0.6" fill="#6070f0"/>
<rect x="594.3" y="148.4" width="0.6" height="0.6" fill="#2030ff"/>
<rect x="604.7" y="159.3" width="0.6" height="0.6" fill="#2030ff"/>
<rect x="594.5" y="149.1" width="0.6" height="0.6" fill="#3a48f0"/>
<rect x="588.5" y="155.5" width="0.6" height="0.6" fill="#1020d0"/>
<rect x="572.0" y="159.5" width="0.6" height="0.6" fill="#2030ff"/>
<rect x="563.2" y="152.0" width="0.6" height="0.6" fill="#6070f0"/>
<rect x="596.7" y="161.4" width="0.6" height="0.6" fill="#6070f0"/>
<rect x="593.3" y="163.5" width="0.6" height="0.6" fill="#2030ff"/>
<rect x="580.7" y="157.9" width="0.6" height="0.6" fill="#1020d0"/>
<rect x="576.9" y="171.4" width="0.6" height="0.6" fill="#1020d0"/>
<rect x="590.7" y="165.6" width="0.6" height="0.6" fill="#6070f0"/>
<rect x="559.8" y="163.7" width="0.6" height="0.6" fill="#3a48f0"/>
<rect x="595.2" y="152.0" width="0.6" height="0.6" fill="#3a48f0"/>
<rect x="583.1" y="156.2" width="0.6" height="0.6" fill="#6070f0"/>
<rect x="575.1" y="161.4" width="0.6" height="0.6" fill="#1020d0"/>
<rect x="605.6" y="167.4" width="0.6" height="0.6" fill="#1020d0"/>
<rect x="581.7" y="164.3" width="0.6" height="0.6" fill="#6070f0"/>
<rect x="590.6" y="167.9" width="0.6" height="0.6" fill="#2030ff"/>
<rect x="585.3" y="166.9" width="0.6" height="0.6" fill="#2030ff"/>
<rect x="587.5" y="162.6" width="0.6" height="0.6" fill="#6070f0"/>
<rect x="591.9" y="160.0" width="0.6" height="0.6" fill="#3a48f0"/>
<rect x="580.0" y="149.1" width="0.6" height="0.6" fill="#6070f0"/>
<rect x="594.7" y="157.2" width="0.6" height="0.6" fill="#3a48f0"/>
<rect x="594.6" y="174.3" width="0.6" height="0.6" fill="#3a48f0"/>
<rect x="594.5" y="157.9" width="0.6" height="0.6" fill="#3a48f0"/>
<rect x="610.1" y="152.4" width="0.6" height="0.6" fill="#1020d0"/>
<rect x="575.5" y="156.4" width="0.6" height="0.6" fill="#1020d0"/>
<rect x="574.4" y="162.6" width="0.6" height="0.6" fill="#2030ff"/>
<rect x="576.0" y="160.8" width="0.6" height="0.6" fill="#3a48f0"/>
<rect x="576.7" y="150.4" width="0.6" height="0.6" fill="#3a48f0"/>
<rect x="553.8" y="165.7" width="0.6" height="0.6" fill="#6070f0"/>
<rect x="596.8" y="151.5" width="0.6" height="0.6" fill="#1020d0"/>
<rect x="620.3" y="153.0" width="0.6" height="0.6" fill="#6070f0"/>
<rect x="595.5" y="155.3" width="0.6" height="0.6" fill="#6070f0"/>
<rect x="585.8" y="155.8" width="0.6" height="0.6" fill="#2030ff"/>
<rect x="588.6" y="157.3" width="0.6" height="0.6" fill="#3a48f0"/>
<rect x="597.3" y="153.3" width="0.6" height="0.6" fill="#1020d0"/>
<rect x="562.4" y="164.4" width="0.6" height="0.6" fill="#1020d0"/>
<rect x="601.4" y="154.5" width="0.6" height="0.6" fill="#2030ff"/>
<rect x="581.9" y="167.5" width="0.6" height="0.6" fill="#3a48f0"/>
<rect x="583.3" y="147.0" width="0.6" height="0.6" fill="#1020d0"/>
<rect x="606.1" y="149.2" width="0.6" height="0.6" fill="#1020d0"/>
<rect x="578.5" y="152.2" width="0.6" height="0.6" fill="#6070f0"/>
<rect x="572.2" y="167.9" width="0.6" height="0.6" fill="#6070f0"/>
<rect x="574.9" y="165.4" width="0.6" height="0.6" fill="#2030ff"/>
<rect x="614.5" y="165.9" width="0.6" height="0.6" fill="#2030ff"/>
<rect x="562.0" y="164.6" width="0.6" height="0.6" fill="#1020d0"/>
<rect x="577.5" y="155.7" width="0.6" height="0.6" fill="#2030ff"/>
<rect x="597.5" y="157.8" width="0.6" height="0.6" fill="#3a48f0"/>
<rect x="559.1" y="156.7" width="0.6" height="0.6" fill="#3a48f0"/>
<rect x="577.5" y="163.5" width="0.6" height="0.6" fill="#3a48f0"/>
<rect x="587.0" y="157.0" width="0.6" height="0.6" fill="#6070f0"/>
<rect x="618.0" y="157.5" width="0.6" height="0.6" fill="#2030ff"/>
<rect x="588.6" y="159.4" width="0.6" height="0.6" fill="#2030ff"/>
<rect x="582.4" y="149.8" width="0.6" height="0.6" fill="#3a48f0"/>
<rect x="591.6" y="152.3" width="0.6" height="0.6" fill="#1020d0"/>
<rect x="562.7" y="154.7" width="0.6" height="0.6" fill="#2030ff"/>
<rect x="571.4" y="155.9" width="0.6" height="0.6" fill="#2030ff"/>
<rect x="589.8" y="157.7" width="0.6" height="0.6" fill="#1020d0"/>
<rect x="592.3" y="165.6" width="0.6" height="0.6" fill="#3a48f0"/>
<rect x="594.2" y="159.9" width="0.6" height="0.6" fill="#2030ff"/>
<rect x="574.9" y="159.6" width="0.6" height="0.6" fill="#1020d0"/>
<rect x="583.7" y="152.4" width="0.6" height="0.6" fill="#3a48f0"/>
<rect x="582.8" y="164.6" width="0.6" height="0.6" fill="#1020d0"/>
<rect x="561.4" y="171.8" width="0.6" height="0.6" fill="#3a48f0"/>
<rect x="559.8" y="163.7" width="0.6" height="0.6" fill="#1020d0"/>
<rect x="592.6" y="177.4" width="0.6" height="0.6" fill="#3a48f0"/>
<rect x="604.0" y="156.4" width="0.6" height="0.6" fill="#6070f0"/>
<rect x="575.1" y="161.0" width="0.6" height="0.6" fill="#1020d0"/>
<rect x="574.8" y="175.9" width="0.6" height="0.6" fill="#6070f0"/>
<rect x="569.4" y="166.4" width="0.6" height="0.6" fill="#2030ff"/>
<rect x="587.5" y="158.4" width="0.6" height="0.6" fill="#3a48f0"/>
<rect x="586.3" y="158.3" width="0.6" height="0.6" fill="#2030ff"/>
<rect x="577.6" y="168.0" width="0.6" height="0.6" fill="#3a48f0"/>
<rect x="582.7" y="149.1" width="0.6" height="0.6" fill="#1020d0"/>
<rect x="579.9" y="150.3" width="0.6" height="0.6" fill="#6070f0"/>
<rect x="578.7" y="162.2" width="0.6" height="0.6" fill="#1020d0"/>
<rect x="577.1" y="163.2" width="0.6" height="0.6" fill="#2030ff"/>
<rect x="596.8" y="147.2" width="0.6" height="0.6" fill="#2030ff"/>
<rect x="566.4" y="157.3" width="0.6" height="0.6" fill="#6070f0"/>
<rect x="601.0" y="154.1" width="0.6" height="0.6" fill="#1020d0"/>
<rect x="588.6" y="174.0" width="0.6" height="0.6" fill="#1020d0"/>
<rect x="607.8" y="162.3" width="0.6" height="0.6" fill="#1020d0"/>
<rect x="579.0" y="162.2" width="0.6" height="0.6" fill="#6070f0"/>
<rect x="601.6" y="159.7" width="0.6" height="0.6" fill="#3a48f0"/>
<rect x="577.2" y="172.8" width="0.6" height="0.6" fill="#2030ff"/>
<rect x="576.9" y="170.5" width="0.6" height="0.6" fill="#2030ff"/>
<rect x="582.9" y="164.8" width="0.6" height="0.6" fill="#6070f0"/>
<rect x="611.3" y="146.5" width="0.6" height="0.6" fill="#6070f0"/>
<rect x="559.2" y="159.8" width="0.6" height="0.6" fill="#6070f0"/>
<rect x="585.0" y="166.6" width="0.6" height="0.6" fill="#2030ff"/>
<rect x="552.2" y="172.4" width="0.6" height="0.6" fill="#6070f0"/>
<rect x="603.3" y="153.9" width="0.6" height="0.6" fill="#1020d0"/>
<rect x="583.0" y="165.1" width="0.6" height="0.6" fill="#3a48f0"/>
<rect x="590.8" y="161.7" width="0.6" height="0.6" fill="#3a48f0"/>
<rect x="603.1" y="148.8" width="0.6" height="0.6" fill="#3a48f0"/>
<rect x="574.7" y="148.2" width="0.6" height="0.6" fill="#1020d0"/>
<rect x="583.0" y="166.2" width="0.6" height="0.6" fill="#2030ff"/>
<rect x="598.7" y="160.4" width="0.6" height="0.6" fill="#1020d0"/>
<rect x="580.6" y="164.2" width="0.6" height="0.6" fill="#3a48f0"/>
<rect x="594.3" y="151.3" width="0.6" height="0.6" fill="#6070f0"/>
<rect x="595.7" y="146.1" width="0.6" height="0.6" fill="#6070f0"/>
<rect x="562.2" y="166.2" width="0.6" height="0.6" fill="#1020d0"/>
<rect x="583.3" y="164.4" width="0.6" height="0.6" fill="#1020d0"/>
<rect x="595.5" y="166.3" width="0.6" height="0.6" fill="#3a48f0"/>
<rect x="563.4" y="167.1" width="0.6" height="0.6" fill="#1020d0"/>
<rect x="582.6" y="175.5" width="0.6" height="0.6" fill="#2030ff"/>
<rect x="590.9" y="152.8" width="0.6" height="0.6" fill="#2030ff"/>
<rect x="580.1" y="159.5" width="0.6" height="0.6" fill="#2030ff"/>
<rect x="591.6" y="155.7" width="0.6" height="0.6" fill="#2030ff"/>
<rect x="549.5" y="156.4" width="0.6" height="0.6" fill="#2030ff"/>
<rect x="568.2" y="160.0" width="0.6" height="0.6" fill="#3a48f0"/>
<rect x="564.0" y="158.6" width="0.6" height="0.6" fill="#3a48f0"/>
<rect x="611.3" y="155.3" width="0.6" height="0.6" fill="#3a48f0"/>
<rect x="600.3" y="152.4" width="0.6" height="0.6" fill="#1020d0"/>
<rect x="577.6" y="161.4" width="0.6" height="0.6" fill="#2030ff"/>
<rect x="575.5" y="160.9" width="0.6" height="0.6" fill="#3a48f0"/>
<rect x="577.4" y="171.4" width="0.6" height="0.6" fill="#3a48f0"/>
<rect x="593.7" y="161.3" width="0.6" height="0.6" fill="#1020d0"/>
<rect x="584.3" y="167.1" width="0.6" height="0.6" fill="#3a48f0"/>
<rect x="573.9" y="163.6" width="0.6" height="0.6" fill="#3a48f0"/>
<rect x="585.4" y="167.0" width="0.6" height="0.6" fill="#2030ff"/>
<rect x="598.3" y="156.9" width="0.6" height="0.6" fill="#6070f0"/>
<rect x="586.4" y="158.6" width="0.6" height="0.6" fill="#2030ff"/>
<rect x="565.1" y="149.8" width="0.6" height="0.6" fill="#1020d0"/>
<rect x="564.3" y="164.2" width="0.6" height="0.6" fill="#3a48f0"/>
<rect x="589.6" y="163.8" width="0.6" height="0.6" fill="#2030ff"/>
<rect x="600.6" y="162.6" width="0.6" height="0.6" fill="#6070f0"/>
<rect x="573.4" y="158.0" width="0.6" height="0.6" fill="#1020d0"/>
<rect x="583.8" y="156.5" width="0.6" height="0.6" fill="#2030ff"/>
<rect x="580.4" y="161.1" width="0.6" height="0.6" fill="#3a48f0"/>
<rect x="591.3" y="157.7" width="0.6" height="0.6" fill="#2030ff"/>
<rect x="573.5" y="158.6" width="0.6" height="0.6" fill="#3a48f0"/>
<rect x="584.1" y="162.7" width="0.6" height="0.6" fill="#6070f0"/>
<rect x="571.9" y="159.6" width="0.6" height="0.6" fill="#3a48f0"/>
<rect x="604.4" y="147.4" width="0.6" height="0.6" fill="#2030ff"/>
<rect x="592.8" y="162.7" width="0.6" height="0.6" fill="#1020d0"/>
<rect x="568.8" y="160.2" width="0.6" height="0.6" fill="#6070f0"/>
<rect x="561.1" y="162.9" width="0.6" height="0.6" fill="#1020d0"/>
<rect x="572.2" y="153.6" width="0.6" height="0.6" fill="#6070f0"/>
<rect x="586.9" y="158.6" width="0.6" height="0.6" fill="#6070f0"/>
<rect x="577.1" y="150.9" width="0.6" height="0.6" fill="#1020d0"/>
<rect x="602.9" y="161.5" width="0.6" height="0.6" fill="#2030ff"/>
<rect x="565.7" y="160.8" width="0.6" height="0.6" fill="#1020d0"/>
<rect x="617.8" y="157.5" width="0.6" height="0.6" fill="#2030ff"/>
<rect x="612.5" y="155.9" width="0.6" height="0.6" fill="#3a48f0"/>
<rect x="578.1" y="164.2" width="0.6" height="0.6" fill="#3a48f0"/>
<rect x="561.3" y="153.0" width="0.6" height="0.6" fill="#3a48f0"/>
<rect x="586.4" y="162.8" width="0.6" height="0.6" fill="#3a48f0"/>
<rect x="575.8" y="168.8" width="0.6" height="0.6" fill="#1020d0"/>
<rect x="586.9" y="162.3" width="0.6" height="0.6" fill="#2030ff"/>
<rect x="596.7" y="154.2" width="0.6" height="0.6" fill="#1020d0"/>
<rect x="593.7" y="140.7" width="0.6" height="0.6" fill="#6070f0"/>
<rect x="582.0" y="155.5" width="0.6" height="0.6" fill="#1020d0"/>
<rect x="572.0" y="162.1" width="0.6" height="0.6" fill="#6070f0"/>
<rect x="593.7" y="156.2" width="0.6" height="0.6" fill="#2030ff"/>
<rect x="581.9" y="155.3" width="0.6" height="0.6" fill="#6070f0"/>
<rect x="593.1" y="157.2" width="0.6" height="0.6" fill="#1020d0"/>
<rect x="617.0" y="153.1" width="0.6" height="0.6" fill="#6070f0"/>
<rect x="587.3" y="159.6" width="0.6" height="0.6" fill="#3a48f0"/>
<rect x="589.7" y="156.7" width="0.6" height="0.6" fill="#3a48f0"/>
<rect x="588.7" y="163.5" width="0.6" height="0.6" fill="#6070f0"/>
<rect x="575.9" y="156.9" width="0.6" height="0.6" fill="#3a48f0"/>
<rect x="575.5" y="151.8" width="0.6" height="0.6" fill="#1020d0"/>
<rect x="598.2" y="159.1" width="0.6" height="0.6" fill="#2030ff"/>
<rect x="614.4" y="158.3" width="0.6" height="0.6" fill="#2030ff"/>
<rect x="601.0" y="154.4" width="0.6" height="0.6" fill="#2030ff"/>
<rect x="585.4" y="157.0" width="0.6" height="0.6" fill="#1020d0"/>
<rect x="578.3" y="163.2" width="0.6" height="0.6" fill="#2030ff"/>
<rect x="589.5" y="146.4" width="0.6" height="0.6" fill="#1020d0"/>
<rect x="590.5" y="153.7" width="0.6" height="0.6" fill="#3a48f0"/>
<rect x="570.7" y="164.7" width="0.6" height="0.6" fill="#6070f0"/>
<rect x="590.4" y="141.7" width="0.6" height="0.6" fill="#2030ff"/>
<rect x="590.2" y="144.8" width="0.6" height="0.6" fill="#2030ff"/>
<rect x="580.3" y="150.7" width="0.6" height="0.6" fill="#2030ff"/>
<rect x="575.1" y="158.7" width="0.6" height="0.6" fill="#6070f0"/>
<rect x="570.2" y="161.6" width="0.6" height="0.6" fill="#3a48f0"/>
<rect x="559.5" y="161.5" width="0.6" height="0.6" fill="#6070f0"/>
<rect x="611.1" y="151.2" width="0.6" height="0.6" fill="#6070f0"/>
<rect x="583.0" y="156.4" width="0.6" height="0.6" fill="#2030ff"/>
<rect x="570.8" y="158.8" width="0.6" height="0.6" fill="#2030ff"/>
<rect x="606.2" y="159.9" width="0.6" height="0.6" fill="#6070f0"/>
<rect x="603.0" y="159.4" width="0.6" height="0.6" fill="#2030ff"/>
<rect x="603.9" y="154.9" width="0.6" height="0.6" fill="#6070f0"/>
<rect x="606.1" y="129.7" width="0.6" height="0.6" fill="#1020d0"/>
<rect x="607.3" y="130.1" width="0.6" height="0.6" fill="#1020d0"/>
<rect x="599.6" y="139.2" width="0.6" height="0.6" fill="#3a48f0"/>
<rect x="613.6" y="129.4" width="0.6" height="0.6" fill="#6070f0"/>
<rect x="592.6" y="130.8" width="0.6" height="0.6" fill="#1020d0"/>
<rect x="604.8" y="143.0" width="0.6" height="0.6" fill="#1020d0"/>
<rect x="619.0" y="132.4" width="0.6" height="0.6" fill="#1020d0"/>
<rect x="600.1" y="143.2" width="0.6" height="0.6" fill="#3a48f0"/>
<rect x="600.0" y="144.1" width="0.6" height="0.6" fill="#1020d0"/>
<rect x="600.9" y="134.4" width="0.6" height="0.6" fill="#3a48f0"/>
<rect x="618.5" y="152.2" width="0.6" height="0.6" fill="#3a48f0"/>
<rect x="602.6" y="123.1" width="0.6" height="0.6" fill="#1020d0"/>
<rect x="605.0" y="124.0" width="0.6" height="0.6" fill="#3a48f0"/>
<rect x="609.0" y="139.1" width="0.6" height="0.6" fill="#3a48f0"/>
<rect x="618.2" y="145.7" width="0.6" height="0.6" fill="#3a48f0"/>
<rect x="615.8" y="129.2" width="0.6" height="0.6" fill="#1020d0"/>
<rect x="603.7" y="142.3" width="0.6" height="0.6" fill="#3a48f0"/>
<rect x="613.0" y="152.8" width="0.6" height="0.6" fill="#3a48f0"/>
<rect x="613.0" y="135.0" width="0.6" height="0.6" fill="#3a48f0"/>
<rect x="600.9" y="131.8" width="0.6" height="0.6" fill="#1020d0"/>
<rect x="612.7" y="154.4" width="0.6" height="0.6" fill="#6070f0"/>
<rect x="607.1" y="136.0" width="0.6" height="0.6" fill="#1020d0"/>
<rect x="609.4" y="144.8" width="0.6" height="0.6" fill="#1020d0"/>
<rect x="615.6" y="145.7" width="0.6" height="0.6" fill="#1020d0"/>
<rect x="600.7" y="133.2" width="0.6" height="0.6" fill="#2030ff"/>
<rect x="605.9" y="137.7" width="0.6" height="0.6" fill="#6070f0"/>
<rect x="609.8" y="146.1" width="0.6" height="0.6" fill="#2030ff"/>
<rect x="603.5" y="136.1" width="0.6" height="0.6" fill="#1020d0"/>
<rect x="595.0" y="142.7" width="0.6" height="0.6" fill="#3a48f0"/>
<rect x="619.9" y="140.3" width="0.6" height="0.6" fill="#3a48f0"/>
<rect x="588.6" y="127.7" width="0.6" height="0.6" fill="#3a48f0"/>
<rect x="595.1" y="154.9" width="0.6" height="0.6" fill="#2030ff"/>
<rect x="606.9" y="137.2" width="0.6" height="0.6" fill="#6070f0"/>
<rect x="598.6" y="141.0" width="0.6" height="0.6" fill="#6070f0"/>
<rect x="586.0" y="154.1" width="0.6" height="0.6" fill="#3a48f0"/>
<rect x="608.6" y="135.5" width="0.6" height="0.6" fill="#2030ff"/>
<rect x="605.2" y="128.5" width="0.6" height="0.6" fill="#6070f0"/>
<rect x="604.4" y="129.1" width="0.6" height="0.6" fill="#3a48f0"/>
<rect x="602.2" y="146.1" width="0.6" height="0.6" fill="#1020d0"/>
<rect x="603.7" y="148.7" width="0.6" height="0.6" fill="#6070f0"/>
<rect x="611.8" y="142.4" width="0.6" height="0.6" fill="#6070f0"/>
<rect x="606.8" y="133.2" width="0.6" height="0.6" fill="#2030ff"/>
<rect x="613.3" y="133.4" width="0.6" height="0.6" fill="#6070f0"/>
<rect x="612.1" y="155.3" width="0.6" height="0.6" fill="#6070f0"/>
<rect x="602.9" y="129.5" width="0.6" height="0.6" fill="#3a48f0"/>
<rect x="600.1" y="136.1" width="0.6" height="0.6" fill="#2030ff"/>
<rect x="580.1" y="145.4" width="0.6" height="0.6" fill="#6070f0"/>
<rect x="601.1" y="142.4" width="0.6" height="0.6" fill="#6070f0"/>
<rect x="615.5" y="138.8" width="0.6" height="0.6" fill="#3a48f0"/>
<rect x="590.7" y="139.2" width="0.6" height="0.6" fill="#6070f0"/>
<rect x="587.6" y="144.0" width="0.6" height="0.6" fill="#2030ff"/>
<rect x="600.2" y="127.2" width="0.6" height="0.6" fill="#2030ff"/>
<rect x="604.0" y="140.7" width="0.6" height="0.6" fill="#6070f0"/>
<rect x="610.4" y="125.8" width="0.6" height="0.6" fill="#6070f0"/>
<rect x="611.0" y="128.4" width="0.6" height="0.6" fill="#1020d0"/>
<rect x="603.8" y="128.3" width="0.6" height="0.6" fill="#6070f0"/>
<rect x="606.0" y="129.3" width="0.6" height="0.6" fill="#6070f0"/>
<rect x="595.4" y="143.5" width="0.6" height="0.6" fill="#3a48f0"/>
<rect x="613.2" y="124.7" width="0.6" height="0.6" fill="#2030ff"/>
<rect x="600.3" y="148.5" width="0.6" height="0.6" fill="#1020d0"/>
<radialGradient id="sg6"><stop offset="0" stop-color="#90e030" stop-opacity="1"/><stop offset="0.08" stop-color="#50d870" stop-opacity="1"/><stop offset="0.2" stop-color="#10c0d0" stop-opacity="1"/><stop offset="0.34" stop-color="#0888ff" stop-opacity="1"/><stop offset="0.5" stop-color="#1440ff" stop-opacity="1"/><stop offset="0.7" stop-color="#2238ff" stop-opacity="0.8"/><stop offset="0.88" stop-color="#4a5aff" stop-opacity="0.35"/><stop offset="1" stop-color="#6070ff" stop-opacity="0"/></radialGradient>
<ellipse cx="584.5" cy="159.2" rx="21" ry="10.8" transform="rotate(-12 584.5 159.2)" fill="url(#sg6)"/>
</g>
<line x1="592.30" y1="124.50" x2="592.30" y2="176.90" stroke="#808080" stroke-width="0.7"/>
<line x1="565.70" y1="149.30" x2="620.90" y2="149.30" stroke="#808080" stroke-width="0.7"/>
<rect x="565.70" y="124.50" width="55.20" height="52.40" fill="none" stroke="#777" stroke-width="0.6"/>
<text x="566.50" y="127.40" font-size="2.3" textLength="17.4" lengthAdjust="spacingAndGlyphs" fill="#222" stroke="#222" stroke-width="0.2">Q1-UL(1.36%)</text>
<text x="600.00" y="127.40" font-size="2.3" textLength="17.4" lengthAdjust="spacingAndGlyphs" fill="#222" stroke="#222" stroke-width="0.2">Q1-UR(2.51%)</text>
<text x="566.50" y="175.30" font-size="2.3" textLength="18.849999999999998" lengthAdjust="spacingAndGlyphs" fill="#222" stroke="#222" stroke-width="0.2">Q1-LL(78.81%)</text>
<text x="601.00" y="175.30" font-size="2.3" textLength="18.849999999999998" lengthAdjust="spacingAndGlyphs" fill="#222" stroke="#222" stroke-width="0.2">Q1-LR(16.23%)</text>
<line x1="564.70" y1="127.50" x2="565.70" y2="127.50" stroke="#555" stroke-width="0.4"/>
<text x="562.30" y="128.30" font-size="2.2" textLength="2.0" lengthAdjust="spacingAndGlyphs" fill="#333" stroke="#333" stroke-width="0.18">10</text>
<line x1="564.70" y1="142.00" x2="565.70" y2="142.00" stroke="#555" stroke-width="0.4"/>
<text x="562.30" y="142.80" font-size="2.2" textLength="2.0" lengthAdjust="spacingAndGlyphs" fill="#333" stroke="#333" stroke-width="0.18">10</text>
<line x1="564.70" y1="156.50" x2="565.70" y2="156.50" stroke="#555" stroke-width="0.4"/>
<text x="562.30" y="157.30" font-size="2.2" textLength="2.0" lengthAdjust="spacingAndGlyphs" fill="#333" stroke="#333" stroke-width="0.18">10</text>
<line x1="564.70" y1="171.00" x2="565.70" y2="171.00" stroke="#555" stroke-width="0.4"/>
<text x="562.30" y="171.80" font-size="2.2" textLength="2.0" lengthAdjust="spacingAndGlyphs" fill="#333" stroke="#333" stroke-width="0.18">10</text>
<line x1="568.70" y1="176.90" x2="568.70" y2="177.90" stroke="#555" stroke-width="0.4"/>
<text x="567.70" y="180.50" font-size="2.2" textLength="2.0" lengthAdjust="spacingAndGlyphs" fill="#333" stroke="#333" stroke-width="0.18">10</text>
<line x1="580.41" y1="176.90" x2="580.41" y2="177.90" stroke="#555" stroke-width="0.4"/>
<text x="579.41" y="180.50" font-size="2.2" textLength="2.0" lengthAdjust="spacingAndGlyphs" fill="#333" stroke="#333" stroke-width="0.18">10</text>
<line x1="592.13" y1="176.90" x2="592.13" y2="177.90" stroke="#555" stroke-width="0.4"/>
<text x="591.13" y="180.50" font-size="2.2" textLength="2.0" lengthAdjust="spacingAndGlyphs" fill="#333" stroke="#333" stroke-width="0.18">10</text>
<line x1="603.84" y1="176.90" x2="603.84" y2="177.90" stroke="#555" stroke-width="0.4"/>
<text x="602.84" y="180.50" font-size="2.2" textLength="2.0" lengthAdjust="spacingAndGlyphs" fill="#333" stroke="#333" stroke-width="0.18">10</text>
<line x1="615.56" y1="176.90" x2="615.56" y2="177.90" stroke="#555" stroke-width="0.4"/>
<text x="614.56" y="180.50" font-size="2.2" textLength="2.0" lengthAdjust="spacingAndGlyphs" fill="#333" stroke="#333" stroke-width="0.18">10</text>
<text x="672.00" y="10.20" font-size="10.5" text-anchor="start" font-weight="normal" fill="#111" stroke="#111" stroke-width="0.2" >Early apoptosis</text>
<line x1="663.00" y1="88.50" x2="734.80" y2="88.50" stroke="#111" stroke-width="1.0"/>
<line x1="663.50" y1="89.00" x2="663.50" y2="17.30" stroke="#111" stroke-width="1.0"/>
<line x1="660.90" y1="88.80" x2="663.50" y2="88.80" stroke="#111" stroke-width="1.0"/>
<text x="659.70" y="91.70" font-size="8.3" text-anchor="end" font-weight="normal" fill="#111" stroke="#111" stroke-width="0.2" >0</text>
<line x1="660.90" y1="74.60" x2="663.50" y2="74.60" stroke="#111" stroke-width="1.0"/>
<text x="659.70" y="77.50" font-size="8.3" text-anchor="end" font-weight="normal" fill="#111" stroke="#111" stroke-width="0.2" >5</text>
<line x1="660.90" y1="60.40" x2="663.50" y2="60.40" stroke="#111" stroke-width="1.0"/>
<text x="659.70" y="63.30" font-size="8.3" text-anchor="end" font-weight="normal" fill="#111" stroke="#111" stroke-width="0.2" >10</text>
<line x1="660.90" y1="46.20" x2="663.50" y2="46.20" stroke="#111" stroke-width="1.0"/>
<text x="659.70" y="49.11" font-size="8.3" text-anchor="end" font-weight="normal" fill="#111" stroke="#111" stroke-width="0.2" >15</text>
<line x1="660.90" y1="32.00" x2="663.50" y2="32.00" stroke="#111" stroke-width="1.0"/>
<text x="659.70" y="34.91" font-size="8.3" text-anchor="end" font-weight="normal" fill="#111" stroke="#111" stroke-width="0.2" >20</text>
<line x1="660.90" y1="17.80" x2="663.50" y2="17.80" stroke="#111" stroke-width="1.0"/>
<text x="659.70" y="20.70" font-size="8.3" text-anchor="end" font-weight="normal" fill="#111" stroke="#111" stroke-width="0.2" >25</text>
<line x1="673.25" y1="73.75" x2="673.25" y2="69.49" stroke="#111" stroke-width="0.9"/>
<line x1="671.15" y1="69.49" x2="675.35" y2="69.49" stroke="#111" stroke-width="0.9"/>
<rect x="669.35" y="74.20" width="7.80" height="13.80" fill="#ff0000" stroke="#111" stroke-width="0.9"/>
<line x1="687.40" y1="26.32" x2="687.40" y2="23.76" stroke="#111" stroke-width="0.9"/>
<line x1="685.30" y1="23.76" x2="689.50" y2="23.76" stroke="#111" stroke-width="0.9"/>
<rect x="683.55" y="26.77" width="7.70" height="61.23" fill="#ff0000" stroke="#111" stroke-width="0.9"/>
<text x="687.40" y="24.72" font-size="8.4" text-anchor="middle" font-weight="normal" fill="#111" stroke="#111" stroke-width="0.2" >***</text>
<line x1="710.95" y1="82.84" x2="710.95" y2="81.98" stroke="#111" stroke-width="0.9"/>
<line x1="708.85" y1="81.98" x2="713.05" y2="81.98" stroke="#111" stroke-width="0.9"/>
<rect x="706.95" y="83.29" width="8.00" height="4.71" fill="#0000ff" stroke="#111" stroke-width="0.9"/>
<line x1="725.10" y1="36.54" x2="725.10" y2="33.42" stroke="#111" stroke-width="0.9"/>
<line x1="723.00" y1="33.42" x2="727.20" y2="33.42" stroke="#111" stroke-width="0.9"/>
<rect x="721.05" y="36.99" width="8.10" height="51.01" fill="#0000ff" stroke="#111" stroke-width="0.9"/>
<text x="725.10" y="34.38" font-size="8.4" text-anchor="middle" font-weight="normal" fill="#111" stroke="#111" stroke-width="0.2" >***</text>
<line x1="673.00" y1="89.30" x2="673.00" y2="91.30" stroke="#111" stroke-width="0.8"/>
<text x="673.00" y="100.60" font-size="8.0" text-anchor="middle" font-weight="normal" fill="#111" stroke="#111" stroke-width="0.2" >0</text>
<line x1="687.40" y1="89.30" x2="687.40" y2="91.30" stroke="#111" stroke-width="0.8"/>
<text x="687.40" y="100.60" font-size="8.0" text-anchor="middle" font-weight="normal" fill="#111" stroke="#111" stroke-width="0.2" >10</text>
<line x1="710.80" y1="89.30" x2="710.80" y2="91.30" stroke="#111" stroke-width="0.8"/>
<text x="710.80" y="100.60" font-size="8.0" text-anchor="middle" font-weight="normal" fill="#111" stroke="#111" stroke-width="0.2" >0</text>
<line x1="725.00" y1="89.30" x2="725.00" y2="91.30" stroke="#111" stroke-width="0.8"/>
<text x="725.00" y="100.60" font-size="8.0" text-anchor="middle" font-weight="normal" fill="#111" stroke="#111" stroke-width="0.2" >10</text>
<text x="743.80" y="97.70" font-size="8.0" text-anchor="start" font-weight="normal" fill="#111" stroke="#111" stroke-width="0.2" >μM</text>
<text transform="translate(646.30,51.20) rotate(-90)" x="0" y="0" font-size="8.9" text-anchor="middle" fill="#111" stroke="#111" stroke-width="0.2">Apoptosis cell (%)</text>
<rect x="743.40" y="22.00" width="6.30" height="4.80" fill="#ff0000" stroke="#111" stroke-width="0.8"/>
<rect x="743.40" y="33.70" width="6.30" height="4.80" fill="#0000ff" stroke="#111" stroke-width="0.8"/>
<text x="754.60" y="26.90" font-size="8.1" text-anchor="start" font-weight="normal" fill="#111" stroke="#111" stroke-width="0.2" >MIA PaCa-2</text>
<text x="754.60" y="38.70" font-size="7.9" text-anchor="start" font-weight="normal" fill="#111" stroke="#111" stroke-width="0.2" >PANC-1</text>
<text x="672.60" y="113.80" font-size="10.4" text-anchor="start" font-weight="normal" fill="#111" stroke="#111" stroke-width="0.2" >Total apoptosis</text>
<line x1="664.00" y1="192.50" x2="736.70" y2="192.50" stroke="#111" stroke-width="1.0"/>
<line x1="664.50" y1="193.00" x2="664.50" y2="120.79" stroke="#111" stroke-width="1.0"/>
<line x1="661.90" y1="192.60" x2="664.50" y2="192.60" stroke="#111" stroke-width="1.0"/>
<text x="660.70" y="195.54" font-size="8.4" text-anchor="end" font-weight="normal" fill="#111" stroke="#111" stroke-width="0.2" >0</text>
<line x1="661.90" y1="168.83" x2="664.50" y2="168.83" stroke="#111" stroke-width="1.0"/>
<text x="660.70" y="171.77" font-size="8.4" text-anchor="end" font-weight="normal" fill="#111" stroke="#111" stroke-width="0.2" >10</text>
<line x1="661.90" y1="145.06" x2="664.50" y2="145.06" stroke="#111" stroke-width="1.0"/>
<text x="660.70" y="148.00" font-size="8.4" text-anchor="end" font-weight="normal" fill="#111" stroke="#111" stroke-width="0.2" >20</text>
<line x1="661.90" y1="121.29" x2="664.50" y2="121.29" stroke="#111" stroke-width="1.0"/>
<text x="660.70" y="124.23" font-size="8.4" text-anchor="end" font-weight="normal" fill="#111" stroke="#111" stroke-width="0.2" >30</text>
<line x1="676.30" y1="176.44" x2="676.30" y2="173.58" stroke="#111" stroke-width="0.9"/>
<line x1="674.00" y1="173.58" x2="678.60" y2="173.58" stroke="#111" stroke-width="0.9"/>
<rect x="672.65" y="176.89" width="7.30" height="15.11" fill="#ff0000" stroke="#111" stroke-width="0.9"/>
<line x1="689.60" y1="131.27" x2="689.60" y2="125.57" stroke="#111" stroke-width="0.9"/>
<line x1="687.30" y1="125.57" x2="691.90" y2="125.57" stroke="#111" stroke-width="0.9"/>
<rect x="685.85" y="131.72" width="7.50" height="60.28" fill="#ff0000" stroke="#111" stroke-width="0.9"/>
<text x="689.60" y="125.89" font-size="8.6" text-anchor="middle" font-weight="normal" fill="#111" stroke="#111" stroke-width="0.2" >**</text>
<line x1="712.10" y1="186.18" x2="712.10" y2="183.09" stroke="#111" stroke-width="0.9"/>
<line x1="709.80" y1="183.09" x2="714.40" y2="183.09" stroke="#111" stroke-width="0.9"/>
<rect x="708.45" y="186.63" width="7.30" height="5.37" fill="#0000ff" stroke="#111" stroke-width="0.9"/>
<line x1="725.85" y1="150.05" x2="725.85" y2="145.30" stroke="#111" stroke-width="0.9"/>
<line x1="723.55" y1="145.30" x2="728.15" y2="145.30" stroke="#111" stroke-width="0.9"/>
<rect x="722.15" y="150.50" width="7.40" height="41.50" fill="#0000ff" stroke="#111" stroke-width="0.9"/>
<text x="725.85" y="145.62" font-size="8.6" text-anchor="middle" font-weight="normal" fill="#111" stroke="#111" stroke-width="0.2" >**</text>
<line x1="676.30" y1="192.60" x2="676.30" y2="194.60" stroke="#111" stroke-width="0.8"/>
<text x="676.20" y="204.80" font-size="8.0" text-anchor="middle" font-weight="normal" fill="#111" stroke="#111" stroke-width="0.2" >0</text>
<line x1="689.60" y1="192.60" x2="689.60" y2="194.60" stroke="#111" stroke-width="0.8"/>
<text x="690.40" y="204.80" font-size="8.0" text-anchor="middle" font-weight="normal" fill="#111" stroke="#111" stroke-width="0.2" >10</text>
<line x1="712.10" y1="192.60" x2="712.10" y2="194.60" stroke="#111" stroke-width="0.8"/>
<text x="712.10" y="204.80" font-size="8.0" text-anchor="middle" font-weight="normal" fill="#111" stroke="#111" stroke-width="0.2" >0</text>
<line x1="725.80" y1="192.60" x2="725.80" y2="194.60" stroke="#111" stroke-width="0.8"/>
<text x="727.40" y="204.80" font-size="8.0" text-anchor="middle" font-weight="normal" fill="#111" stroke="#111" stroke-width="0.2" >10</text>
<text x="744.30" y="204.20" font-size="8.0" text-anchor="start" font-weight="normal" fill="#111" stroke="#111" stroke-width="0.2" >μM</text>
<text transform="translate(648.60,153.70) rotate(-90)" x="0" y="0" font-size="8.6" text-anchor="middle" fill="#111" stroke="#111" stroke-width="0.2">Apoptosis cell (%)</text>
<rect x="742.20" y="122.40" width="7.00" height="5.00" fill="#ff0000" stroke="#111" stroke-width="0.8"/>
<rect x="742.20" y="133.30" width="7.00" height="5.40" fill="#0000ff" stroke="#111" stroke-width="0.8"/>
<text x="753.50" y="127.90" font-size="7.9" text-anchor="start" font-weight="normal" fill="#111" stroke="#111" stroke-width="0.2" >MIA PaCa-2</text>
<text x="753.50" y="138.80" font-size="7.7" text-anchor="start" font-weight="normal" fill="#111" stroke="#111" stroke-width="0.2" >PANC-1</text>
<text x="10.40" y="256.60" font-size="21" text-anchor="start" font-weight="bold" fill="#000" stroke="#000" stroke-width="0" >B</text>
<text x="2.40" y="306.80" font-size="11.0" text-anchor="start" font-weight="normal" fill="#111" stroke="#111" stroke-width="0.2" >Alizarin</text>
<rect x="43.40" y="291.30" width="158.10" height="2.10" fill="#000" stroke="none" stroke-width="0"/>
<rect x="211.80" y="291.30" width="159.00" height="2.10" fill="#000" stroke="none" stroke-width="0"/>
<text x="125.65" y="287.80" font-size="11.4" text-anchor="middle" font-weight="normal" fill="#111" stroke="#111" stroke-width="0.2" >MIA PaCa-2</text>
<text x="288.55" y="287.80" font-size="11.5" text-anchor="middle" font-weight="normal" fill="#111" stroke="#111" stroke-width="0.2" >PANC-1</text>
<text x="71.30" y="306.80" font-size="9.2" text-anchor="start" font-weight="normal" fill="#111" stroke="#111" stroke-width="0.2" >0μM</text>
<text x="149.20" y="306.80" font-size="9.3" text-anchor="start" font-weight="normal" fill="#111" stroke="#111" stroke-width="0.2" >10 μM</text>
<text x="240.50" y="306.80" font-size="9.2" text-anchor="start" font-weight="normal" fill="#111" stroke="#111" stroke-width="0.2" >0μM</text>
<text x="318.70" y="306.80" font-size="9.3" text-anchor="start" font-weight="normal" fill="#111" stroke="#111" stroke-width="0.2" >10 μM</text>
<defs><radialGradient id="gbl"><stop offset="0" stop-color="#1e32f8"/><stop offset="0.6" stop-color="#1424ec"/><stop offset="0.85" stop-color="#0c18bc"/><stop offset="1" stop-color="#060e68"/></radialGradient><radialGradient id="gdm"><stop offset="0" stop-color="#1620c8"/><stop offset="0.6" stop-color="#0e18a8"/><stop offset="1" stop-color="#050a48"/></radialGradient><radialGradient id="gcy"><stop offset="0" stop-color="#70e0ff"/><stop offset="0.4" stop-color="#2a80ff"/><stop offset="1" stop-color="#1424e0"/></radialGradient></defs>
<clipPath id="cimg21"><rect x="40.8" y="313.2" width="79.0" height="55.1"/></clipPath>
<rect x="40.80" y="313.20" width="79.00" height="55.10" fill="#02021c" stroke="none" stroke-width="0"/>
<g clip-path="url(#cimg21)">
<circle cx="53.2" cy="351.6" r="2.04" fill="url(#gbl)"/>
<circle cx="78.6" cy="324.5" r="2.15" fill="url(#gbl)"/>
<circle cx="105.2" cy="341.5" r="1.95" fill="url(#gbl)"/>
<circle cx="58.9" cy="312.4" r="1.86" fill="url(#gbl)"/>
<circle cx="87.2" cy="316.2" r="2.16" fill="url(#gdm)"/>
<circle cx="58.6" cy="325.5" r="1.63" fill="url(#gbl)"/>
<circle cx="120.6" cy="354.4" r="2.21" fill="url(#gbl)"/>
<circle cx="80.1" cy="318.8" r="2.27" fill="url(#gbl)"/>
<circle cx="69.6" cy="321.0" r="2.17" fill="url(#gbl)"/>
<circle cx="49.9" cy="365.2" r="1.92" fill="url(#gbl)"/>
<circle cx="84.5" cy="331.8" r="1.94" fill="url(#gbl)"/>
<circle cx="54.9" cy="314.3" r="2.21" fill="url(#gbl)"/>
<circle cx="58.8" cy="356.8" r="1.75" fill="url(#gbl)"/>
<circle cx="118.3" cy="363.2" r="2.13" fill="url(#gbl)"/>
<circle cx="101.6" cy="345.4" r="2.11" fill="url(#gbl)"/>
<circle cx="49.7" cy="339.4" r="2.18" fill="url(#gbl)"/>
<circle cx="56.1" cy="364.9" r="2.22" fill="url(#gbl)"/>
<circle cx="73.0" cy="333.1" r="1.92" fill="url(#gbl)"/>
<circle cx="71.0" cy="369.0" r="1.87" fill="url(#gbl)"/>
<circle cx="42.0" cy="317.5" r="2.10" fill="url(#gbl)"/>
<circle cx="120.2" cy="340.5" r="1.94" fill="url(#gbl)"/>
<circle cx="84.4" cy="354.9" r="1.76" fill="url(#gbl)"/>
<circle cx="89.1" cy="344.0" r="2.04" fill="url(#gbl)"/>
<circle cx="54.4" cy="321.9" r="1.84" fill="url(#gbl)"/>
<circle cx="114.9" cy="332.0" r="2.02" fill="url(#gbl)"/>
<circle cx="64.6" cy="318.1" r="1.65" fill="url(#gbl)"/>
<circle cx="105.7" cy="356.6" r="1.86" fill="url(#gbl)"/>
<circle cx="95.2" cy="350.8" r="2.23" fill="url(#gbl)"/>
<circle cx="117.4" cy="335.4" r="2.29" fill="url(#gbl)"/>
<circle cx="117.7" cy="345.9" r="2.22" fill="url(#gbl)"/>
<circle cx="79.6" cy="333.6" r="1.77" fill="url(#gbl)"/>
<circle cx="110.8" cy="321.5" r="1.65" fill="url(#gbl)"/>
<circle cx="107.6" cy="315.2" r="1.78" fill="url(#gbl)"/>
<circle cx="63.3" cy="336.2" r="1.72" fill="url(#gbl)"/>
<circle cx="45.4" cy="331.5" r="2.23" fill="url(#gbl)"/>
<circle cx="60.2" cy="367.0" r="1.97" fill="url(#gbl)"/>
<circle cx="98.8" cy="313.8" r="1.75" fill="url(#gbl)"/>
<circle cx="88.5" cy="336.5" r="2.01" fill="url(#gbl)"/>
<circle cx="108.6" cy="329.8" r="1.97" fill="url(#gbl)"/>
<circle cx="62.2" cy="356.1" r="1.61" fill="url(#gbl)"/>
<circle cx="95.3" cy="366.7" r="1.62" fill="url(#gbl)"/>
<circle cx="87.9" cy="349.0" r="2.20" fill="url(#gbl)"/>
<circle cx="87.1" cy="326.9" r="1.88" fill="url(#gbl)"/>
<circle cx="47.5" cy="317.6" r="1.62" fill="url(#gbl)"/>
<circle cx="76.0" cy="320.2" r="2.21" fill="url(#gdm)"/>
<circle cx="92.9" cy="319.4" r="1.98" fill="url(#gbl)"/>
<circle cx="66.1" cy="340.4" r="1.75" fill="url(#gbl)"/>
<circle cx="97.3" cy="343.6" r="1.63" fill="url(#gbl)"/>
<circle cx="97.4" cy="362.1" r="2.14" fill="url(#gbl)"/>
<circle cx="103.8" cy="312.6" r="1.92" fill="url(#gbl)"/>
<circle cx="44.9" cy="355.8" r="1.72" fill="url(#gbl)"/>
<circle cx="97.4" cy="326.6" r="2.09" fill="url(#gbl)"/>
<circle cx="65.2" cy="314.6" r="1.87" fill="url(#gbl)"/>
<circle cx="64.9" cy="363.6" r="1.81" fill="url(#gbl)"/>
<circle cx="80.6" cy="343.6" r="2.26" fill="url(#gbl)"/>
<circle cx="47.8" cy="346.5" r="1.96" fill="url(#gbl)"/>
<circle cx="99.3" cy="367.4" r="1.82" fill="url(#gbl)"/>
<circle cx="68.6" cy="330.4" r="2.30" fill="url(#gbl)"/>
<circle cx="90.1" cy="313.3" r="2.05" fill="url(#gbl)"/>
<circle cx="75.7" cy="341.7" r="1.87" fill="url(#gbl)"/>
<circle cx="72.3" cy="325.1" r="1.63" fill="url(#gbl)"/>
<circle cx="59.0" cy="334.2" r="1.94" fill="url(#gbl)"/>
<circle cx="91.0" cy="367.2" r="1.66" fill="url(#gbl)"/>
<circle cx="111.9" cy="356.7" r="2.04" fill="url(#gbl)"/>
<circle cx="101.2" cy="350.3" r="2.20" fill="url(#gbl)"/>
<circle cx="106.6" cy="367.2" r="2.29" fill="url(#gbl)"/>
<circle cx="40.3" cy="330.1" r="1.82" fill="url(#gbl)"/>
<circle cx="99.9" cy="338.6" r="1.68" fill="url(#gbl)"/>
<circle cx="117.2" cy="352.4" r="1.74" fill="url(#gbl)"/>
<circle cx="67.0" cy="348.8" r="2.08" fill="url(#gbl)"/>
<circle cx="60.4" cy="360.5" r="1.71" fill="url(#gbl)"/>
<circle cx="95.0" cy="323.6" r="2.02" fill="url(#gbl)"/>
<circle cx="77.6" cy="337.1" r="2.03" fill="url(#gbl)"/>
<circle cx="62.5" cy="322.2" r="1.87" fill="url(#gbl)"/>
<circle cx="43.0" cy="346.9" r="2.09" fill="url(#gbl)"/>
<circle cx="43.8" cy="322.9" r="1.88" fill="url(#gbl)"/>
<circle cx="104.6" cy="331.5" r="1.79" fill="url(#gbl)"/>
<circle cx="111.9" cy="316.3" r="1.65" fill="url(#gbl)"/>
<circle cx="81.3" cy="350.9" r="1.73" fill="url(#gbl)"/>
<circle cx="61.7" cy="315.6" r="1.63" fill="url(#gbl)"/>
<circle cx="52.6" cy="318.1" r="2.25" fill="url(#gbl)"/>
<circle cx="83.4" cy="335.5" r="2.08" fill="url(#gbl)"/>
<circle cx="106.8" cy="324.4" r="1.63" fill="url(#gbl)"/>
<circle cx="52.9" cy="360.8" r="2.16" fill="url(#gbl)"/>
<circle cx="113.2" cy="351.0" r="1.75" fill="url(#gbl)"/>
<circle cx="102.8" cy="363.7" r="1.97" fill="url(#gbl)"/>
<circle cx="113.4" cy="367.6" r="1.87" fill="url(#gbl)"/>
<circle cx="89.0" cy="355.3" r="2.05" fill="url(#gbl)"/>
<circle cx="111.3" cy="332.9" r="1.66" fill="url(#gbl)"/>
<circle cx="42.0" cy="336.4" r="2.01" fill="url(#gbl)"/>
<circle cx="112.3" cy="341.5" r="1.69" fill="url(#gbl)"/>
<circle cx="102.2" cy="355.1" r="2.06" fill="url(#gbl)"/>
<circle cx="77.0" cy="314.2" r="2.18" fill="url(#gbl)"/>
<circle cx="71.7" cy="312.4" r="2.07" fill="url(#gbl)"/>
<circle cx="69.8" cy="359.4" r="1.95" fill="url(#gbl)"/>
<circle cx="100.7" cy="333.6" r="1.78" fill="url(#gbl)"/>
<circle cx="56.6" cy="340.6" r="2.10" fill="url(#gbl)"/>
<circle cx="57.4" cy="351.4" r="1.83" fill="url(#gbl)"/>
<circle cx="92.4" cy="333.2" r="1.74" fill="url(#gbl)"/>
<circle cx="57.7" cy="345.7" r="2.01" fill="url(#gbl)"/>
<circle cx="57.7" cy="318.6" r="1.97" fill="url(#gbl)"/>
<circle cx="49.2" cy="335.3" r="2.13" fill="url(#gdm)"/>
<circle cx="46.7" cy="326.0" r="2.02" fill="url(#gbl)"/>
<circle cx="42.6" cy="340.7" r="2.22" fill="url(#gbl)"/>
<circle cx="53.1" cy="331.7" r="2.06" fill="url(#gbl)"/>
<circle cx="66.1" cy="357.5" r="2.13" fill="url(#gbl)"/>
<circle cx="93.4" cy="337.5" r="1.76" fill="url(#gbl)"/>
<circle cx="79.8" cy="329.6" r="1.83" fill="url(#gbl)"/>
<circle cx="62.5" cy="346.1" r="2.18" fill="url(#gbl)"/>
<circle cx="112.0" cy="360.5" r="1.70" fill="url(#gbl)"/>
<circle cx="94.8" cy="356.3" r="2.07" fill="url(#gbl)"/>
<circle cx="120.5" cy="330.9" r="1.87" fill="url(#gbl)"/>
<circle cx="118.9" cy="321.8" r="1.88" fill="url(#gbl)"/>
<circle cx="90.5" cy="327.8" r="1.79" fill="url(#gbl)"/>
<circle cx="50.9" cy="312.4" r="1.66" fill="url(#gbl)"/>
<circle cx="76.6" cy="355.8" r="1.63" fill="url(#gbl)"/>
<circle cx="67.8" cy="324.4" r="1.62" fill="url(#gbl)"/>
<circle cx="84.7" cy="360.7" r="2.19" fill="url(#gbl)"/>
<circle cx="120.5" cy="317.0" r="2.28" fill="url(#gbl)"/>
<circle cx="114.2" cy="338.5" r="2.08" fill="url(#gbl)"/>
<circle cx="103.3" cy="322.9" r="2.03" fill="url(#gbl)"/>
<circle cx="49.6" cy="358.1" r="2.11" fill="url(#gbl)"/>
<circle cx="72.1" cy="337.4" r="2.12" fill="url(#gdm)"/>
<circle cx="95.4" cy="330.2" r="2.03" fill="url(#gbl)"/>
<circle cx="83.1" cy="326.4" r="1.78" fill="url(#gbl)"/>
<circle cx="109.9" cy="348.9" r="2.04" fill="url(#gbl)"/>
<circle cx="73.8" cy="351.2" r="2.07" fill="url(#gbl)"/>
<circle cx="60.9" cy="351.7" r="1.90" fill="url(#gbl)"/>
<circle cx="67.4" cy="336.6" r="1.64" fill="url(#gbl)"/>
<circle cx="78.8" cy="361.3" r="2.02" fill="url(#gbl)"/>
</g>
<clipPath id="cimg22"><rect x="122.8" y="313.2" width="79.2" height="55.1"/></clipPath>
<rect x="122.80" y="313.20" width="79.20" height="55.10" fill="#02021c" stroke="none" stroke-width="0"/>
<g clip-path="url(#cimg22)">
<circle cx="199.6" cy="320.2" r="1.60" fill="url(#gcy)"/>
<circle cx="136.8" cy="319.1" r="1.60" fill="url(#gcy)"/>
<circle cx="194.0" cy="325.4" r="1.60" fill="url(#gcy)"/>
<circle cx="170.6" cy="365.4" r="1.60" fill="url(#gcy)"/>
<circle cx="169.7" cy="329.9" r="1.60" fill="url(#gcy)"/>
<circle cx="199.8" cy="344.5" r="1.60" fill="url(#gcy)"/>
<circle cx="142.8" cy="366.8" r="2.40" fill="url(#gbl)"/>
<circle cx="199.3" cy="349.4" r="2.44" fill="url(#gdm)"/>
<circle cx="176.0" cy="322.8" r="2.18" fill="url(#gbl)"/>
<circle cx="124.4" cy="365.0" r="2.17" fill="url(#gbl)"/>
<circle cx="157.0" cy="350.6" r="1.78" fill="url(#gdm)"/>
<circle cx="202.7" cy="332.5" r="2.06" fill="url(#gbl)"/>
<circle cx="197.3" cy="366.6" r="2.06" fill="url(#gbl)"/>
<circle cx="129.6" cy="363.3" r="2.19" fill="url(#gbl)"/>
<circle cx="137.3" cy="314.3" r="2.42" fill="url(#gdm)"/>
<circle cx="159.2" cy="360.5" r="2.17" fill="url(#gbl)"/>
<circle cx="160.2" cy="353.7" r="2.02" fill="url(#gbl)"/>
<circle cx="185.5" cy="359.0" r="2.55" fill="url(#gbl)"/>
<circle cx="123.3" cy="340.8" r="2.01" fill="url(#gbl)"/>
<circle cx="135.7" cy="351.7" r="1.94" fill="url(#gdm)"/>
<circle cx="136.5" cy="328.0" r="2.12" fill="url(#gbl)"/>
<circle cx="196.9" cy="359.8" r="2.04" fill="url(#gbl)"/>
<circle cx="190.7" cy="314.1" r="2.14" fill="url(#gbl)"/>
<circle cx="159.5" cy="326.4" r="1.94" fill="url(#gdm)"/>
<circle cx="127.1" cy="350.2" r="2.50" fill="url(#gbl)"/>
<circle cx="174.3" cy="315.4" r="2.24" fill="url(#gbl)"/>
<circle cx="122.5" cy="333.9" r="1.86" fill="url(#gbl)"/>
<circle cx="187.0" cy="363.2" r="2.03" fill="url(#gbl)"/>
<circle cx="190.7" cy="341.5" r="1.95" fill="url(#gbl)"/>
<circle cx="134.7" cy="360.1" r="2.33" fill="url(#gbl)"/>
<circle cx="188.2" cy="367.8" r="2.07" fill="url(#gbl)"/>
<circle cx="192.8" cy="355.7" r="2.29" fill="url(#gbl)"/>
<circle cx="170.4" cy="342.3" r="1.72" fill="url(#gbl)"/>
<circle cx="188.8" cy="317.8" r="1.86" fill="url(#gbl)"/>
<circle cx="174.8" cy="330.5" r="1.91" fill="url(#gdm)"/>
<circle cx="147.5" cy="318.1" r="2.00" fill="url(#gdm)"/>
<circle cx="136.0" cy="339.4" r="2.02" fill="url(#gdm)"/>
<circle cx="187.8" cy="329.7" r="2.49" fill="url(#gbl)"/>
<circle cx="163.5" cy="324.6" r="1.92" fill="url(#gbl)"/>
<circle cx="162.8" cy="316.2" r="2.04" fill="url(#gdm)"/>
<circle cx="128.5" cy="321.0" r="2.40" fill="url(#gbl)"/>
<circle cx="167.0" cy="359.2" r="2.48" fill="url(#gdm)"/>
<circle cx="185.4" cy="325.1" r="2.31" fill="url(#gbl)"/>
<circle cx="168.3" cy="346.6" r="2.20" fill="url(#gbl)"/>
<circle cx="150.6" cy="357.8" r="2.58" fill="url(#gbl)"/>
<circle cx="168.9" cy="325.2" r="1.82" fill="url(#gbl)"/>
<circle cx="181.6" cy="314.8" r="1.98" fill="url(#gbl)"/>
<circle cx="184.9" cy="319.4" r="2.34" fill="url(#gbl)"/>
<circle cx="140.7" cy="319.6" r="2.28" fill="url(#gbl)"/>
<circle cx="143.0" cy="312.7" r="2.43" fill="url(#gbl)"/>
<circle cx="134.6" cy="365.9" r="1.84" fill="url(#gdm)"/>
<circle cx="129.9" cy="333.4" r="1.86" fill="url(#gbl)"/>
<circle cx="128.6" cy="340.8" r="2.10" fill="url(#gbl)"/>
<circle cx="127.5" cy="359.4" r="2.53" fill="url(#gbl)"/>
<circle cx="140.6" cy="358.1" r="1.74" fill="url(#gbl)"/>
<circle cx="149.7" cy="344.2" r="2.51" fill="url(#gbl)"/>
<circle cx="196.5" cy="338.0" r="1.77" fill="url(#gdm)"/>
<circle cx="172.1" cy="361.0" r="1.96" fill="url(#gdm)"/>
<circle cx="123.4" cy="318.7" r="2.38" fill="url(#gbl)"/>
<circle cx="186.3" cy="348.2" r="2.30" fill="url(#gdm)"/>
<circle cx="181.3" cy="333.2" r="2.12" fill="url(#gdm)"/>
<circle cx="164.5" cy="362.7" r="1.72" fill="url(#gbl)"/>
<circle cx="149.8" cy="326.9" r="1.97" fill="url(#gbl)"/>
<circle cx="140.8" cy="354.2" r="2.34" fill="url(#gbl)"/>
<circle cx="121.9" cy="353.2" r="2.41" fill="url(#gdm)"/>
<circle cx="132.9" cy="341.5" r="1.99" fill="url(#gbl)"/>
<circle cx="177.9" cy="341.2" r="1.72" fill="url(#gbl)"/>
<circle cx="190.8" cy="361.4" r="1.94" fill="url(#gdm)"/>
<circle cx="201.3" cy="327.6" r="2.37" fill="url(#gbl)"/>
<circle cx="186.9" cy="343.3" r="2.18" fill="url(#gbl)"/>
<circle cx="155.8" cy="355.8" r="2.51" fill="url(#gdm)"/>
<circle cx="192.3" cy="335.3" r="1.75" fill="url(#gbl)"/>
<circle cx="200.6" cy="355.0" r="1.82" fill="url(#gbl)"/>
<circle cx="201.7" cy="358.8" r="2.16" fill="url(#gdm)"/>
<circle cx="166.0" cy="353.4" r="2.22" fill="url(#gbl)"/>
<circle cx="144.9" cy="322.7" r="2.42" fill="url(#gbl)"/>
<circle cx="172.6" cy="348.0" r="2.30" fill="url(#gdm)"/>
<circle cx="185.6" cy="337.7" r="1.73" fill="url(#gbl)"/>
<circle cx="169.2" cy="337.3" r="2.46" fill="url(#gdm)"/>
<circle cx="173.0" cy="333.8" r="1.79" fill="url(#gbl)"/>
<circle cx="156.6" cy="322.0" r="1.90" fill="url(#gdm)"/>
<circle cx="186.6" cy="314.0" r="2.07" fill="url(#gdm)"/>
<circle cx="182.9" cy="363.4" r="2.27" fill="url(#gdm)"/>
<circle cx="201.8" cy="368.8" r="2.35" fill="url(#gbl)"/>
<circle cx="194.4" cy="342.4" r="1.88" fill="url(#gbl)"/>
<circle cx="152.0" cy="318.9" r="1.92" fill="url(#gbl)"/>
<circle cx="162.4" cy="320.7" r="2.50" fill="url(#gbl)"/>
<circle cx="195.2" cy="315.1" r="2.33" fill="url(#gdm)"/>
<circle cx="145.5" cy="361.9" r="2.34" fill="url(#gdm)"/>
<circle cx="161.3" cy="330.7" r="2.10" fill="url(#gbl)"/>
<circle cx="139.6" cy="334.1" r="1.99" fill="url(#gbl)"/>
<circle cx="178.3" cy="369.2" r="2.34" fill="url(#gbl)"/>
<circle cx="158.3" cy="367.0" r="2.35" fill="url(#gbl)"/>
<circle cx="176.9" cy="352.4" r="2.18" fill="url(#gbl)"/>
<circle cx="123.5" cy="329.1" r="1.71" fill="url(#gbl)"/>
<circle cx="151.4" cy="364.2" r="2.18" fill="url(#gbl)"/>
<circle cx="158.0" cy="338.3" r="2.20" fill="url(#gbl)"/>
<circle cx="202.5" cy="312.4" r="2.22" fill="url(#gbl)"/>
<circle cx="141.7" cy="348.5" r="2.10" fill="url(#gbl)"/>
<circle cx="170.1" cy="318.8" r="1.82" fill="url(#gbl)"/>
<circle cx="162.0" cy="365.2" r="2.06" fill="url(#gbl)"/>
<circle cx="194.5" cy="320.3" r="2.35" fill="url(#gdm)"/>
<circle cx="177.4" cy="336.7" r="2.36" fill="url(#gbl)"/>
<circle cx="130.5" cy="313.2" r="1.87" fill="url(#gbl)"/>
<circle cx="177.0" cy="361.6" r="2.48" fill="url(#gbl)"/>
</g>
<clipPath id="cimg23"><rect x="211.3" y="313.2" width="79.3" height="55.1"/></clipPath>
<rect x="211.30" y="313.20" width="79.30" height="55.10" fill="#02021c" stroke="none" stroke-width="0"/>
<g clip-path="url(#cimg23)">
<circle cx="285.5" cy="366.4" r="2.51" fill="url(#gbl)"/>
<circle cx="217.1" cy="346.0" r="2.14" fill="url(#gbl)"/>
<circle cx="253.4" cy="319.6" r="1.95" fill="url(#gbl)"/>
<circle cx="246.4" cy="324.8" r="2.16" fill="url(#gbl)"/>
<circle cx="212.3" cy="317.1" r="2.37" fill="url(#gbl)"/>
<circle cx="244.5" cy="341.5" r="2.39" fill="url(#gbl)"/>
<circle cx="239.5" cy="315.5" r="2.43" fill="url(#gbl)"/>
<circle cx="258.2" cy="349.8" r="2.30" fill="url(#gbl)"/>
<circle cx="289.2" cy="332.9" r="2.41" fill="url(#gbl)"/>
<circle cx="240.3" cy="344.9" r="2.33" fill="url(#gbl)"/>
<circle cx="268.7" cy="345.9" r="2.16" fill="url(#gbl)"/>
<circle cx="262.5" cy="322.6" r="1.94" fill="url(#gbl)"/>
<circle cx="236.6" cy="358.8" r="1.96" fill="url(#gbl)"/>
<circle cx="219.6" cy="317.8" r="1.83" fill="url(#gdm)"/>
<circle cx="232.7" cy="344.9" r="2.46" fill="url(#gbl)"/>
<circle cx="237.2" cy="333.3" r="2.03" fill="url(#gbl)"/>
<circle cx="231.3" cy="318.3" r="2.43" fill="url(#gbl)"/>
<circle cx="267.8" cy="359.5" r="1.99" fill="url(#gbl)"/>
<circle cx="254.6" cy="364.7" r="2.27" fill="url(#gbl)"/>
<circle cx="287.2" cy="321.8" r="2.58" fill="url(#gbl)"/>
<circle cx="214.8" cy="336.0" r="1.82" fill="url(#gbl)"/>
<circle cx="276.1" cy="351.4" r="2.58" fill="url(#gbl)"/>
<circle cx="275.7" cy="366.4" r="2.23" fill="url(#gbl)"/>
<circle cx="290.6" cy="355.0" r="2.08" fill="url(#gbl)"/>
<circle cx="218.7" cy="342.4" r="1.94" fill="url(#gdm)"/>
<circle cx="254.5" cy="358.6" r="2.00" fill="url(#gbl)"/>
<circle cx="244.6" cy="363.6" r="2.16" fill="url(#gbl)"/>
<circle cx="238.2" cy="363.2" r="2.45" fill="url(#gbl)"/>
<circle cx="283.1" cy="351.5" r="2.13" fill="url(#gdm)"/>
<circle cx="229.7" cy="329.1" r="2.13" fill="url(#gbl)"/>
<circle cx="273.0" cy="344.0" r="2.24" fill="url(#gbl)"/>
<circle cx="277.5" cy="318.4" r="2.30" fill="url(#gbl)"/>
<circle cx="230.5" cy="366.5" r="1.86" fill="url(#gdm)"/>
<circle cx="256.0" cy="343.1" r="1.99" fill="url(#gbl)"/>
<circle cx="255.9" cy="339.1" r="2.16" fill="url(#gbl)"/>
<circle cx="268.7" cy="312.4" r="2.10" fill="url(#gdm)"/>
<circle cx="226.9" cy="351.1" r="1.94" fill="url(#gbl)"/>
<circle cx="246.8" cy="336.3" r="1.87" fill="url(#gbl)"/>
<circle cx="267.2" cy="339.6" r="2.35" fill="url(#gbl)"/>
<circle cx="281.6" cy="361.5" r="2.20" fill="url(#gbl)"/>
<circle cx="234.0" cy="330.5" r="2.08" fill="url(#gdm)"/>
<circle cx="234.9" cy="367.0" r="2.07" fill="url(#gbl)"/>
<circle cx="241.8" cy="336.2" r="2.45" fill="url(#gbl)"/>
<circle cx="249.1" cy="343.8" r="2.00" fill="url(#gbl)"/>
<circle cx="231.8" cy="360.9" r="2.20" fill="url(#gbl)"/>
<circle cx="219.3" cy="338.6" r="1.90" fill="url(#gdm)"/>
<circle cx="290.2" cy="348.4" r="1.83" fill="url(#gbl)"/>
<circle cx="275.9" cy="327.9" r="2.09" fill="url(#gdm)"/>
<circle cx="222.2" cy="360.0" r="1.87" fill="url(#gbl)"/>
<circle cx="270.3" cy="334.8" r="2.34" fill="url(#gbl)"/>
<circle cx="248.4" cy="352.7" r="2.26" fill="url(#gdm)"/>
<circle cx="273.0" cy="359.1" r="2.28" fill="url(#gbl)"/>
<circle cx="258.4" cy="330.9" r="1.91" fill="url(#gbl)"/>
<circle cx="217.8" cy="361.1" r="1.96" fill="url(#gbl)"/>
<circle cx="245.0" cy="330.3" r="2.30" fill="url(#gbl)"/>
<circle cx="239.7" cy="349.4" r="2.40" fill="url(#gbl)"/>
<circle cx="285.5" cy="330.0" r="2.51" fill="url(#gdm)"/>
<circle cx="290.1" cy="368.3" r="1.90" fill="url(#gdm)"/>
<circle cx="241.2" cy="356.4" r="2.46" fill="url(#gbl)"/>
<circle cx="245.0" cy="359.2" r="2.27" fill="url(#gdm)"/>
<circle cx="253.9" cy="347.8" r="2.14" fill="url(#gbl)"/>
<circle cx="259.8" cy="364.7" r="2.59" fill="url(#gbl)"/>
<circle cx="264.0" cy="336.8" r="1.85" fill="url(#gbl)"/>
<circle cx="278.6" cy="334.6" r="2.11" fill="url(#gdm)"/>
<circle cx="264.6" cy="327.8" r="1.93" fill="url(#gbl)"/>
<circle cx="259.3" cy="315.8" r="2.27" fill="url(#gbl)"/>
<circle cx="226.3" cy="332.0" r="2.58" fill="url(#gbl)"/>
<circle cx="288.6" cy="313.5" r="2.43" fill="url(#gdm)"/>
<circle cx="266.3" cy="366.3" r="2.33" fill="url(#gbl)"/>
<circle cx="270.1" cy="354.0" r="1.86" fill="url(#gbl)"/>
<circle cx="215.3" cy="350.0" r="1.91" fill="url(#gbl)"/>
<circle cx="275.1" cy="332.4" r="2.27" fill="url(#gbl)"/>
<circle cx="227.2" cy="358.1" r="2.44" fill="url(#gbl)"/>
<circle cx="259.1" cy="359.2" r="2.37" fill="url(#gbl)"/>
<circle cx="251.6" cy="332.6" r="1.96" fill="url(#gbl)"/>
<circle cx="251.0" cy="368.4" r="2.41" fill="url(#gbl)"/>
<circle cx="218.4" cy="326.3" r="2.10" fill="url(#gdm)"/>
<circle cx="282.3" cy="338.4" r="1.93" fill="url(#gbl)"/>
<circle cx="255.0" cy="326.3" r="1.83" fill="url(#gbl)"/>
<circle cx="270.2" cy="320.9" r="2.25" fill="url(#gbl)"/>
<circle cx="262.1" cy="355.5" r="2.16" fill="url(#gbl)"/>
<circle cx="214.6" cy="365.2" r="2.01" fill="url(#gbl)"/>
<circle cx="249.3" cy="357.5" r="2.12" fill="url(#gbl)"/>
<circle cx="212.2" cy="361.2" r="2.42" fill="url(#gbl)"/>
<circle cx="266.6" cy="318.2" r="2.39" fill="url(#gbl)"/>
<circle cx="222.0" cy="329.2" r="2.22" fill="url(#gbl)"/>
<circle cx="211.2" cy="331.4" r="2.04" fill="url(#gbl)"/>
<circle cx="285.6" cy="356.8" r="2.33" fill="url(#gbl)"/>
<circle cx="222.3" cy="353.9" r="2.40" fill="url(#gdm)"/>
<circle cx="279.6" cy="355.7" r="2.52" fill="url(#gbl)"/>
<circle cx="271.0" cy="328.3" r="2.20" fill="url(#gbl)"/>
<circle cx="281.7" cy="345.1" r="1.89" fill="url(#gbl)"/>
</g>
<clipPath id="cimg24"><rect x="292.9" y="313.2" width="78.7" height="55.1"/></clipPath>
<rect x="292.90" y="313.20" width="78.70" height="55.10" fill="#02021c" stroke="none" stroke-width="0"/>
<g clip-path="url(#cimg24)">
<circle cx="349.4" cy="360.2" r="1.60" fill="url(#gcy)"/>
<circle cx="307.6" cy="350.5" r="1.60" fill="url(#gcy)"/>
<circle cx="351.5" cy="337.6" r="1.60" fill="url(#gcy)"/>
<circle cx="304.6" cy="330.9" r="1.60" fill="url(#gcy)"/>
<circle cx="317.4" cy="363.3" r="1.60" fill="url(#gcy)"/>
<circle cx="361.3" cy="327.4" r="1.60" fill="url(#gcy)"/>
<circle cx="299.5" cy="340.4" r="1.83" fill="url(#gdm)"/>
<circle cx="353.6" cy="342.6" r="2.27" fill="url(#gdm)"/>
<circle cx="313.0" cy="349.0" r="2.05" fill="url(#gbl)"/>
<circle cx="356.0" cy="335.2" r="2.45" fill="url(#gbl)"/>
<circle cx="312.1" cy="322.8" r="2.09" fill="url(#gdm)"/>
<circle cx="353.6" cy="314.3" r="2.34" fill="url(#gbl)"/>
<circle cx="323.9" cy="324.8" r="1.96" fill="url(#gbl)"/>
<circle cx="343.6" cy="313.2" r="2.19" fill="url(#gbl)"/>
<circle cx="317.6" cy="353.4" r="1.72" fill="url(#gbl)"/>
<circle cx="360.1" cy="342.4" r="1.89" fill="url(#gbl)"/>
<circle cx="327.9" cy="322.2" r="2.44" fill="url(#gbl)"/>
<circle cx="296.1" cy="365.6" r="2.33" fill="url(#gbl)"/>
<circle cx="300.3" cy="322.6" r="2.15" fill="url(#gbl)"/>
<circle cx="298.3" cy="357.8" r="2.33" fill="url(#gdm)"/>
<circle cx="359.1" cy="331.7" r="1.84" fill="url(#gdm)"/>
<circle cx="302.5" cy="367.4" r="2.48" fill="url(#gbl)"/>
<circle cx="352.2" cy="346.9" r="1.91" fill="url(#gbl)"/>
<circle cx="313.7" cy="315.8" r="2.58" fill="url(#gbl)"/>
<circle cx="337.4" cy="339.4" r="2.38" fill="url(#gdm)"/>
<circle cx="347.5" cy="321.1" r="1.86" fill="url(#gbl)"/>
<circle cx="357.8" cy="354.0" r="1.91" fill="url(#gbl)"/>
<circle cx="336.4" cy="365.9" r="2.27" fill="url(#gdm)"/>
<circle cx="357.9" cy="366.6" r="2.00" fill="url(#gbl)"/>
<circle cx="339.0" cy="332.7" r="2.33" fill="url(#gbl)"/>
<circle cx="362.1" cy="321.6" r="1.83" fill="url(#gbl)"/>
<circle cx="341.2" cy="363.1" r="2.14" fill="url(#gdm)"/>
<circle cx="292.3" cy="341.3" r="2.56" fill="url(#gdm)"/>
<circle cx="331.1" cy="364.1" r="2.46" fill="url(#gbl)"/>
<circle cx="320.2" cy="317.7" r="1.80" fill="url(#gbl)"/>
<circle cx="342.4" cy="322.4" r="2.39" fill="url(#gbl)"/>
<circle cx="369.5" cy="323.7" r="2.08" fill="url(#gbl)"/>
<circle cx="335.2" cy="355.9" r="1.95" fill="url(#gbl)"/>
<circle cx="346.2" cy="344.0" r="2.18" fill="url(#gbl)"/>
<circle cx="341.7" cy="354.2" r="2.40" fill="url(#gbl)"/>
<circle cx="365.1" cy="345.1" r="2.03" fill="url(#gbl)"/>
<circle cx="361.5" cy="356.3" r="1.81" fill="url(#gbl)"/>
<circle cx="369.0" cy="356.5" r="1.90" fill="url(#gbl)"/>
<circle cx="361.5" cy="337.0" r="2.37" fill="url(#gbl)"/>
<circle cx="306.9" cy="342.6" r="1.82" fill="url(#gbl)"/>
<circle cx="354.0" cy="356.9" r="1.99" fill="url(#gdm)"/>
<circle cx="368.4" cy="360.3" r="2.15" fill="url(#gbl)"/>
<circle cx="301.2" cy="314.1" r="2.57" fill="url(#gdm)"/>
<circle cx="371.1" cy="336.0" r="2.49" fill="url(#gdm)"/>
<circle cx="365.0" cy="362.8" r="2.27" fill="url(#gbl)"/>
<circle cx="294.4" cy="326.7" r="2.24" fill="url(#gbl)"/>
<circle cx="339.7" cy="319.1" r="2.16" fill="url(#gbl)"/>
<circle cx="352.8" cy="351.0" r="2.34" fill="url(#gdm)"/>
<circle cx="350.1" cy="368.1" r="2.53" fill="url(#gdm)"/>
<circle cx="363.5" cy="367.8" r="2.55" fill="url(#gbl)"/>
<circle cx="324.5" cy="312.3" r="1.99" fill="url(#gbl)"/>
<circle cx="314.8" cy="369.0" r="2.12" fill="url(#gdm)"/>
<circle cx="359.1" cy="362.1" r="2.20" fill="url(#gdm)"/>
<circle cx="312.9" cy="363.9" r="1.84" fill="url(#gbl)"/>
<circle cx="310.6" cy="354.7" r="2.57" fill="url(#gbl)"/>
<circle cx="360.7" cy="348.1" r="2.03" fill="url(#gbl)"/>
<circle cx="304.5" cy="339.5" r="2.27" fill="url(#gbl)"/>
<circle cx="306.9" cy="368.7" r="2.32" fill="url(#gbl)"/>
<circle cx="293.6" cy="357.1" r="2.21" fill="url(#gbl)"/>
<circle cx="321.9" cy="356.9" r="1.84" fill="url(#gdm)"/>
<circle cx="292.9" cy="348.0" r="1.71" fill="url(#gdm)"/>
<circle cx="324.1" cy="332.2" r="2.41" fill="url(#gbl)"/>
<circle cx="342.6" cy="334.2" r="1.78" fill="url(#gbl)"/>
<circle cx="331.0" cy="347.3" r="1.83" fill="url(#gbl)"/>
<circle cx="298.3" cy="330.0" r="2.49" fill="url(#gbl)"/>
<circle cx="333.8" cy="321.7" r="2.53" fill="url(#gdm)"/>
<circle cx="325.1" cy="353.7" r="1.93" fill="url(#gbl)"/>
<circle cx="305.6" cy="327.0" r="1.97" fill="url(#gbl)"/>
<circle cx="365.8" cy="325.8" r="2.22" fill="url(#gbl)"/>
<circle cx="338.6" cy="344.0" r="2.38" fill="url(#gbl)"/>
<circle cx="337.5" cy="325.5" r="2.52" fill="url(#gdm)"/>
<circle cx="305.6" cy="319.4" r="2.01" fill="url(#gbl)"/>
<circle cx="370.8" cy="345.5" r="2.02" fill="url(#gbl)"/>
<circle cx="303.5" cy="356.2" r="1.74" fill="url(#gdm)"/>
<circle cx="342.2" cy="330.1" r="1.74" fill="url(#gbl)"/>
<circle cx="301.3" cy="335.5" r="2.52" fill="url(#gbl)"/>
<circle cx="332.4" cy="359.4" r="2.33" fill="url(#gdm)"/>
<circle cx="332.3" cy="329.0" r="2.10" fill="url(#gbl)"/>
<circle cx="350.3" cy="327.6" r="2.14" fill="url(#gdm)"/>
<circle cx="313.8" cy="340.8" r="2.13" fill="url(#gbl)"/>
<circle cx="321.6" cy="366.0" r="2.41" fill="url(#gbl)"/>
<circle cx="368.5" cy="331.5" r="2.53" fill="url(#gbl)"/>
<circle cx="349.3" cy="331.8" r="2.43" fill="url(#gbl)"/>
<circle cx="372.4" cy="360.0" r="1.74" fill="url(#gbl)"/>
<circle cx="314.1" cy="327.4" r="2.49" fill="url(#gbl)"/>
<circle cx="292.8" cy="316.7" r="1.85" fill="url(#gdm)"/>
<circle cx="366.7" cy="313.8" r="1.97" fill="url(#gbl)"/>
<circle cx="340.0" cy="350.2" r="2.01" fill="url(#gbl)"/>
<circle cx="345.7" cy="328.9" r="1.70" fill="url(#gbl)"/>
<circle cx="295.7" cy="333.9" r="2.41" fill="url(#gdm)"/>
</g>
<line x1="410.00" y1="366.50" x2="490.50" y2="366.50" stroke="#111" stroke-width="1.0"/>
<line x1="410.50" y1="367.00" x2="410.50" y2="285.10" stroke="#111" stroke-width="1.0"/>
<line x1="408.30" y1="366.60" x2="410.50" y2="366.60" stroke="#111" stroke-width="1.0"/>
<text x="406.80" y="369.96" font-size="9.6" text-anchor="end" font-weight="normal" fill="#111" stroke="#111" stroke-width="0.2" >0</text>
<line x1="408.30" y1="350.40" x2="410.50" y2="350.40" stroke="#111" stroke-width="1.0"/>
<text x="406.80" y="353.76" font-size="9.6" text-anchor="end" font-weight="normal" fill="#111" stroke="#111" stroke-width="0.2" >5</text>
<line x1="408.30" y1="334.20" x2="410.50" y2="334.20" stroke="#111" stroke-width="1.0"/>
<text x="406.80" y="337.56" font-size="9.6" text-anchor="end" font-weight="normal" fill="#111" stroke="#111" stroke-width="0.2" >10</text>
<line x1="408.30" y1="318.00" x2="410.50" y2="318.00" stroke="#111" stroke-width="1.0"/>
<text x="406.80" y="321.36" font-size="9.6" text-anchor="end" font-weight="normal" fill="#111" stroke="#111" stroke-width="0.2" >15</text>
<line x1="408.30" y1="301.80" x2="410.50" y2="301.80" stroke="#111" stroke-width="1.0"/>
<text x="406.80" y="305.16" font-size="9.6" text-anchor="end" font-weight="normal" fill="#111" stroke="#111" stroke-width="0.2" >20</text>
<line x1="408.30" y1="285.60" x2="410.50" y2="285.60" stroke="#111" stroke-width="1.0"/>
<text x="406.80" y="288.96" font-size="9.6" text-anchor="end" font-weight="normal" fill="#111" stroke="#111" stroke-width="0.2" >25</text>
<line x1="423.60" y1="353.96" x2="423.60" y2="351.05" stroke="#111" stroke-width="0.9"/>
<line x1="420.90" y1="351.05" x2="426.30" y2="351.05" stroke="#111" stroke-width="0.9"/>
<rect x="419.45" y="354.41" width="8.30" height="11.59" fill="#ff0000" stroke="#111" stroke-width="0.9"/>
<line x1="438.60" y1="299.86" x2="438.60" y2="295.32" stroke="#111" stroke-width="0.9"/>
<line x1="435.90" y1="295.32" x2="441.30" y2="295.32" stroke="#111" stroke-width="0.9"/>
<rect x="434.45" y="300.31" width="8.30" height="65.69" fill="#ff0000" stroke="#111" stroke-width="0.9"/>
<text x="438.60" y="294.65" font-size="9.5" text-anchor="middle" font-weight="normal" fill="#111" stroke="#111" stroke-width="0.2" >***</text>
<line x1="463.70" y1="347.48" x2="463.70" y2="344.24" stroke="#111" stroke-width="0.9"/>
<line x1="461.00" y1="344.24" x2="466.40" y2="344.24" stroke="#111" stroke-width="0.9"/>
<rect x="459.25" y="347.93" width="8.90" height="18.07" fill="#0000ff" stroke="#111" stroke-width="0.9"/>
<line x1="478.70" y1="308.93" x2="478.70" y2="304.07" stroke="#111" stroke-width="0.9"/>
<line x1="476.00" y1="304.07" x2="481.40" y2="304.07" stroke="#111" stroke-width="0.9"/>
<rect x="474.25" y="309.38" width="8.90" height="56.62" fill="#0000ff" stroke="#111" stroke-width="0.9"/>
<text x="478.70" y="303.40" font-size="9.5" text-anchor="middle" font-weight="normal" fill="#111" stroke="#111" stroke-width="0.2" >**</text>
<line x1="423.60" y1="366.60" x2="423.60" y2="368.60" stroke="#111" stroke-width="0.8"/>
<text x="423.60" y="380.00" font-size="9.6" text-anchor="middle" font-weight="normal" fill="#111" stroke="#111" stroke-width="0.2" >0</text>
<line x1="438.60" y1="366.60" x2="438.60" y2="368.60" stroke="#111" stroke-width="0.8"/>
<text x="438.60" y="380.00" font-size="9.6" text-anchor="middle" font-weight="normal" fill="#111" stroke="#111" stroke-width="0.2" >10</text>
<line x1="463.70" y1="366.60" x2="463.70" y2="368.60" stroke="#111" stroke-width="0.8"/>
<text x="463.70" y="380.00" font-size="9.6" text-anchor="middle" font-weight="normal" fill="#111" stroke="#111" stroke-width="0.2" >0</text>
<line x1="478.70" y1="366.60" x2="478.70" y2="368.60" stroke="#111" stroke-width="0.8"/>
<text x="478.70" y="380.00" font-size="9.6" text-anchor="middle" font-weight="normal" fill="#111" stroke="#111" stroke-width="0.2" >10</text>
<text x="496.30" y="380.30" font-size="9.8" text-anchor="start" font-weight="normal" fill="#111" stroke="#111" stroke-width="0.2" >μM</text>
<text transform="translate(391.20,326.30) rotate(-90)" x="0" y="0" font-size="9.2" text-anchor="middle" fill="#111" stroke="#111" stroke-width="0.2">Apoptosis cell (%)</text>
<rect x="502.10" y="287.50" width="8.30" height="6.20" fill="#ff0000" stroke="#111" stroke-width="0.8"/>
<rect x="502.10" y="298.10" width="8.30" height="6.20" fill="#0000ff" stroke="#111" stroke-width="0.8"/>
<text x="515.20" y="293.80" font-size="8.4" text-anchor="start" font-weight="normal" fill="#111" stroke="#111" stroke-width="0.2" >MIA PaCa-2</text>
<text x="515.20" y="304.40" font-size="8.8" text-anchor="start" font-weight="normal" fill="#111" stroke="#111" stroke-width="0.2" >PANC-1</text>
<text x="589.20" y="255.40" font-size="21" text-anchor="start" font-weight="bold" fill="#000" stroke="#000" stroke-width="0" >D</text>
<line x1="629.00" y1="369.50" x2="715.60" y2="369.50" stroke="#111" stroke-width="1.0"/>
<line x1="629.50" y1="370.00" x2="629.50" y2="282.30" stroke="#111" stroke-width="1.0"/>
<line x1="627.30" y1="369.20" x2="629.50" y2="369.20" stroke="#111" stroke-width="1.0"/>
<text x="625.50" y="372.63" font-size="9.8" text-anchor="end" font-weight="normal" fill="#111" stroke="#111" stroke-width="0.2" >0</text>
<line x1="627.30" y1="347.60" x2="629.50" y2="347.60" stroke="#111" stroke-width="1.0"/>
<text x="625.50" y="351.03" font-size="9.8" text-anchor="end" font-weight="normal" fill="#111" stroke="#111" stroke-width="0.2" >5</text>
<line x1="627.30" y1="326.00" x2="629.50" y2="326.00" stroke="#111" stroke-width="1.0"/>
<text x="625.50" y="329.43" font-size="9.8" text-anchor="end" font-weight="normal" fill="#111" stroke="#111" stroke-width="0.2" >10</text>
<line x1="627.30" y1="304.40" x2="629.50" y2="304.40" stroke="#111" stroke-width="1.0"/>
<text x="625.50" y="307.83" font-size="9.8" text-anchor="end" font-weight="normal" fill="#111" stroke="#111" stroke-width="0.2" >15</text>
<line x1="627.30" y1="282.80" x2="629.50" y2="282.80" stroke="#111" stroke-width="1.0"/>
<text x="625.50" y="286.23" font-size="9.8" text-anchor="end" font-weight="normal" fill="#111" stroke="#111" stroke-width="0.2" >20</text>
<line x1="642.85" y1="304.40" x2="642.85" y2="300.08" stroke="#111" stroke-width="0.9"/>
<line x1="640.15" y1="300.08" x2="645.55" y2="300.08" stroke="#111" stroke-width="0.9"/>
<rect x="638.45" y="304.85" width="8.80" height="64.15" fill="#e0001b" stroke="#111" stroke-width="0.9"/>
<line x1="658.65" y1="348.03" x2="658.65" y2="345.01" stroke="#111" stroke-width="0.9"/>
<line x1="655.95" y1="345.01" x2="661.35" y2="345.01" stroke="#111" stroke-width="0.9"/>
<rect x="654.15" y="348.48" width="9.00" height="20.52" fill="#e0001b" stroke="#111" stroke-width="0.9"/>
<text x="658.65" y="345.60" font-size="9.4" text-anchor="middle" font-weight="normal" fill="#111" stroke="#111" stroke-width="0.2" >**</text>
<line x1="686.30" y1="313.47" x2="686.30" y2="308.29" stroke="#111" stroke-width="0.9"/>
<line x1="683.60" y1="308.29" x2="689.00" y2="308.29" stroke="#111" stroke-width="0.9"/>
<rect x="681.65" y="313.92" width="9.30" height="55.08" fill="#0a2cc0" stroke="#111" stroke-width="0.9"/>
<line x1="702.20" y1="338.96" x2="702.20" y2="335.50" stroke="#111" stroke-width="0.9"/>
<line x1="699.50" y1="335.50" x2="704.90" y2="335.50" stroke="#111" stroke-width="0.9"/>
<rect x="697.45" y="339.41" width="9.50" height="29.59" fill="#0a2cc0" stroke="#111" stroke-width="0.9"/>
<text x="702.20" y="336.10" font-size="9.4" text-anchor="middle" font-weight="normal" fill="#111" stroke="#111" stroke-width="0.2" >**</text>
<line x1="642.80" y1="369.20" x2="642.80" y2="371.20" stroke="#111" stroke-width="0.8"/>
<text x="643.00" y="382.60" font-size="10.2" text-anchor="middle" font-weight="normal" fill="#111" stroke="#111" stroke-width="0.2" >0</text>
<line x1="658.60" y1="369.20" x2="658.60" y2="371.20" stroke="#111" stroke-width="0.8"/>
<text x="659.50" y="382.60" font-size="10.2" text-anchor="middle" font-weight="normal" fill="#111" stroke="#111" stroke-width="0.2" >10</text>
<line x1="686.30" y1="369.20" x2="686.30" y2="371.20" stroke="#111" stroke-width="0.8"/>
<text x="685.90" y="383.40" font-size="10.2" text-anchor="middle" font-weight="normal" fill="#111" stroke="#111" stroke-width="0.2" >0</text>
<line x1="702.20" y1="369.20" x2="702.20" y2="371.20" stroke="#111" stroke-width="0.8"/>
<text x="703.50" y="383.40" font-size="10.2" text-anchor="middle" font-weight="normal" fill="#111" stroke="#111" stroke-width="0.2" >10</text>
<text x="714.60" y="383.20" font-size="10.4" text-anchor="start" font-weight="normal" fill="#111" stroke="#111" stroke-width="0.2" >μM</text>
<text transform="translate(595.70,323.20) rotate(-90)" x="0" y="0" font-size="9.4" text-anchor="middle" fill="#111" stroke="#111" stroke-width="0.2">Fluorescence ratio</text>
<text transform="translate(605.70,324.00) rotate(-90)" x="0" y="0" font-size="9.4" text-anchor="middle" fill="#111" stroke="#111" stroke-width="0.2">Red 590 nm/green 540 nm</text>
<rect x="712.90" y="276.40" width="9.00" height="7.60" fill="#e0001b" stroke="#111" stroke-width="0.8"/>
<rect x="712.90" y="291.40" width="9.00" height="7.40" fill="#0a2cc0" stroke="#111" stroke-width="0.8"/>
<text x="727.60" y="284.60" font-size="9.5" text-anchor="start" font-weight="normal" fill="#111" stroke="#111" stroke-width="0.2" >MIA PaCa-2</text>
<text x="727.60" y="299.40" font-size="9.3" text-anchor="start" font-weight="normal" fill="#111" stroke="#111" stroke-width="0.2" >PANC-1</text>
</svg>
</body></html>
